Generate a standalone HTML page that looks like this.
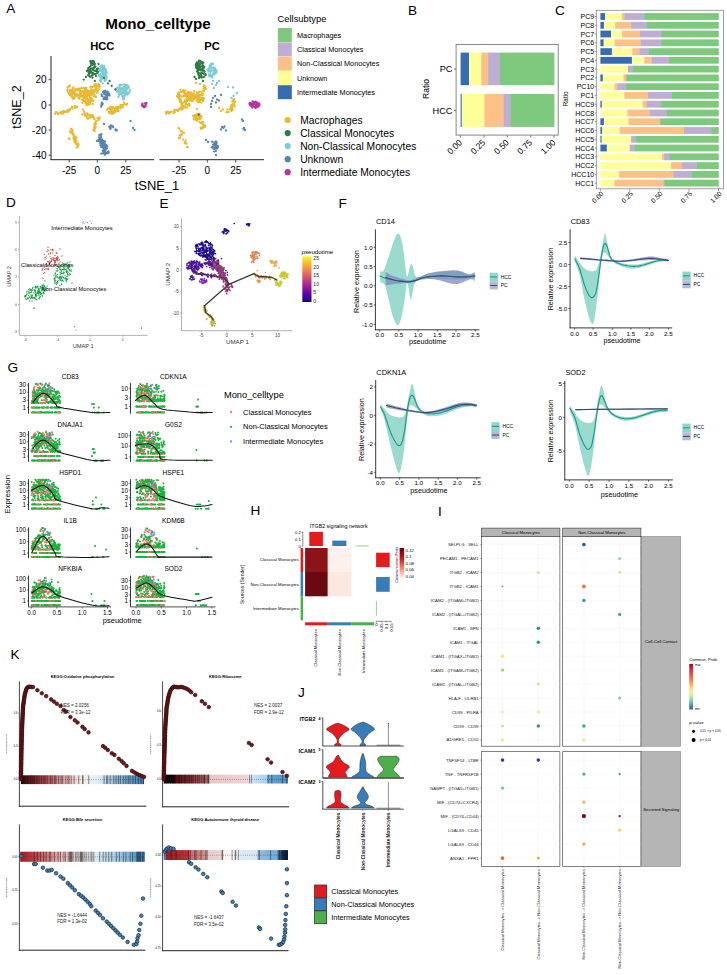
<!DOCTYPE html>
<html><head><meta charset="utf-8"><title>Figure</title>
<style>html,body{margin:0;padding:0;background:#fff}svg{display:block}text{font-family:"Liberation Sans",sans-serif}</style>
</head><body>
<svg width="727" height="975" viewBox="0 0 727 975">
<rect width="727" height="975" fill="#fff"/>
<text x="6.3" y="13.3" font-size="13.6">A</text>
<text x="408.0" y="15.3" font-size="13.6">B</text>
<text x="555.0" y="14.7" font-size="13.6">C</text>
<text x="6.0" y="206.6" font-size="13.6">D</text>
<text x="159.5" y="207.5" font-size="13.6">E</text>
<text x="338.5" y="207.5" font-size="13.6">F</text>
<text x="7.5" y="372.2" font-size="13.6">G</text>
<text x="250.5" y="515.3" font-size="13.6">H</text>
<text x="438.0" y="516.0" font-size="13.6">I</text>
<text x="298.0" y="696.5" font-size="13.6">J</text>
<text x="10.5" y="658.8" font-size="13.6">K</text>
<text x="158.0" y="28.7" font-size="15.2" text-anchor="middle" font-weight="bold">Mono_celltype</text>
<text x="102.3" y="49.8" font-size="11.2" text-anchor="middle" font-weight="bold">HCC</text>
<text x="212.0" y="49.8" font-size="11.2" text-anchor="middle" font-weight="bold">PC</text>
<line x1="51.0" y1="56.0" x2="51.0" y2="160.0" stroke="#222" stroke-width="1"/>
<line x1="50.5" y1="159.7" x2="154.0" y2="159.7" stroke="#222" stroke-width="1"/>
<line x1="159.5" y1="159.7" x2="264.0" y2="159.7" stroke="#222" stroke-width="1"/>
<line x1="48.5" y1="79.7" x2="51.0" y2="79.7" stroke="#222" stroke-width="0.8"/>
<text x="46.5" y="83.3" font-size="10" text-anchor="end">20</text>
<line x1="48.5" y1="105.0" x2="51.0" y2="105.0" stroke="#222" stroke-width="0.8"/>
<text x="46.5" y="108.6" font-size="10" text-anchor="end">0</text>
<line x1="48.5" y1="130.0" x2="51.0" y2="130.0" stroke="#222" stroke-width="0.8"/>
<text x="46.5" y="133.6" font-size="10" text-anchor="end">-20</text>
<line x1="48.5" y1="155.2" x2="51.0" y2="155.2" stroke="#222" stroke-width="0.8"/>
<text x="46.5" y="158.8" font-size="10" text-anchor="end">-40</text>
<line x1="69.2" y1="160.0" x2="69.2" y2="162.5" stroke="#222" stroke-width="0.8"/>
<text x="69.2" y="173.5" font-size="10" text-anchor="middle">-25</text>
<line x1="97.4" y1="160.0" x2="97.4" y2="162.5" stroke="#222" stroke-width="0.8"/>
<text x="97.4" y="173.5" font-size="10" text-anchor="middle">0</text>
<line x1="125.8" y1="160.0" x2="125.8" y2="162.5" stroke="#222" stroke-width="0.8"/>
<text x="125.8" y="173.5" font-size="10" text-anchor="middle">25</text>
<line x1="179.1" y1="160.0" x2="179.1" y2="162.5" stroke="#222" stroke-width="0.8"/>
<text x="179.1" y="173.5" font-size="10" text-anchor="middle">-25</text>
<line x1="207.3" y1="160.0" x2="207.3" y2="162.5" stroke="#222" stroke-width="0.8"/>
<text x="207.3" y="173.5" font-size="10" text-anchor="middle">0</text>
<line x1="235.7" y1="160.0" x2="235.7" y2="162.5" stroke="#222" stroke-width="0.8"/>
<text x="235.7" y="173.5" font-size="10" text-anchor="middle">25</text>
<text x="157.0" y="190.3" font-size="12.9" text-anchor="middle">tSNE_1</text>
<text transform="translate(20.6 107.0) rotate(-90)" font-size="12.6" text-anchor="middle">tSNE_2</text>
<path d="M77.2 96.0h0M79.7 95.3h0M71.8 96.6h0M73.4 92.9h0M73.8 93.5h0M76.4 93.9h0M77.0 89.2h0M75.4 95.3h0M79.9 91.3h0M71.1 96.0h0M81.1 94.9h0M73.5 98.8h0M76.8 94.7h0M76.5 89.7h0M72.6 91.6h0M71.4 96.7h0M79.4 94.8h0M75.4 94.5h0M70.2 95.4h0M71.9 91.1h0M73.7 97.2h0M73.2 87.5h0M72.1 91.6h0M78.3 89.7h0M73.7 98.4h0M79.7 97.3h0M75.2 88.8h0M72.5 93.2h0M74.4 91.9h0M69.9 90.5h0M72.6 98.6h0M70.5 90.0h0M70.2 94.3h0M80.6 91.0h0M72.7 89.2h0M74.5 91.5h0M80.2 92.8h0M73.7 98.8h0M73.0 89.5h0M74.1 93.2h0M77.0 94.8h0M75.2 91.4h0M75.0 95.3h0M77.8 90.1h0M73.2 93.6h0M78.6 89.8h0M78.9 88.6h0M72.0 94.7h0M77.9 90.4h0M78.7 98.2h0M75.3 95.7h0M71.9 93.3h0M74.6 98.0h0M74.6 93.2h0M71.4 91.4h0M81.5 88.1h0M80.3 90.9h0M89.4 95.8h0M85.2 87.9h0M85.9 88.2h0M80.5 96.4h0M82.5 92.4h0M85.6 94.7h0M85.7 96.5h0M87.9 95.2h0M84.1 94.1h0M82.5 95.6h0M84.8 93.3h0M87.3 98.1h0M82.0 96.7h0M87.0 96.7h0M90.4 93.7h0M79.2 94.4h0M85.6 95.1h0M83.6 97.8h0M87.4 99.0h0M85.0 93.7h0M87.1 97.8h0M89.1 94.8h0M89.0 93.4h0M81.8 88.3h0M81.6 96.5h0M84.4 91.4h0M84.9 89.3h0M84.7 97.7h0M90.3 93.4h0M86.2 88.4h0M83.6 88.1h0M80.7 93.7h0M88.1 94.7h0M83.8 95.1h0M82.7 90.9h0M77.5 96.1h0M90.8 93.5h0M79.5 98.8h0M84.5 97.0h0M84.9 96.8h0M88.5 91.0h0M77.6 94.8h0M85.7 89.0h0M82.9 92.4h0M85.3 87.9h0M78.0 94.8h0M84.7 91.3h0M85.3 90.4h0M78.5 97.9h0M88.2 92.6h0M86.9 98.8h0M85.5 95.9h0M86.3 88.2h0M85.2 91.8h0M80.2 88.6h0M80.0 92.8h0M86.5 94.2h0M79.9 88.8h0M88.6 92.1h0M87.2 90.9h0M85.5 99.7h0M83.1 97.1h0M81.1 92.4h0M89.1 93.7h0M94.0 90.6h0M88.3 93.1h0M96.1 89.0h0M95.7 89.8h0M87.5 91.0h0M96.7 92.6h0M93.8 96.2h0M92.1 91.6h0M89.3 92.5h0M86.8 89.9h0M88.3 91.5h0M93.0 86.9h0M90.0 91.2h0M91.5 95.4h0M86.3 91.7h0M92.3 86.8h0M86.2 94.3h0M86.9 91.8h0M90.4 87.3h0M87.7 91.0h0M96.2 90.3h0M95.9 87.9h0M91.6 98.8h0M96.6 90.2h0M95.9 96.9h0M89.9 92.9h0M92.1 93.9h0M91.1 90.3h0M96.6 88.3h0M91.5 89.3h0M95.3 96.4h0M98.0 90.7h0M94.9 91.0h0M87.9 92.4h0M95.2 85.9h0M89.6 93.2h0M89.5 96.3h0M90.8 94.8h0M97.5 92.7h0M87.5 93.9h0M91.6 92.8h0M86.9 91.6h0M93.6 91.8h0M97.7 90.9h0M91.8 94.3h0M92.2 90.6h0M94.3 94.6h0M95.6 89.6h0M91.7 98.3h0M94.2 90.7h0M90.5 87.0h0M93.8 92.7h0M87.2 94.6h0M93.6 91.3h0M93.7 86.7h0M93.2 90.4h0M93.1 90.6h0M89.7 96.0h0M96.3 89.7h0M90.3 102.9h0M88.3 104.6h0M89.1 102.4h0M88.4 102.1h0M86.8 103.6h0M86.6 105.2h0M90.0 104.2h0M91.8 101.3h0M91.2 101.2h0M82.7 99.7h0M85.2 101.3h0M92.9 104.0h0M82.6 102.9h0M90.3 98.0h0M83.9 100.9h0M93.4 100.5h0M89.9 98.5h0M84.4 97.8h0M85.6 103.6h0M89.0 101.8h0M87.9 99.7h0M89.7 103.2h0M89.0 99.8h0M85.1 96.9h0M88.2 103.7h0M84.6 101.7h0M85.6 101.7h0M91.2 100.4h0M81.9 99.6h0M91.1 100.5h0M85.8 103.2h0M87.8 101.1h0M83.5 100.9h0M85.1 100.9h0M88.0 101.4h0M86.4 101.9h0M89.3 101.1h0M88.4 103.7h0M83.1 100.3h0M84.9 97.4h0M99.5 84.8h0M95.9 88.2h0M99.3 88.9h0M94.9 84.5h0M97.4 86.0h0M94.4 84.5h0M98.3 84.1h0M95.5 86.3h0M98.4 84.7h0M98.7 84.1h0M99.4 85.1h0M95.8 84.2h0M98.9 86.8h0M96.1 87.3h0M97.7 85.7h0M94.9 84.9h0M95.7 84.3h0M99.8 86.5h0M70.0 85.5h0M67.6 89.2h0M72.6 91.6h0M70.0 94.3h0M69.9 91.4h0M70.8 94.1h0M73.0 89.3h0M68.2 92.4h0M69.0 86.8h0M67.7 87.1h0M72.5 91.9h0M70.0 91.9h0M69.0 94.1h0M72.6 90.3h0M69.9 91.2h0M69.0 86.2h0M69.3 94.0h0M67.5 90.8h0M67.4 112.2h0M62.3 112.4h0M55.0 113.8h0M75.8 106.5h0M61.2 112.4h0M69.1 110.8h0M77.0 107.6h0M68.0 109.9h0M61.8 112.0h0M57.5 113.4h0M65.7 111.6h0M63.0 113.5h0M56.0 112.0h0M59.8 112.4h0M74.8 107.7h0M65.7 111.7h0M63.4 112.3h0M58.3 114.2h0M62.9 112.1h0M61.3 112.4h0M65.8 111.4h0M72.0 106.6h0M74.6 106.2h0M57.0 112.4h0M71.6 108.0h0M57.5 113.1h0M65.9 111.6h0M72.4 108.5h0M69.7 110.3h0M64.9 112.1h0M61.4 112.1h0M63.1 111.1h0M66.1 111.6h0M57.8 113.4h0M61.2 113.5h0M74.7 106.3h0M64.3 111.4h0M64.1 112.3h0M77.0 107.0h0M69.9 109.2h0M62.0 113.2h0M67.2 110.8h0M74.6 107.3h0M71.9 108.3h0M69.4 110.0h0M95.7 127.1h0M94.2 130.9h0M84.6 114.0h0M94.2 127.8h0M94.5 125.5h0M84.0 111.7h0M94.0 128.2h0M85.8 115.6h0M96.1 123.7h0M93.9 118.4h0M87.8 115.2h0M86.7 117.1h0M96.5 121.1h0M88.2 118.5h0M95.7 123.8h0M93.7 117.5h0M87.3 113.4h0M89.0 115.5h0M92.1 117.0h0M95.6 124.5h0M88.5 114.8h0M95.6 127.3h0M95.2 127.9h0M94.6 119.4h0M90.9 115.2h0M85.6 114.7h0M94.5 130.7h0M82.3 114.5h0M94.5 124.0h0M94.2 130.0h0M94.5 129.1h0M94.7 123.3h0M90.4 116.8h0M87.4 118.5h0M86.5 113.6h0M91.9 115.0h0M94.0 118.3h0M92.0 116.8h0M91.4 116.9h0M93.0 115.7h0M84.3 112.7h0M94.6 131.0h0M94.3 129.3h0M93.7 129.3h0M95.4 124.8h0M83.2 109.4h0M95.7 121.6h0M85.2 115.9h0M93.7 130.4h0M89.9 117.9h0M99.3 118.2h0M99.8 117.5h0M97.6 117.9h0M98.5 120.0h0M99.2 117.8h0M99.2 119.5h0M113.1 113.3h0M114.5 110.2h0M111.0 112.5h0M117.4 107.5h0M112.4 113.8h0M114.4 110.6h0M111.9 107.4h0M113.4 112.5h0M110.2 108.3h0M112.9 106.9h0M110.2 107.0h0M114.1 108.9h0M110.0 109.2h0M112.7 107.7h0M113.0 111.7h0M114.7 111.5h0M108.0 108.3h0M110.3 111.3h0M107.0 109.8h0M114.0 108.3h0M117.8 109.8h0M111.1 110.2h0M115.9 107.1h0M118.6 110.9h0M115.4 111.4h0M115.6 109.7h0M117.1 108.8h0M115.4 108.3h0M112.7 112.5h0M118.0 108.9h0M111.4 109.3h0M114.0 112.9h0M115.3 111.8h0M112.9 111.7h0M110.3 107.6h0M115.7 110.1h0M111.5 108.0h0M112.0 111.5h0M113.8 108.4h0M117.1 111.1h0M111.5 110.7h0M110.1 107.8h0M113.9 111.0h0M108.8 111.7h0M111.9 111.9h0M110.8 113.4h0M110.2 112.2h0M115.5 108.2h0M109.1 112.9h0M112.6 108.3h0M122.9 107.3h0M122.7 105.4h0M124.6 104.3h0M117.6 107.4h0M126.7 104.8h0M121.2 106.6h0M118.6 106.6h0M117.8 107.7h0M126.0 104.2h0M126.9 103.6h0M120.4 107.3h0M123.9 102.6h0M120.4 106.6h0M123.2 104.8h0M120.6 108.4h0M122.5 106.4h0M120.5 104.8h0M117.6 107.1h0M119.6 107.4h0M122.0 105.2h0M120.0 107.6h0M121.5 105.4h0M75.2 137.5h0M74.5 139.9h0M76.0 143.8h0M74.6 138.2h0M74.7 137.7h0M75.9 138.9h0M70.9 128.9h0M75.7 139.0h0M73.7 136.0h0M78.5 145.1h0M77.7 147.0h0M76.5 137.6h0M72.1 130.0h0M69.9 131.6h0M72.2 131.6h0M77.4 145.2h0M77.4 147.2h0M74.4 138.7h0M72.9 134.5h0M76.6 141.2h0M77.5 144.5h0M74.6 142.3h0M73.2 138.3h0M72.6 131.0h0M73.6 135.7h0M76.6 147.4h0M75.9 143.5h0M78.2 143.4h0M70.3 131.7h0M74.9 139.1h0M71.1 129.2h0M74.6 140.9h0M77.5 146.4h0M76.1 141.1h0M73.7 136.4h0M70.8 132.7h0M71.0 132.2h0M72.1 131.3h0M72.6 132.7h0M77.2 144.4h0M73.6 134.2h0M74.3 140.6h0M75.4 136.7h0M72.4 133.6h0M74.2 139.3h0M69.0 138.3h0M68.9 138.5h0M69.6 139.3h0" stroke="#E8BA34" stroke-width="2.3" stroke-linecap="round" fill="none"/>
<path d="M104.0 93.7h0M103.5 92.3h0M107.3 98.9h0M104.7 97.5h0M106.2 94.3h0M104.7 90.9h0M105.7 94.7h0M101.8 95.9h0M101.9 96.2h0M107.2 96.4h0M107.6 95.6h0M105.5 92.2h0M107.6 91.7h0M105.1 99.0h0M102.5 96.4h0M101.6 94.4h0M104.1 93.1h0M106.4 99.6h0M109.6 95.4h0M105.7 97.4h0M109.1 93.6h0M103.7 98.7h0M103.5 99.0h0M107.3 93.7h0M104.3 91.4h0M109.1 94.5h0M107.1 92.2h0M107.8 91.9h0M105.0 91.9h0M104.3 98.4h0M104.0 93.5h0M106.5 94.3h0M107.1 95.3h0M106.8 94.3h0M107.1 97.2h0M106.2 95.2h0M103.1 92.0h0M105.2 91.0h0M104.5 94.3h0M106.6 92.4h0M102.4 103.3h0M101.6 104.3h0M102.7 103.9h0M101.5 105.6h0M101.9 105.0h0M101.9 102.6h0M101.9 103.0h0M101.1 106.8h0M102.1 139.4h0M100.0 141.4h0M99.6 137.6h0M104.5 149.9h0M101.3 153.7h0M106.6 147.3h0M103.5 142.5h0M104.3 148.5h0M107.2 153.3h0M101.5 139.3h0M105.6 149.9h0M101.3 144.9h0M99.2 139.7h0M104.8 154.8h0M101.9 143.7h0M105.7 146.2h0M100.5 135.3h0M104.4 149.4h0M100.4 145.3h0M100.3 137.5h0M100.4 143.2h0M101.9 147.0h0M99.1 141.0h0M105.5 147.6h0M101.8 143.2h0M103.7 149.4h0M98.1 140.3h0M106.2 147.4h0M104.8 153.3h0M100.7 139.0h0M101.0 140.0h0M101.0 142.0h0M103.4 145.9h0M108.5 151.5h0M96.9 140.9h0M105.2 148.9h0M100.2 139.3h0M100.4 140.3h0M103.4 141.0h0M103.0 143.7h0M99.1 137.8h0M106.8 148.6h0M105.0 144.5h0M100.3 137.4h0M104.6 147.3h0M104.2 146.9h0M101.3 141.4h0M103.6 141.3h0M105.2 148.8h0M102.4 143.1h0M106.1 147.7h0M105.5 146.2h0M104.4 144.7h0M106.1 147.8h0M103.7 153.3h0M102.7 145.5h0M102.5 142.9h0M101.3 147.2h0M100.1 138.7h0M108.6 152.9h0M103.4 143.0h0M104.4 143.4h0M102.7 142.3h0M101.5 143.6h0M103.3 153.2h0M104.5 151.3h0M100.7 135.8h0M103.3 147.7h0M102.2 140.1h0M106.3 144.9h0M103.2 146.2h0M100.9 137.2h0M104.8 153.1h0M100.1 141.4h0M99.3 134.9h0M100.4 142.4h0M101.8 142.1h0M105.0 141.4h0M101.4 134.2h0M107.2 152.5h0M105.4 147.3h0M103.7 152.6h0M100.8 138.8h0M105.0 150.9h0M104.9 151.8h0M102.7 150.7h0M107.3 146.4h0M105.8 153.6h0M104.4 143.8h0M103.7 151.8h0M102.0 141.9h0M99.0 137.3h0M102.1 144.8h0M107.8 152.0h0M101.7 143.5h0M110.1 128.4h0M112.9 126.7h0M111.1 126.5h0M113.2 127.3h0M110.8 125.4h0M110.5 128.9h0M109.3 126.9h0M112.7 126.1h0M111.4 126.6h0M115.9 130.3h0M115.6 130.3h0M115.5 129.4h0M116.8 130.5h0M115.7 129.9h0M130.5 121.0h0M133.0 128.0h0M134.5 130.0h0M104.0 124.0h0" stroke="#5585AE" stroke-width="2.3" stroke-linecap="round" fill="none"/>
<path d="M104.2 68.2h0M103.9 69.9h0M100.1 74.2h0M100.6 74.1h0M100.5 66.7h0M101.0 81.5h0M102.1 79.3h0M100.7 69.0h0M106.4 76.4h0M105.5 69.1h0M105.8 76.4h0M105.1 74.5h0M104.4 72.4h0M101.0 68.2h0M105.9 69.9h0M100.4 69.4h0M101.7 67.4h0M101.4 67.8h0M101.8 70.6h0M103.0 68.0h0M103.4 77.0h0M102.9 72.5h0M100.6 66.9h0M103.9 69.2h0M99.4 71.2h0M102.1 78.8h0M101.7 79.8h0M101.1 69.6h0M106.6 77.3h0M105.9 76.0h0M103.3 71.3h0M105.6 70.8h0M105.6 74.9h0M100.6 71.1h0M106.8 73.2h0M100.3 77.7h0M102.0 72.0h0M103.9 77.8h0M103.3 74.3h0M105.3 79.6h0M106.3 79.1h0M105.5 80.6h0M102.7 73.1h0M102.6 69.7h0M104.5 75.5h0M102.0 66.3h0M102.3 65.8h0M102.0 72.3h0M99.4 76.2h0M102.7 83.3h0M102.0 65.4h0M103.2 74.4h0M104.2 67.5h0M102.4 76.7h0M104.6 81.2h0M98.9 75.0h0M102.1 76.0h0M99.8 76.9h0M104.9 80.3h0M100.4 80.6h0M100.5 68.9h0M100.8 78.3h0M106.3 71.5h0M99.4 70.9h0M104.9 76.2h0M101.6 65.5h0M100.9 81.7h0M106.0 73.3h0M99.7 69.3h0M100.7 76.5h0M100.0 80.4h0M100.0 69.7h0M104.2 66.1h0M105.0 74.4h0M100.9 76.5h0M125.2 85.9h0M129.4 91.7h0M125.4 85.0h0M117.1 87.7h0M125.2 87.6h0M120.5 85.1h0M119.2 95.1h0M121.1 89.6h0M124.9 95.5h0M128.5 88.0h0M120.3 88.3h0M117.4 91.3h0M122.9 93.0h0M124.6 85.0h0M127.0 92.4h0M123.9 84.7h0M120.0 88.8h0M128.0 86.3h0M118.0 90.9h0M125.0 94.6h0M124.3 92.7h0M119.2 94.1h0M118.7 92.9h0M126.0 93.8h0M124.5 90.2h0M126.4 92.5h0M124.3 85.4h0M120.7 88.8h0M118.9 89.8h0M124.0 90.4h0M127.6 85.6h0M118.5 88.4h0M123.7 87.1h0M127.3 88.9h0M125.6 85.3h0M122.8 96.3h0M123.4 91.3h0M125.6 91.5h0M121.5 89.7h0M116.7 91.7h0M128.8 87.0h0M121.6 89.3h0M126.2 92.9h0M122.7 96.3h0M119.7 86.6h0M119.7 84.9h0M118.8 91.4h0M125.7 89.7h0M124.2 96.3h0M122.9 91.4h0M126.4 88.1h0M126.5 85.2h0M123.3 88.9h0M119.4 86.0h0M129.5 92.3h0M123.1 87.8h0M120.0 84.8h0M119.8 88.4h0M127.8 93.5h0M122.8 93.7h0M120.6 90.5h0M123.2 92.7h0M121.8 88.1h0M122.8 89.5h0M126.0 90.8h0M124.2 96.1h0M127.5 85.7h0M127.2 94.7h0M126.8 92.6h0M126.7 85.2h0M117.7 91.7h0M124.8 87.0h0M119.6 87.1h0M123.5 92.5h0M122.6 88.8h0M126.2 93.8h0M122.3 96.0h0M125.5 93.5h0M124.9 87.5h0M125.0 93.3h0M121.0 94.2h0M128.0 94.1h0M129.5 92.3h0M119.7 85.1h0M119.8 90.6h0M122.8 93.5h0M120.9 92.3h0M130.0 90.1h0M128.5 93.6h0M126.0 88.2h0M122.8 88.7h0M126.8 89.8h0M123.3 89.5h0M125.6 93.0h0M123.2 90.0h0M125.0 94.3h0M126.9 88.1h0M120.1 88.9h0M124.1 92.3h0M121.5 84.9h0M124.0 98.5h0M123.2 97.6h0M123.4 99.5h0M123.1 97.4h0M123.9 96.3h0M123.8 99.6h0M123.5 97.4h0M123.4 96.6h0M116.0 89.5h0M118.5 97.0h0" stroke="#7DCBD3" stroke-width="2.3" stroke-linecap="round" fill="none"/>
<path d="M93.0 68.9h0M94.4 66.9h0M86.9 70.8h0M93.1 70.0h0M95.4 66.8h0M93.7 74.1h0M88.8 75.6h0M90.8 72.7h0M97.1 70.7h0M88.4 72.3h0M95.6 74.2h0M94.6 64.7h0M90.1 76.8h0M88.8 74.8h0M97.3 72.9h0M97.9 68.5h0M88.3 70.1h0M88.2 69.2h0M93.3 70.3h0M93.7 73.7h0M92.5 72.9h0M97.8 71.8h0M91.9 68.3h0M95.1 70.9h0M88.4 67.8h0M91.2 65.3h0M93.8 68.7h0M97.4 72.3h0M90.4 70.6h0M91.7 75.7h0M90.8 72.0h0M90.6 69.0h0M95.9 76.1h0M92.4 64.8h0M93.6 67.8h0M88.1 75.2h0M94.6 66.4h0M89.1 73.8h0M93.5 63.3h0M92.7 74.9h0M89.3 72.2h0M94.5 63.5h0M94.8 63.9h0M97.7 72.8h0M96.7 69.1h0M92.5 77.7h0M89.9 66.9h0M88.9 69.6h0M91.1 71.3h0M96.7 71.2h0M92.9 63.3h0M94.0 62.3h0M92.7 60.9h0M93.8 61.3h0M91.7 63.0h0M91.4 61.9h0M90.7 63.0h0M90.3 61.2h0M90.8 63.3h0M93.6 62.8h0M83.7 79.6h0M86.0 77.0h0M94.8 80.9h0M98.5 64.0h0M109.6 81.0h0M111.7 85.8h0M108.0 83.3h0M115.4 89.5h0M104.0 78.0h0" stroke="#2C7A45" stroke-width="2.3" stroke-linecap="round" fill="none"/>
<path d="M143.5 106.4h0M145.5 106.5h0M145.9 104.4h0M143.8 107.0h0M142.3 104.6h0M144.7 105.8h0M143.7 106.0h0M143.6 106.7h0M145.1 105.7h0M145.0 103.3h0M142.2 104.1h0M144.6 107.2h0M141.9 105.6h0M142.5 103.7h0M143.3 106.8h0M144.2 106.4h0M146.5 103.0h0" stroke="#B0379F" stroke-width="2.3" stroke-linecap="round" fill="none"/>
<path d="M179.8 100.8h0M187.6 97.5h0M185.3 93.4h0M180.3 95.6h0M182.1 102.5h0M181.3 104.6h0M185.9 102.9h0M184.1 95.5h0M186.7 99.0h0M179.5 98.8h0M187.0 101.3h0M185.8 96.0h0M185.9 102.7h0M180.9 100.7h0M179.3 92.6h0M185.4 90.4h0M182.7 91.3h0M183.3 90.1h0M183.9 91.6h0M187.3 93.6h0M184.5 94.9h0M183.0 96.5h0M178.4 97.1h0M177.7 93.6h0M183.8 91.9h0M178.6 92.3h0M179.5 98.5h0M182.3 91.7h0M180.5 99.7h0M179.7 101.0h0M183.8 92.6h0M177.5 97.0h0M184.6 101.9h0M185.0 100.5h0M179.0 94.0h0M184.6 95.9h0M184.9 93.2h0M188.3 95.1h0M180.6 98.6h0M188.7 97.5h0M181.8 96.3h0M186.7 94.3h0M177.9 95.3h0M177.0 96.1h0M181.3 91.7h0M180.7 100.9h0M180.3 102.0h0M180.4 90.0h0M186.5 100.4h0M180.0 99.9h0M179.0 94.3h0M188.5 95.3h0M179.1 99.0h0M187.7 96.8h0M179.5 96.1h0M185.6 103.3h0M186.4 96.4h0M177.6 96.4h0M184.6 95.4h0M185.1 91.0h0M196.6 92.5h0M194.2 99.0h0M188.8 95.8h0M193.6 99.6h0M190.2 94.3h0M189.2 99.4h0M188.1 91.9h0M191.0 96.6h0M190.1 100.6h0M197.0 96.1h0M193.8 93.5h0M189.7 92.3h0M189.3 96.0h0M191.6 100.1h0M187.3 95.1h0M186.7 93.5h0M194.8 98.4h0M192.1 93.8h0M193.6 97.1h0M189.5 95.7h0M187.9 92.7h0M197.0 97.9h0M192.1 95.4h0M191.3 92.9h0M193.7 98.9h0M194.5 97.7h0M187.0 93.4h0M188.6 97.0h0M195.5 97.2h0M187.1 93.4h0M186.5 98.0h0M192.0 100.3h0M193.1 95.5h0M189.8 100.7h0M194.3 91.2h0M189.4 94.2h0M186.1 96.2h0M192.3 101.4h0M191.3 92.6h0M191.0 98.4h0M186.4 96.5h0M192.2 100.9h0M190.4 97.8h0M194.6 95.6h0M189.0 94.9h0M190.0 95.6h0M188.9 98.0h0M193.1 97.0h0M188.8 100.0h0M193.1 98.5h0M200.2 100.2h0M199.5 96.0h0M201.6 99.9h0M203.5 99.8h0M201.3 94.3h0M198.3 97.7h0M201.5 91.8h0M198.8 98.9h0M197.0 100.6h0M201.3 102.7h0M195.1 96.8h0M197.7 97.8h0M199.5 94.9h0M202.1 95.2h0M197.4 100.4h0M198.1 95.1h0M201.6 95.0h0M198.3 96.8h0M199.5 101.4h0M196.7 100.5h0M196.3 95.0h0M197.9 99.1h0M200.6 98.6h0M198.0 102.0h0M203.2 100.1h0M197.6 100.4h0M199.0 101.1h0M199.5 98.4h0M201.7 99.0h0M199.1 102.0h0M202.7 94.9h0M203.3 93.5h0M203.1 101.1h0M202.6 97.6h0M197.9 92.8h0M197.5 98.9h0M198.7 92.4h0M201.4 94.5h0M198.0 94.4h0M201.6 98.7h0M199.5 91.3h0M204.1 98.3h0M200.5 98.0h0M199.3 99.5h0M203.0 97.9h0M203.7 86.5h0M205.0 86.7h0M204.2 85.4h0M203.5 88.7h0M203.4 90.4h0M204.5 87.9h0M204.1 91.0h0M204.8 87.4h0M206.1 88.8h0M205.3 89.1h0M187.1 107.6h0M186.0 102.1h0M185.5 104.2h0M186.0 103.1h0M185.1 107.7h0M187.4 104.7h0M188.9 104.2h0M185.7 102.5h0M182.8 103.0h0M189.2 105.7h0M182.2 106.1h0M189.2 104.1h0M186.1 103.9h0M185.7 104.4h0M185.7 107.7h0M189.6 104.6h0M182.2 104.3h0M188.3 105.5h0M183.5 105.9h0M185.2 106.3h0M167.2 111.8h0M169.4 113.5h0M173.9 111.4h0M170.8 112.0h0M174.6 112.3h0M175.1 110.6h0M176.4 109.8h0M179.1 109.3h0M170.0 112.7h0M166.0 113.8h0M177.4 110.2h0M170.2 112.3h0M168.2 112.9h0M182.9 107.7h0M179.0 109.8h0M166.2 113.1h0M168.4 112.7h0M180.9 107.7h0M181.5 107.9h0M169.7 112.6h0M179.4 109.0h0M167.4 111.6h0M182.4 109.7h0M180.0 108.4h0M168.7 112.1h0M171.1 111.7h0M180.0 109.4h0M174.4 109.9h0M179.4 108.9h0M173.6 111.5h0M170.2 112.1h0M178.0 110.9h0M182.7 108.3h0M173.6 112.9h0M165.9 112.2h0M178.7 109.8h0M176.2 110.2h0M170.1 112.6h0M180.3 108.9h0M169.5 112.6h0M197.9 119.2h0M196.4 118.0h0M200.0 116.5h0M199.8 114.1h0M201.3 116.1h0M198.3 114.1h0M196.5 116.1h0M196.0 120.0h0M200.3 116.1h0M195.1 114.8h0M195.6 118.8h0M201.2 117.7h0M196.2 115.4h0M199.6 118.4h0M194.5 119.3h0M194.0 118.5h0M194.0 115.8h0M199.1 118.7h0M198.5 115.9h0M199.5 118.9h0M196.9 120.7h0M195.6 116.8h0M194.7 117.1h0M197.5 119.9h0M199.6 119.0h0M194.3 115.5h0M195.9 117.6h0M195.9 117.4h0M193.0 115.8h0M197.2 113.6h0M198.5 116.9h0M200.1 119.0h0M193.8 119.3h0M198.8 116.6h0M197.5 114.0h0M201.3 122.6h0M202.1 123.7h0M204.7 126.7h0M201.8 127.6h0M205.1 125.3h0M202.1 128.0h0M202.4 128.4h0M204.0 126.2h0M203.3 122.3h0M204.6 127.2h0M199.4 122.2h0M202.3 122.1h0M202.7 124.6h0M202.0 127.6h0M201.4 123.2h0M201.0 123.0h0M203.3 127.0h0M200.7 127.7h0M202.8 127.5h0M203.8 125.1h0M202.2 127.8h0M202.3 122.0h0M203.1 124.7h0M200.9 129.0h0M205.1 126.4h0M203.0 122.7h0M200.8 123.0h0M203.6 124.6h0M182.2 131.6h0M181.9 131.4h0M179.9 138.0h0M181.1 135.3h0M181.9 133.9h0M184.0 132.7h0M178.6 127.9h0M180.3 135.7h0M181.0 134.8h0M181.7 134.8h0M180.7 135.9h0M179.8 135.3h0M180.6 131.3h0M179.5 129.1h0M178.9 138.0h0M180.8 131.1h0M185.7 140.3h0M184.9 143.3h0M185.2 141.9h0M184.7 142.6h0M186.5 143.7h0M187.0 147.2h0M183.1 139.7h0M185.4 141.6h0M187.7 147.1h0M228.5 112.2h0M234.4 100.5h0M230.9 110.3h0M232.1 101.3h0M231.8 110.3h0M227.6 111.9h0M230.2 109.8h0M234.2 102.7h0M227.4 109.4h0M232.9 104.2h0M230.0 109.6h0M234.2 104.9h0M233.3 99.5h0M231.7 106.2h0M234.8 106.5h0M232.2 107.6h0M231.4 107.5h0M234.2 101.4h0M231.5 111.0h0M231.4 105.4h0M231.2 106.4h0M233.3 103.7h0M230.7 107.7h0M233.8 101.4h0M232.3 107.3h0M228.2 112.0h0M231.5 105.0h0M233.8 104.8h0M230.3 110.0h0M234.9 102.0h0M232.9 109.7h0M233.5 105.4h0M230.8 109.4h0M234.1 99.2h0M226.3 112.3h0M233.6 103.6h0M233.7 104.1h0M231.7 110.2h0M233.1 105.1h0M230.0 108.9h0M219.0 108.0h0M221.0 111.0h0M223.0 109.5h0M196.0 83.0h0M200.0 84.0h0M197.0 109.0h0" stroke="#E8BA34" stroke-width="2.3" stroke-linecap="round" fill="none"/>
<path d="M213.0 98.0h0M215.0 96.0h0M217.0 99.5h0M211.0 104.0h0M219.0 100.5h0M216.0 102.5h0M212.0 101.0h0M211.0 107.0h0M221.0 95.0h0M222.0 127.0h0M223.5 128.0h0M226.0 130.5h0M221.0 129.5h0M224.5 126.5h0M242.0 119.5h0M243.0 121.0h0M244.0 128.0h0M245.0 130.0h0M243.5 129.0h0M212.1 141.8h0M214.5 148.8h0M212.8 147.2h0M215.0 148.8h0M212.5 141.9h0M216.5 145.9h0M213.0 144.8h0M215.4 144.2h0M214.1 151.6h0M215.9 141.3h0M213.6 148.8h0M216.4 143.4h0M213.9 143.8h0M211.8 147.3h0M216.5 142.9h0M215.7 144.2h0M214.9 142.5h0M215.9 151.1h0M217.8 145.8h0M216.4 146.5h0M215.7 145.7h0M214.8 145.7h0M214.4 143.7h0M215.0 147.6h0M217.0 148.7h0M216.3 144.3h0M216.7 142.6h0M218.0 147.2h0M215.0 143.2h0M217.4 147.2h0M206.0 140.0h0M208.0 142.0h0M216.0 155.0h0" stroke="#5585AE" stroke-width="2.3" stroke-linecap="round" fill="none"/>
<path d="M212.4 76.1h0M214.4 73.8h0M212.6 70.6h0M213.9 67.7h0M210.4 70.9h0M210.5 71.9h0M211.2 67.7h0M211.9 67.8h0M214.5 74.2h0M209.3 70.8h0M209.4 76.6h0M214.1 70.0h0M211.5 63.6h0M213.1 74.3h0M214.1 72.3h0M211.0 70.6h0M209.2 69.0h0M214.8 71.0h0M209.8 65.5h0M208.8 69.0h0M215.8 70.0h0M211.1 63.7h0M210.8 75.1h0M214.9 69.9h0M209.8 73.8h0M213.8 74.5h0M216.6 71.0h0M215.2 68.1h0M210.2 68.2h0M212.2 75.4h0M213.5 73.0h0M212.9 63.9h0M216.2 72.9h0M210.3 76.4h0M208.5 68.9h0M214.5 69.9h0M212.0 70.5h0M207.8 70.3h0M215.5 70.5h0M210.5 68.0h0M209.1 75.2h0M209.0 74.7h0M209.5 67.1h0M210.3 76.3h0M208.5 69.1h0M210.3 68.4h0M214.0 68.6h0M211.4 65.6h0M208.7 71.5h0M213.4 73.5h0M207.6 69.4h0M208.7 69.8h0M212.3 77.5h0M212.8 67.9h0M210.0 66.7h0M213.0 81.0h0M212.0 84.0h0M217.0 83.0h0M219.0 81.0h0M228.0 87.0h0M233.0 87.5h0M237.0 93.0h0M233.5 96.0h0M231.5 98.0h0M214.0 88.0h0M216.0 85.0h0" stroke="#7DCBD3" stroke-width="2.3" stroke-linecap="round" fill="none"/>
<path d="M203.4 62.7h0M204.3 66.8h0M201.5 62.8h0M203.1 68.7h0M200.0 67.5h0M199.0 66.8h0M195.7 64.9h0M202.7 67.3h0M203.0 65.4h0M196.2 66.8h0M201.0 62.2h0M202.5 69.0h0M197.3 68.6h0M200.3 69.1h0M198.4 68.1h0M202.9 65.8h0M198.1 64.5h0M200.5 66.6h0M199.4 69.7h0M200.1 68.3h0M203.7 68.0h0M202.4 62.4h0M198.1 66.5h0M196.8 62.5h0M202.8 66.3h0M197.9 68.0h0M198.9 69.6h0M198.2 62.9h0M197.4 69.1h0M197.4 64.0h0M201.7 70.0h0M198.9 60.7h0M198.5 62.9h0M202.5 66.7h0M197.0 68.5h0M196.5 65.6h0M200.2 60.8h0M199.4 65.1h0M196.8 66.3h0M196.2 67.8h0M202.5 63.3h0M196.8 65.7h0M201.6 62.3h0M199.8 61.4h0M202.9 66.3h0M196.3 64.1h0M200.5 61.1h0M200.3 67.2h0M200.5 64.2h0M201.3 66.3h0M196.2 63.8h0M199.5 64.4h0M196.0 66.0h0M199.6 64.4h0M197.3 63.9h0M203.5 68.4h0M204.3 76.7h0M198.6 72.7h0M201.9 73.0h0M201.3 75.6h0M201.4 75.8h0M197.1 71.4h0M198.4 74.7h0M201.1 74.1h0M203.0 68.6h0M201.3 77.6h0M203.6 73.7h0M198.9 75.6h0M198.1 73.2h0M199.0 75.9h0M202.9 77.3h0M197.0 71.3h0M201.1 74.0h0M198.4 75.0h0M199.8 76.4h0M202.2 70.5h0M200.8 70.4h0M197.8 70.6h0M204.6 71.7h0M203.9 70.7h0M200.4 73.5h0M205.3 74.2h0M205.7 75.0h0M196.0 79.0h0M199.0 78.0h0M203.0 81.0h0M198.8 114.7h0M194.5 77.0h0" stroke="#2C7A45" stroke-width="2.3" stroke-linecap="round" fill="none"/>
<path d="M256.2 107.0h0M249.9 102.9h0M249.8 104.3h0M252.6 101.5h0M255.2 106.3h0M257.4 107.1h0M255.8 107.8h0M255.9 105.0h0M258.9 103.3h0M252.7 102.2h0M256.7 103.2h0M256.9 106.9h0M254.1 103.4h0M255.0 103.6h0M254.8 106.3h0M252.8 106.9h0M256.7 106.6h0M252.3 107.5h0M257.3 107.1h0M259.1 103.9h0M257.7 104.8h0M252.5 102.5h0M252.1 103.8h0M252.9 104.6h0M250.5 105.7h0M257.7 106.4h0M257.9 106.7h0M259.5 104.2h0M249.5 103.7h0M252.9 106.0h0M250.0 104.4h0M258.7 106.3h0M256.9 102.3h0M250.6 103.6h0M255.5 105.2h0M256.6 103.1h0M255.2 107.8h0M259.4 105.0h0M258.4 103.7h0M257.4 103.5h0M258.5 105.3h0M251.6 105.0h0M254.4 102.4h0M255.0 102.7h0M257.1 105.2h0M257.7 105.9h0M255.4 101.6h0M250.6 105.0h0M253.5 104.2h0M253.5 103.4h0M252.8 103.7h0M252.3 105.9h0M256.7 107.0h0M256.5 103.7h0M256.1 102.5h0M249.7 104.7h0M256.2 105.1h0M258.1 106.7h0M250.9 103.7h0M252.8 104.6h0M252.4 104.0h0M252.0 106.3h0M252.6 105.3h0M256.1 105.5h0M256.3 103.0h0M257.3 102.6h0M255.1 104.1h0M255.4 101.7h0M253.0 101.6h0M254.5 102.5h0" stroke="#B0379F" stroke-width="2.3" stroke-linecap="round" fill="none"/>
<text x="277.5" y="21.5" font-size="9.4">Cellsubtype</text>
<rect x="277.8" y="28.0" width="14.0" height="14.0" fill="#7FC97F"/>
<text x="297.0" y="37.8" font-size="7.3">Macrophages</text>
<rect x="277.8" y="42.3" width="14.0" height="14.0" fill="#BEAED4"/>
<text x="297.0" y="52.1" font-size="7.3">Classical Monocytes</text>
<rect x="277.8" y="56.6" width="14.0" height="14.0" fill="#FDC086"/>
<text x="297.0" y="66.4" font-size="7.3">Non-Classical Monocytes</text>
<rect x="277.8" y="70.9" width="14.0" height="14.0" fill="#FFFF99"/>
<text x="297.0" y="80.7" font-size="7.3">Unknown</text>
<rect x="277.8" y="85.2" width="14.0" height="14.0" fill="#386CB0"/>
<text x="297.0" y="95.0" font-size="7.3">Intermediate Monocytes</text>
<circle cx="287.7" cy="120.0" r="3.1" fill="#E8BA34"/>
<text x="300.2" y="123.7" font-size="10.3">Macrophages</text>
<circle cx="287.7" cy="133.1" r="3.1" fill="#2C7A45"/>
<text x="300.2" y="136.8" font-size="10.3">Classical Monocytes</text>
<circle cx="287.7" cy="146.1" r="3.1" fill="#7DCBD3"/>
<text x="300.2" y="149.8" font-size="10.3">Non-Classical Monocytes</text>
<circle cx="287.7" cy="159.2" r="3.1" fill="#5585AE"/>
<text x="300.2" y="162.8" font-size="10.3">Unknown</text>
<circle cx="287.7" cy="172.2" r="3.1" fill="#B0379F"/>
<text x="300.2" y="175.9" font-size="10.3">Intermediate Monocytes</text>
<rect x="456.1" y="44.4" width="102.1" height="90.7" fill="none" stroke="#7a7a7a" stroke-width="0.9"/>
<rect x="460.6" y="52.6" width="8.7" height="32.6" fill="#386CB0"/>
<rect x="469.0" y="52.6" width="12.5" height="32.6" fill="#FFFF99"/>
<rect x="481.2" y="52.6" width="7.2" height="32.6" fill="#FDC086"/>
<rect x="488.1" y="52.6" width="12.1" height="32.6" fill="#BEAED4"/>
<rect x="499.9" y="52.6" width="54.5" height="32.6" fill="#7FC97F"/>
<rect x="460.6" y="93.9" width="1.4" height="33.0" fill="#386CB0"/>
<rect x="461.7" y="93.9" width="22.9" height="33.0" fill="#FFFF99"/>
<rect x="484.3" y="93.9" width="19.5" height="33.0" fill="#FDC086"/>
<rect x="503.5" y="93.9" width="6.9" height="33.0" fill="#BEAED4"/>
<rect x="510.2" y="93.9" width="44.2" height="33.0" fill="#7FC97F"/>
<line x1="454.0" y1="69.1" x2="456.0" y2="69.1" stroke="#333" stroke-width="0.7"/>
<text x="452.5" y="72.4" font-size="9.2" text-anchor="end">PC</text>
<line x1="454.0" y1="110.4" x2="456.0" y2="110.4" stroke="#333" stroke-width="0.7"/>
<text x="452.5" y="113.7" font-size="9.2" text-anchor="end">HCC</text>
<text transform="translate(429.0 89.0) rotate(-90)" font-size="8.6" text-anchor="middle">Ratio</text>
<line x1="460.6" y1="135.5" x2="460.6" y2="137.5" stroke="#333" stroke-width="0.7"/>
<text transform="translate(462.6 143.0) rotate(-45)" font-size="8.6" text-anchor="end">0.00</text>
<line x1="484.0" y1="135.5" x2="484.0" y2="137.5" stroke="#333" stroke-width="0.7"/>
<text transform="translate(486.0 143.0) rotate(-45)" font-size="8.6" text-anchor="end">0.25</text>
<line x1="507.4" y1="135.5" x2="507.4" y2="137.5" stroke="#333" stroke-width="0.7"/>
<text transform="translate(509.4 143.0) rotate(-45)" font-size="8.6" text-anchor="end">0.50</text>
<line x1="530.7" y1="135.5" x2="530.7" y2="137.5" stroke="#333" stroke-width="0.7"/>
<text transform="translate(532.7 143.0) rotate(-45)" font-size="8.6" text-anchor="end">0.75</text>
<line x1="554.1" y1="135.5" x2="554.1" y2="137.5" stroke="#333" stroke-width="0.7"/>
<text transform="translate(556.1 143.0) rotate(-45)" font-size="8.6" text-anchor="end">1.00</text>
<rect x="596.3" y="10.3" width="127.3" height="178.5" fill="none" stroke="#8a8a8a" stroke-width="0.8"/>
<rect x="600.4" y="13.1" width="5.0" height="6.8" fill="#386CB0"/>
<rect x="605.1" y="13.1" width="17.2" height="6.8" fill="#FFFF99"/>
<rect x="622.0" y="13.1" width="3.0" height="6.8" fill="#FDC086"/>
<rect x="624.7" y="13.1" width="19.7" height="6.8" fill="#BEAED4"/>
<rect x="644.1" y="13.1" width="74.7" height="6.8" fill="#7FC97F"/>
<line x1="594.8" y1="16.5" x2="596.3" y2="16.5" stroke="#333" stroke-width="0.5"/>
<text x="594.2" y="19.0" font-size="7.0" text-anchor="end">PC9</text>
<rect x="600.4" y="21.9" width="3.8" height="6.8" fill="#386CB0"/>
<rect x="603.9" y="21.9" width="11.5" height="6.8" fill="#FFFF99"/>
<rect x="615.2" y="21.9" width="16.2" height="6.8" fill="#FDC086"/>
<rect x="631.1" y="21.9" width="16.0" height="6.8" fill="#BEAED4"/>
<rect x="646.8" y="21.9" width="72.0" height="6.8" fill="#7FC97F"/>
<line x1="594.8" y1="25.3" x2="596.3" y2="25.3" stroke="#333" stroke-width="0.5"/>
<text x="594.2" y="27.8" font-size="7.0" text-anchor="end">PC8</text>
<rect x="600.4" y="30.6" width="10.9" height="6.8" fill="#386CB0"/>
<rect x="611.0" y="30.6" width="11.3" height="6.8" fill="#FFFF99"/>
<rect x="622.0" y="30.6" width="18.3" height="6.8" fill="#FDC086"/>
<rect x="640.0" y="30.6" width="21.4" height="6.8" fill="#BEAED4"/>
<rect x="661.1" y="30.6" width="57.7" height="6.8" fill="#7FC97F"/>
<line x1="594.8" y1="34.0" x2="596.3" y2="34.0" stroke="#333" stroke-width="0.5"/>
<text x="594.2" y="36.5" font-size="7.0" text-anchor="end">PC7</text>
<rect x="600.4" y="39.4" width="3.5" height="6.8" fill="#386CB0"/>
<rect x="603.6" y="39.4" width="11.3" height="6.8" fill="#FFFF99"/>
<rect x="614.6" y="39.4" width="26.5" height="6.8" fill="#FDC086"/>
<rect x="640.8" y="39.4" width="20.6" height="6.8" fill="#BEAED4"/>
<rect x="661.1" y="39.4" width="57.7" height="6.8" fill="#7FC97F"/>
<line x1="594.8" y1="42.8" x2="596.3" y2="42.8" stroke="#333" stroke-width="0.5"/>
<text x="594.2" y="45.3" font-size="7.0" text-anchor="end">PC6</text>
<rect x="600.4" y="48.2" width="11.8" height="6.8" fill="#386CB0"/>
<rect x="611.9" y="48.2" width="20.7" height="6.8" fill="#FFFF99"/>
<rect x="632.3" y="48.2" width="7.4" height="6.8" fill="#FDC086"/>
<rect x="639.4" y="48.2" width="9.4" height="6.8" fill="#BEAED4"/>
<rect x="648.5" y="48.2" width="70.3" height="6.8" fill="#7FC97F"/>
<line x1="594.8" y1="51.6" x2="596.3" y2="51.6" stroke="#333" stroke-width="0.5"/>
<text x="594.2" y="54.1" font-size="7.0" text-anchor="end">PC5</text>
<rect x="600.4" y="56.9" width="31.8" height="6.8" fill="#386CB0"/>
<rect x="631.9" y="56.9" width="12.7" height="6.8" fill="#FFFF99"/>
<rect x="644.3" y="56.9" width="7.4" height="6.8" fill="#FDC086"/>
<rect x="651.4" y="56.9" width="17.5" height="6.8" fill="#BEAED4"/>
<rect x="668.7" y="56.9" width="50.1" height="6.8" fill="#7FC97F"/>
<line x1="594.8" y1="60.3" x2="596.3" y2="60.3" stroke="#333" stroke-width="0.5"/>
<text x="594.2" y="62.8" font-size="7.0" text-anchor="end">PC4</text>
<rect x="600.4" y="65.7" width="27.8" height="6.8" fill="#FFFF99"/>
<rect x="627.9" y="65.7" width="4.7" height="6.8" fill="#BEAED4"/>
<rect x="632.3" y="65.7" width="86.5" height="6.8" fill="#7FC97F"/>
<line x1="594.8" y1="69.1" x2="596.3" y2="69.1" stroke="#333" stroke-width="0.5"/>
<text x="594.2" y="71.6" font-size="7.0" text-anchor="end">PC3</text>
<rect x="600.4" y="74.5" width="2.7" height="6.8" fill="#386CB0"/>
<rect x="602.8" y="74.5" width="21.1" height="6.8" fill="#FFFF99"/>
<rect x="623.5" y="74.5" width="2.7" height="6.8" fill="#FDC086"/>
<rect x="625.9" y="74.5" width="1.0" height="6.8" fill="#BEAED4"/>
<rect x="626.6" y="74.5" width="92.2" height="6.8" fill="#7FC97F"/>
<line x1="594.8" y1="77.9" x2="596.3" y2="77.9" stroke="#333" stroke-width="0.5"/>
<text x="594.2" y="80.4" font-size="7.0" text-anchor="end">PC2</text>
<rect x="600.4" y="83.3" width="14.5" height="6.8" fill="#FFFF99"/>
<rect x="614.6" y="83.3" width="3.1" height="6.8" fill="#FDC086"/>
<rect x="617.4" y="83.3" width="8.8" height="6.8" fill="#BEAED4"/>
<rect x="625.9" y="83.3" width="92.9" height="6.8" fill="#7FC97F"/>
<line x1="594.8" y1="86.7" x2="596.3" y2="86.7" stroke="#333" stroke-width="0.5"/>
<text x="594.2" y="89.2" font-size="7.0" text-anchor="end">PC10</text>
<rect x="600.4" y="92.0" width="24.2" height="6.8" fill="#FFFF99"/>
<rect x="624.3" y="92.0" width="24.0" height="6.8" fill="#FDC086"/>
<rect x="648.0" y="92.0" width="24.2" height="6.8" fill="#BEAED4"/>
<rect x="671.9" y="92.0" width="46.9" height="6.8" fill="#7FC97F"/>
<line x1="594.8" y1="95.4" x2="596.3" y2="95.4" stroke="#333" stroke-width="0.5"/>
<text x="594.2" y="97.9" font-size="7.0" text-anchor="end">PC1</text>
<rect x="600.4" y="100.8" width="1.7" height="6.8" fill="#386CB0"/>
<rect x="601.8" y="100.8" width="41.2" height="6.8" fill="#FFFF99"/>
<rect x="642.7" y="100.8" width="4.4" height="6.8" fill="#FDC086"/>
<rect x="646.8" y="100.8" width="14.6" height="6.8" fill="#BEAED4"/>
<rect x="661.1" y="100.8" width="57.7" height="6.8" fill="#7FC97F"/>
<line x1="594.8" y1="104.2" x2="596.3" y2="104.2" stroke="#333" stroke-width="0.5"/>
<text x="594.2" y="106.7" font-size="7.0" text-anchor="end">HCC9</text>
<rect x="600.4" y="109.6" width="27.2" height="6.8" fill="#FFFF99"/>
<rect x="627.3" y="109.6" width="22.5" height="6.8" fill="#FDC086"/>
<rect x="649.5" y="109.6" width="17.5" height="6.8" fill="#BEAED4"/>
<rect x="666.8" y="109.6" width="52.0" height="6.8" fill="#7FC97F"/>
<line x1="594.8" y1="113.0" x2="596.3" y2="113.0" stroke="#333" stroke-width="0.5"/>
<text x="594.2" y="115.5" font-size="7.0" text-anchor="end">HCC8</text>
<rect x="600.4" y="118.3" width="3.8" height="6.8" fill="#386CB0"/>
<rect x="603.9" y="118.3" width="24.7" height="6.8" fill="#FFFF99"/>
<rect x="628.4" y="118.3" width="31.8" height="6.8" fill="#FDC086"/>
<rect x="659.9" y="118.3" width="1.0" height="6.8" fill="#BEAED4"/>
<rect x="660.6" y="118.3" width="58.2" height="6.8" fill="#7FC97F"/>
<line x1="594.8" y1="121.7" x2="596.3" y2="121.7" stroke="#333" stroke-width="0.5"/>
<text x="594.2" y="124.2" font-size="7.0" text-anchor="end">HCC7</text>
<rect x="600.4" y="127.1" width="2.0" height="6.8" fill="#386CB0"/>
<rect x="602.1" y="127.1" width="17.9" height="6.8" fill="#FFFF99"/>
<rect x="619.7" y="127.1" width="64.7" height="6.8" fill="#FDC086"/>
<rect x="684.0" y="127.1" width="27.5" height="6.8" fill="#BEAED4"/>
<rect x="711.2" y="127.1" width="7.6" height="6.8" fill="#7FC97F"/>
<line x1="594.8" y1="130.5" x2="596.3" y2="130.5" stroke="#333" stroke-width="0.5"/>
<text x="594.2" y="133.0" font-size="7.0" text-anchor="end">HCC6</text>
<rect x="600.4" y="135.9" width="1.5" height="6.8" fill="#386CB0"/>
<rect x="601.6" y="135.9" width="29.8" height="6.8" fill="#FFFF99"/>
<rect x="631.1" y="135.9" width="4.6" height="6.8" fill="#BEAED4"/>
<rect x="635.4" y="135.9" width="83.4" height="6.8" fill="#7FC97F"/>
<line x1="594.8" y1="139.3" x2="596.3" y2="139.3" stroke="#333" stroke-width="0.5"/>
<text x="594.2" y="141.8" font-size="7.0" text-anchor="end">HCC5</text>
<rect x="600.4" y="144.6" width="6.7" height="6.8" fill="#386CB0"/>
<rect x="606.8" y="144.6" width="23.1" height="6.8" fill="#FFFF99"/>
<rect x="629.6" y="144.6" width="5.4" height="6.8" fill="#BEAED4"/>
<rect x="634.6" y="144.6" width="84.2" height="6.8" fill="#7FC97F"/>
<line x1="594.8" y1="148.0" x2="596.3" y2="148.0" stroke="#333" stroke-width="0.5"/>
<text x="594.2" y="150.5" font-size="7.0" text-anchor="end">HCC4</text>
<rect x="600.4" y="153.4" width="62.1" height="6.8" fill="#FFFF99"/>
<rect x="662.2" y="153.4" width="2.2" height="6.8" fill="#FDC086"/>
<rect x="664.1" y="153.4" width="6.1" height="6.8" fill="#BEAED4"/>
<rect x="669.8" y="153.4" width="49.0" height="6.8" fill="#7FC97F"/>
<line x1="594.8" y1="156.8" x2="596.3" y2="156.8" stroke="#333" stroke-width="0.5"/>
<text x="594.2" y="159.3" font-size="7.0" text-anchor="end">HCC3</text>
<rect x="600.4" y="162.2" width="70.8" height="6.8" fill="#FFFF99"/>
<rect x="670.9" y="162.2" width="11.2" height="6.8" fill="#FDC086"/>
<rect x="681.8" y="162.2" width="14.9" height="6.8" fill="#BEAED4"/>
<rect x="696.4" y="162.2" width="22.4" height="6.8" fill="#7FC97F"/>
<line x1="594.8" y1="165.6" x2="596.3" y2="165.6" stroke="#333" stroke-width="0.5"/>
<text x="594.2" y="168.1" font-size="7.0" text-anchor="end">HCC2</text>
<rect x="600.4" y="171.0" width="19.0" height="6.8" fill="#FFFF99"/>
<rect x="619.1" y="171.0" width="54.9" height="6.8" fill="#FDC086"/>
<rect x="673.6" y="171.0" width="18.0" height="6.8" fill="#BEAED4"/>
<rect x="691.3" y="171.0" width="27.5" height="6.8" fill="#7FC97F"/>
<line x1="594.8" y1="174.4" x2="596.3" y2="174.4" stroke="#333" stroke-width="0.5"/>
<text x="594.2" y="176.9" font-size="7.0" text-anchor="end">HCC10</text>
<rect x="600.4" y="179.7" width="14.5" height="6.8" fill="#FFFF99"/>
<rect x="614.6" y="179.7" width="49.1" height="6.8" fill="#FDC086"/>
<rect x="663.3" y="179.7" width="1.1" height="6.8" fill="#BEAED4"/>
<rect x="664.2" y="179.7" width="54.6" height="6.8" fill="#7FC97F"/>
<line x1="594.8" y1="183.1" x2="596.3" y2="183.1" stroke="#333" stroke-width="0.5"/>
<text x="594.2" y="185.6" font-size="7.0" text-anchor="end">HCC1</text>
<text transform="translate(567.6 98.8) rotate(-90)" font-size="6.4" text-anchor="middle">Ratio</text>
<line x1="600.4" y1="189.0" x2="600.4" y2="190.8" stroke="#333" stroke-width="0.5"/>
<text transform="translate(604.0 194.2) rotate(-45)" font-size="6.7" text-anchor="end">0.00</text>
<line x1="629.9" y1="189.0" x2="629.9" y2="190.8" stroke="#333" stroke-width="0.5"/>
<text transform="translate(633.5 194.2) rotate(-45)" font-size="6.7" text-anchor="end">0.25</text>
<line x1="659.4" y1="189.0" x2="659.4" y2="190.8" stroke="#333" stroke-width="0.5"/>
<text transform="translate(663.0 194.2) rotate(-45)" font-size="6.7" text-anchor="end">0.50</text>
<line x1="689.0" y1="189.0" x2="689.0" y2="190.8" stroke="#333" stroke-width="0.5"/>
<text transform="translate(692.6 194.2) rotate(-45)" font-size="6.7" text-anchor="end">0.75</text>
<line x1="718.5" y1="189.0" x2="718.5" y2="190.8" stroke="#333" stroke-width="0.5"/>
<text transform="translate(722.1 194.2) rotate(-45)" font-size="6.7" text-anchor="end">1.00</text>
<line x1="19.4" y1="215.9" x2="19.4" y2="335.4" stroke="#7d7d7d" stroke-width="0.6"/>
<line x1="19.4" y1="335.4" x2="147.4" y2="335.4" stroke="#7d7d7d" stroke-width="0.6"/>
<line x1="18.0" y1="222.5" x2="19.4" y2="222.5" stroke="#7d7d7d" stroke-width="0.5"/>
<text x="16.8" y="223.7" font-size="3.4" text-anchor="end" fill="#555">9</text>
<line x1="18.0" y1="249.6" x2="19.4" y2="249.6" stroke="#7d7d7d" stroke-width="0.5"/>
<text x="16.8" y="250.8" font-size="3.4" text-anchor="end" fill="#555">6</text>
<line x1="18.0" y1="276.9" x2="19.4" y2="276.9" stroke="#7d7d7d" stroke-width="0.5"/>
<text x="16.8" y="278.1" font-size="3.4" text-anchor="end" fill="#555">3</text>
<line x1="18.0" y1="304.4" x2="19.4" y2="304.4" stroke="#7d7d7d" stroke-width="0.5"/>
<text x="16.8" y="305.6" font-size="3.4" text-anchor="end" fill="#555">0</text>
<line x1="18.0" y1="331.4" x2="19.4" y2="331.4" stroke="#7d7d7d" stroke-width="0.5"/>
<text x="16.8" y="332.6" font-size="3.4" text-anchor="end" fill="#555">-3</text>
<line x1="25.3" y1="335.4" x2="25.3" y2="336.8" stroke="#7d7d7d" stroke-width="0.5"/>
<text x="25.3" y="341.0" font-size="3.4" text-anchor="middle" fill="#555">-8</text>
<line x1="57.7" y1="335.4" x2="57.7" y2="336.8" stroke="#7d7d7d" stroke-width="0.5"/>
<text x="57.7" y="341.0" font-size="3.4" text-anchor="middle" fill="#555">-4</text>
<line x1="90.2" y1="335.4" x2="90.2" y2="336.8" stroke="#7d7d7d" stroke-width="0.5"/>
<text x="90.2" y="341.0" font-size="3.4" text-anchor="middle" fill="#555">0</text>
<line x1="122.8" y1="335.4" x2="122.8" y2="336.8" stroke="#7d7d7d" stroke-width="0.5"/>
<text x="122.8" y="341.0" font-size="3.4" text-anchor="middle" fill="#555">4</text>
<text x="83.2" y="348.3" font-size="5.6" text-anchor="middle" fill="#333">UMAP 1</text>
<text transform="translate(10.6 276.4) rotate(-90)" font-size="5.6" text-anchor="middle" fill="#333">UMAP 2</text>
<path d="M67.6 279.0h0M62.9 280.2h0M71.2 269.6h0M61.2 270.7h0M66.6 278.9h0M65.7 266.9h0M57.2 282.4h0M56.4 282.8h0M55.9 275.8h0M62.4 263.0h0M63.8 263.5h0M67.6 274.4h0M64.4 264.1h0M62.1 280.0h0M68.6 267.5h0M54.9 280.5h0M60.0 272.3h0M61.8 284.7h0M61.5 283.9h0M65.3 277.9h0M57.6 276.8h0M70.7 274.6h0M59.2 278.0h0M59.9 285.5h0M57.6 274.7h0M60.6 277.7h0M56.9 277.1h0M56.6 284.7h0M66.5 272.5h0M68.1 268.7h0M67.7 265.6h0M62.4 280.3h0M55.4 272.9h0M63.4 265.4h0M57.0 283.2h0M67.9 272.4h0M57.5 281.4h0M58.0 282.8h0M67.5 279.4h0M58.4 267.0h0M67.7 273.4h0M59.9 279.9h0M61.1 272.2h0M63.9 263.9h0M67.3 268.0h0M60.0 277.1h0M69.1 274.8h0M64.4 264.6h0M54.6 277.8h0M67.3 262.9h0M57.3 276.6h0M54.8 280.5h0M66.3 271.5h0M57.8 270.5h0M69.8 270.9h0M59.5 276.9h0M60.2 274.8h0M68.6 269.0h0M59.3 267.2h0M59.9 268.9h0M66.9 270.1h0M69.9 267.0h0M63.0 269.5h0M56.2 271.0h0M71.0 270.2h0M69.3 266.4h0M69.7 269.7h0M63.6 269.7h0M60.7 265.7h0M64.8 278.1h0M68.7 267.3h0M60.7 280.2h0M64.0 278.3h0M69.1 275.3h0M54.7 279.9h0M66.0 280.7h0M55.2 281.8h0M62.4 273.4h0M60.1 278.0h0M60.4 274.1h0M68.1 267.0h0M64.1 272.3h0M61.2 277.9h0M55.9 280.1h0M60.0 269.5h0M65.8 269.3h0M66.3 270.4h0M57.3 268.7h0M63.6 272.2h0M61.3 273.4h0M65.5 278.9h0M65.7 264.7h0M55.6 277.0h0M60.1 267.7h0M66.7 271.1h0M69.9 264.5h0M54.5 282.2h0M66.7 281.9h0M63.1 281.4h0M63.7 266.1h0M55.4 273.9h0M61.2 280.9h0M58.3 280.6h0M64.5 268.9h0M56.2 274.8h0M63.8 268.7h0M59.9 278.9h0M64.6 265.2h0M67.6 262.8h0M71.2 271.6h0M65.7 264.0h0M61.7 277.0h0M63.5 273.3h0M61.6 265.0h0M58.1 277.5h0M62.1 269.7h0M55.1 283.4h0M62.2 276.4h0M67.8 271.6h0M54.9 273.9h0M63.3 277.1h0M65.0 269.8h0M67.7 275.9h0M69.3 264.5h0M68.0 268.0h0M63.3 277.5h0M57.3 271.0h0M60.0 279.2h0M63.8 273.5h0M69.8 273.5h0M53.9 275.3h0M54.9 278.3h0M70.0 267.1h0M65.0 275.6h0M60.9 270.0h0M66.8 276.5h0M68.7 264.6h0M66.3 278.3h0M56.9 268.6h0M60.4 276.3h0M69.6 270.1h0M62.1 266.4h0M60.2 279.2h0M54.0 278.9h0M61.5 271.1h0M61.5 278.2h0M60.1 268.1h0M65.0 264.6h0M65.4 279.1h0M66.8 279.9h0M30.6 298.6h0M30.9 289.4h0M31.0 292.4h0M27.3 298.2h0M37.6 290.8h0M43.0 292.0h0M39.7 291.0h0M32.1 297.1h0M36.7 286.8h0M32.3 288.8h0M36.9 293.4h0M35.5 286.2h0M37.0 293.0h0M38.8 290.2h0M31.6 292.0h0M26.7 291.8h0M37.0 299.8h0M39.0 292.0h0M43.4 293.5h0M29.8 288.8h0M35.3 290.3h0M30.9 295.2h0M34.8 291.2h0M41.8 286.8h0M35.2 293.1h0M36.3 287.9h0M28.5 292.9h0M35.2 287.9h0M37.9 292.9h0M35.2 298.8h0M41.4 290.8h0M43.9 290.3h0M36.0 286.7h0M41.2 294.1h0M39.4 297.3h0M41.2 293.7h0M24.7 296.2h0M40.9 293.2h0M38.0 286.9h0M44.0 293.4h0M34.7 298.0h0M42.2 295.4h0M42.4 289.3h0M43.8 289.7h0M37.6 293.6h0M26.9 293.7h0M28.7 297.9h0M28.9 293.2h0M40.8 287.8h0M35.1 287.3h0M37.6 286.2h0M43.7 290.6h0M37.9 287.1h0M38.4 288.5h0M38.5 290.7h0M31.4 290.4h0M34.8 297.2h0M33.9 298.0h0M32.4 295.5h0M27.1 291.1h0M33.0 287.2h0M44.0 289.0h0M36.2 299.4h0M31.5 297.1h0M35.6 294.3h0M42.0 286.9h0M34.1 289.7h0M40.1 286.9h0M25.8 296.5h0M35.6 291.0h0M29.9 292.8h0M28.7 295.4h0M42.6 296.2h0M29.0 291.9h0M41.0 288.6h0M39.5 288.9h0M42.6 288.7h0M36.5 295.0h0M38.6 289.6h0M35.3 294.3h0M43.3 289.2h0M31.6 296.3h0M29.8 290.1h0M32.7 288.1h0M36.2 296.7h0M34.0 292.8h0M36.0 296.4h0M26.7 291.6h0M28.9 291.6h0M30.3 290.2h0M40.7 292.5h0M37.6 292.4h0M40.1 294.6h0M31.7 295.1h0M28.6 289.6h0M34.1 290.0h0M39.1 293.4h0M31.2 297.5h0M28.0 298.9h0M43.4 293.2h0M32.0 300.9h0M44.4 290.4h0M38.9 298.4h0M35.5 286.7h0M35.9 299.1h0M35.6 293.9h0M42.5 296.0h0M26.9 294.1h0M40.5 296.4h0M38.7 293.4h0M29.6 301.0h0M26.7 294.8h0M39.9 292.6h0M35.4 292.6h0M38.3 291.4h0M32.3 290.3h0M34.8 290.9h0M32.7 297.4h0M41.9 293.8h0M35.0 289.9h0M32.1 297.6h0M38.9 298.2h0M37.1 295.8h0M32.2 298.3h0M27.5 298.0h0M44.7 291.2h0M37.2 287.2h0M40.0 291.8h0M41.2 293.9h0M31.5 290.2h0M37.8 293.7h0M39.9 295.8h0M31.1 296.7h0M38.5 292.9h0M29.5 297.0h0M25.0 295.7h0M36.2 294.9h0M26.1 295.2h0M43.4 287.9h0M43.8 293.8h0M25.0 297.0h0M38.6 295.1h0M39.8 298.1h0M35.5 295.4h0M26.4 299.3h0M43.7 292.3h0M34.0 298.6h0M31.5 292.2h0M40.6 294.0h0M25.5 298.8h0M45.9 287.1h0M40.4 286.8h0M43.3 287.1h0M40.2 286.4h0M41.8 287.0h0M42.0 285.1h0M44.6 285.9h0M43.7 284.1h0M41.2 289.1h0M45.8 289.6h0M42.2 286.2h0M47.7 288.4h0M46.0 287.3h0M45.9 288.5h0M44.0 285.7h0M47.2 286.1h0M42.8 285.3h0M44.5 286.9h0M34.0 308.0h0M72.0 283.0h0M70.0 262.0h0" stroke="#1FA04A" stroke-width="1.3" stroke-linecap="round" fill="none"/>
<path d="M50.8 258.7h0M50.0 256.8h0M49.7 260.9h0M56.7 259.3h0M51.5 261.3h0M52.1 250.7h0M56.5 258.2h0M48.2 254.0h0M57.7 257.8h0M49.0 250.9h0M47.5 261.3h0M44.9 257.5h0M57.7 256.5h0M45.2 259.6h0M54.8 258.3h0M50.6 252.6h0M54.4 260.7h0M53.6 259.2h0M51.6 259.1h0M55.0 255.4h0M52.8 249.2h0M46.2 256.1h0M56.2 252.6h0M47.0 251.4h0M48.8 253.8h0M52.5 249.7h0M50.6 253.9h0M53.2 259.5h0M47.8 249.9h0M55.0 260.5h0M56.9 253.5h0M50.8 249.3h0M53.1 250.0h0M46.1 258.1h0M52.4 249.8h0M49.0 262.2h0M44.3 254.6h0M56.1 260.5h0M52.6 249.3h0M52.9 253.0h0M56.1 264.3h0M55.4 265.4h0M59.1 260.1h0M53.6 258.0h0M55.9 258.9h0M52.4 257.9h0M58.1 257.7h0M58.8 263.7h0M57.9 258.5h0M51.6 260.4h0M56.7 257.6h0M54.5 262.0h0M55.7 262.4h0M49.5 264.2h0M49.7 263.0h0M55.9 264.8h0M57.3 259.5h0M53.6 265.8h0M54.7 263.5h0M49.5 263.5h0M57.0 258.2h0M54.0 260.4h0M55.6 261.1h0M54.6 264.1h0M50.6 265.7h0M57.6 260.5h0M59.3 259.6h0M50.6 262.0h0M48.2 261.8h0M57.6 266.6h0M58.3 265.9h0M60.1 262.0h0M47.6 269.1h0M47.0 266.2h0M44.8 272.4h0M44.8 269.4h0M42.3 269.5h0M48.2 268.4h0M44.1 265.1h0M45.2 268.8h0M48.6 269.0h0M44.7 266.9h0M43.7 273.4h0M44.7 266.1h0M42.2 270.1h0M48.4 269.5h0M46.5 268.8h0M42.9 268.2h0M46.0 266.0h0M45.5 264.4h0M43.0 278.0h0M45.0 281.0h0M60.0 249.0h0M48.0 247.5h0M62.0 256.0h0" stroke="#C0504D" stroke-width="1.3" stroke-linecap="round" fill="none"/>
<path d="M82.5 222.8h0M84.0 223.3h0M86.0 222.0h0M87.5 222.5h0M90.0 221.0h0M91.3 223.5h0M83.5 221.8h0" stroke="#4A78C8" stroke-width="1.0" stroke-linecap="round" fill="none"/>
<path d="M74.4 326.6h0M76.0 330.0h0M34.3 308.5h0" stroke="#7a6a60" stroke-width="1.2" stroke-linecap="round" fill="none"/>
<path d="M141.5 328.0h0" stroke="#6a4a48" stroke-width="1.3" stroke-linecap="round" fill="none"/>
<text x="81.9" y="230.2" font-size="5.75" text-anchor="middle">Intermediate Monocytes</text>
<text x="47.2" y="266.7" font-size="5.75" text-anchor="middle">Classical Monocytes</text>
<text x="73.9" y="291.2" font-size="5.75" text-anchor="middle">Non-Classical Monocytes</text>
<line x1="181.5" y1="218.5" x2="181.5" y2="330.7" stroke="#7d7d7d" stroke-width="0.6"/>
<line x1="181.5" y1="330.7" x2="292.4" y2="330.7" stroke="#7d7d7d" stroke-width="0.6"/>
<line x1="180.0" y1="226.4" x2="181.5" y2="226.4" stroke="#7d7d7d" stroke-width="0.5"/>
<text x="178.8" y="228.0" font-size="4.6" text-anchor="end" fill="#444">10</text>
<line x1="180.0" y1="248.2" x2="181.5" y2="248.2" stroke="#7d7d7d" stroke-width="0.5"/>
<text x="178.8" y="249.8" font-size="4.6" text-anchor="end" fill="#444">5</text>
<line x1="180.0" y1="270.0" x2="181.5" y2="270.0" stroke="#7d7d7d" stroke-width="0.5"/>
<text x="178.8" y="271.6" font-size="4.6" text-anchor="end" fill="#444">0</text>
<line x1="180.0" y1="291.6" x2="181.5" y2="291.6" stroke="#7d7d7d" stroke-width="0.5"/>
<text x="178.8" y="293.2" font-size="4.6" text-anchor="end" fill="#444">-5</text>
<line x1="180.0" y1="313.1" x2="181.5" y2="313.1" stroke="#7d7d7d" stroke-width="0.5"/>
<text x="178.8" y="314.7" font-size="4.6" text-anchor="end" fill="#444">-10</text>
<line x1="201.3" y1="330.7" x2="201.3" y2="332.2" stroke="#7d7d7d" stroke-width="0.5"/>
<text x="201.3" y="337.0" font-size="4.6" text-anchor="middle" fill="#444">-5</text>
<line x1="226.8" y1="330.7" x2="226.8" y2="332.2" stroke="#7d7d7d" stroke-width="0.5"/>
<text x="226.8" y="337.0" font-size="4.6" text-anchor="middle" fill="#444">0</text>
<line x1="252.3" y1="330.7" x2="252.3" y2="332.2" stroke="#7d7d7d" stroke-width="0.5"/>
<text x="252.3" y="337.0" font-size="4.6" text-anchor="middle" fill="#444">5</text>
<line x1="277.6" y1="330.7" x2="277.6" y2="332.2" stroke="#7d7d7d" stroke-width="0.5"/>
<text x="277.6" y="337.0" font-size="4.6" text-anchor="middle" fill="#444">10</text>
<text x="237.4" y="343.8" font-size="6.2" text-anchor="middle" fill="#333">UMAP 1</text>
<text transform="translate(169.6 274.2) rotate(-90)" font-size="6.2" text-anchor="middle" fill="#333">UMAP 2</text>
<path d="M224.3 278.0L221.8 269.3L214.4 260.6L208.0 254.4L199.6 255.7" stroke="#3a3a3a" stroke-width="1.1" fill="none" stroke-linejoin="round" stroke-linecap="round"/>
<path d="M199.5 249.6h0M210.4 247.1h0M210.7 248.7h0M205.6 255.6h0M206.6 256.4h0M194.9 251.3h0M208.4 248.0h0M199.5 251.7h0M201.3 244.7h0M203.0 249.9h0M205.8 246.0h0M203.9 248.9h0M199.4 250.2h0M202.3 242.8h0M204.2 252.1h0M207.2 248.3h0M206.4 251.5h0M198.0 246.0h0M212.4 251.8h0M206.3 252.6h0M197.1 250.9h0M208.6 245.5h0M208.9 243.7h0M202.9 257.3h0M196.3 253.5h0M205.9 248.0h0M207.0 249.3h0M202.8 253.4h0M210.4 242.9h0M197.9 248.0h0M207.1 241.7h0M196.3 248.4h0M204.1 251.9h0M197.4 245.4h0M210.8 244.5h0M207.3 256.8h0M206.1 247.6h0M207.0 254.8h0M203.7 256.1h0M200.9 252.1h0M201.0 243.5h0M203.9 246.7h0M196.6 250.2h0M206.4 242.4h0M203.1 249.1h0M202.0 242.2h0M207.2 255.2h0M206.1 240.9h0M199.8 250.7h0M206.5 257.0h0M209.9 247.7h0M205.0 257.0h0M198.8 254.6h0M204.8 242.1h0M204.6 252.0h0M203.6 252.9h0M205.2 250.2h0M198.7 251.6h0M201.7 247.8h0M195.8 245.2h0M202.4 244.1h0M206.8 254.0h0M210.6 249.7h0M208.1 254.9h0M209.6 247.8h0M208.3 242.6h0M199.0 243.9h0M211.8 247.5h0M204.4 245.3h0M203.8 253.7h0M197.1 244.4h0M210.2 243.5h0M206.3 255.2h0M202.9 248.8h0M202.9 256.2h0M206.5 249.1h0M202.7 245.7h0M204.1 249.5h0M202.8 244.8h0M213.4 250.0h0M206.9 247.9h0M209.6 255.7h0M198.6 248.3h0M199.3 251.4h0M203.6 254.9h0M205.9 250.0h0M207.2 250.9h0M201.5 242.7h0M205.3 244.8h0M199.6 255.1h0M206.5 254.5h0M195.5 246.0h0M205.2 250.6h0M198.1 253.7h0M205.0 256.1h0M206.7 241.8h0M201.5 247.7h0M202.9 245.4h0M206.2 241.6h0M207.8 251.3h0M196.9 246.2h0M205.2 252.0h0M209.6 253.1h0M204.4 255.8h0M199.7 251.0h0M202.9 242.9h0M203.7 247.5h0M202.9 252.9h0M201.3 242.7h0M210.1 245.1h0M202.4 252.6h0M203.5 255.9h0M204.6 252.3h0M207.9 242.4h0M211.8 247.2h0M200.9 256.0h0M203.0 244.3h0M202.3 247.7h0M206.7 249.8h0M208.0 254.0h0M210.6 243.3h0M206.1 254.5h0M200.7 248.9h0M199.5 253.7h0M196.1 247.7h0M210.6 253.6h0M202.1 250.5h0M203.9 254.9h0M205.4 255.8h0M198.7 249.7h0M205.0 241.9h0M198.5 250.7h0M212.4 245.7h0M209.9 253.1h0M199.8 244.7h0M208.9 250.0h0M211.9 244.5h0M200.7 249.6h0M201.7 255.4h0M204.0 246.8h0M196.3 251.9h0M201.8 250.5h0M206.8 248.4h0M203.5 250.9h0M209.5 254.6h0M206.8 250.2h0M200.2 248.3h0M208.2 255.8h0M204.4 245.5h0M200.7 253.7h0M210.1 256.1h0M214.4 258.0h0M209.8 250.9h0M214.7 250.8h0M214.0 252.9h0M208.9 258.5h0M209.1 250.0h0M213.5 257.7h0M212.6 253.3h0M210.8 252.2h0M210.0 257.5h0M207.0 254.6h0M213.6 258.8h0M207.6 259.0h0M209.9 251.5h0M211.3 257.2h0M211.7 250.5h0M205.0 251.5h0M210.1 253.4h0M213.8 251.2h0M207.3 259.2h0M212.3 249.0h0M207.9 256.3h0M207.8 256.9h0M212.8 256.4h0M212.4 252.5h0M207.5 251.1h0M210.2 248.4h0M212.6 252.6h0M215.4 253.7h0M210.2 248.9h0M209.9 259.4h0M206.4 257.3h0M213.7 258.1h0M207.7 257.8h0M206.9 258.5h0M213.2 249.5h0M213.6 258.3h0M209.8 248.2h0M207.2 250.0h0M210.9 253.0h0M205.7 255.2h0M210.7 250.6h0M213.6 250.1h0M208.5 256.3h0M212.4 255.8h0M213.4 254.6h0M210.8 259.3h0M211.5 254.7h0M211.6 258.9h0M223.6 232.6h0M228.4 230.8h0M224.2 230.3h0M222.3 232.0h0M225.2 228.9h0M226.8 230.4h0M227.5 232.8h0M226.7 229.6h0M223.1 231.7h0M227.1 230.3h0M226.2 233.7h0M224.2 232.8h0M224.4 228.9h0M226.5 231.0h0M225.0 231.2h0M225.0 229.7h0M227.4 232.5h0M226.6 229.7h0M223.6 233.4h0M225.4 230.2h0M226.1 234.0h0M228.7 231.4h0M223.9 232.8h0M228.1 230.5h0M248.2 225.3h0M248.4 223.9h0M247.7 224.5h0M247.8 223.8h0M249.2 224.6h0M246.6 224.2h0M249.2 225.8h0M246.7 224.3h0M249.7 223.8h0M234.2 223.5h0" stroke="#1F0C8C" stroke-width="1.7" stroke-linecap="round" fill="none"/>
<path d="M199.0 264.6h0M198.3 266.3h0M199.3 263.8h0M202.2 264.6h0M200.0 264.5h0M198.4 269.1h0M196.7 262.1h0M190.1 264.0h0M193.8 268.6h0M189.0 265.7h0M199.4 268.0h0M194.2 266.3h0M194.4 261.6h0M194.4 268.5h0M197.3 269.3h0M199.9 263.7h0M191.2 264.8h0M194.5 261.6h0M192.7 261.7h0M196.8 263.7h0M202.2 267.6h0M186.8 267.8h0M196.8 266.6h0M191.2 261.8h0M191.4 266.5h0M201.3 265.9h0M195.0 263.0h0M195.8 268.4h0M191.6 267.1h0M192.3 269.9h0M195.2 268.1h0M195.4 267.4h0M189.7 265.9h0M190.9 266.3h0M200.1 265.4h0M200.1 264.8h0M196.4 269.4h0M198.5 269.2h0M197.6 267.0h0M201.5 265.1h0M191.2 268.6h0M191.2 268.7h0M189.0 268.7h0M196.7 264.5h0M200.9 266.2h0M193.4 261.3h0M191.0 263.7h0M187.9 268.9h0M192.8 269.3h0M191.2 262.7h0M201.4 264.6h0M192.3 267.5h0M196.5 261.4h0M191.6 262.4h0M199.2 265.0h0M189.3 268.2h0M197.2 267.5h0M197.0 261.3h0M193.9 266.8h0M188.6 266.1h0M198.6 264.1h0M189.6 265.4h0M189.2 262.2h0M191.6 269.1h0M190.4 264.0h0M194.0 270.6h0M190.6 268.1h0M198.9 264.4h0M193.5 269.8h0M196.6 263.3h0M193.2 264.1h0M194.9 266.7h0M195.2 264.8h0M194.9 268.0h0M194.3 267.2h0M193.1 261.6h0M202.2 264.4h0M200.1 264.2h0M196.8 265.3h0M196.5 269.2h0M199.1 262.5h0M198.9 267.8h0M194.7 261.1h0M201.0 265.4h0M196.1 266.3h0M197.5 266.3h0M189.6 262.8h0M196.0 267.5h0M191.7 264.6h0M201.3 265.2h0M199.6 265.6h0M190.2 268.2h0M195.0 268.6h0M202.9 265.8h0M197.7 269.9h0M196.6 267.8h0M194.1 262.9h0M192.5 265.8h0M201.4 266.9h0M195.9 262.7h0M188.3 267.2h0M188.1 263.1h0M190.6 267.8h0M199.7 262.1h0M187.0 264.1h0M196.0 267.7h0M192.6 263.0h0M194.7 265.7h0M187.0 265.6h0M194.7 265.6h0M191.8 263.1h0M193.6 262.1h0M199.8 265.2h0M202.0 263.8h0M191.8 269.7h0M193.9 269.2h0M196.6 261.2h0M197.8 261.8h0M191.3 261.2h0M194.7 263.1h0M191.0 277.2h0M192.6 277.3h0M191.7 279.7h0M194.2 279.1h0M192.1 275.7h0M192.1 277.1h0M193.6 277.0h0M190.2 278.8h0M194.1 279.2h0M193.8 279.3h0M193.0 278.8h0M189.7 278.8h0M191.9 280.0h0M190.7 276.4h0M192.5 271.6h0M195.5 272.3h0M200.5 273.3h0M211.0 276.0h0M208.0 274.2h0M207.5 276.4h0M201.9 275.4h0M194.5 271.8h0M210.5 275.1h0M193.9 271.3h0M196.6 273.0h0M202.4 275.3h0M210.6 275.5h0M200.6 273.2h0M198.7 274.0h0M194.6 271.6h0M194.7 272.5h0M195.8 271.9h0M207.5 276.8h0M196.9 272.2h0M211.5 274.3h0M202.7 273.9h0M195.0 270.8h0M205.3 274.3h0M201.6 272.6h0M211.0 276.4h0M202.2 274.9h0M193.6 272.1h0M196.2 274.1h0M206.6 274.8h0M208.2 276.8h0M212.3 276.3h0M210.5 276.1h0M198.2 273.9h0M194.0 272.9h0M204.0 274.2h0M199.7 273.9h0M203.2 273.7h0M198.0 273.8h0M211.4 277.6h0M208.1 262.4h0M205.9 262.8h0M211.1 262.7h0M216.3 265.6h0M212.1 264.9h0M210.5 263.4h0M212.2 264.4h0M210.0 263.6h0M205.5 263.3h0M216.2 268.1h0M209.2 261.4h0M209.9 262.9h0M214.7 266.3h0M216.4 268.0h0M208.6 264.6h0M217.1 262.8h0M211.9 263.9h0M206.1 260.1h0M209.5 262.5h0M206.9 263.5h0M210.7 263.2h0M207.2 262.9h0M208.4 263.6h0M204.2 262.9h0M212.0 268.8h0M209.1 264.2h0M206.7 266.5h0M205.2 259.6h0M204.5 263.7h0M210.8 265.1h0M205.3 263.1h0M209.3 265.4h0M211.0 263.5h0M205.8 264.3h0M212.6 263.6h0M207.5 263.0h0M211.9 264.5h0M212.8 265.4h0M210.7 265.3h0M210.2 264.8h0" stroke="#4A10A0" stroke-width="1.7" stroke-linecap="round" fill="none"/>
<path d="M200.0 281.9h0M205.7 282.1h0M206.8 281.1h0M201.5 281.7h0M204.5 281.6h0M206.3 280.9h0M202.8 282.5h0M203.6 283.1h0M202.0 279.5h0M204.5 282.4h0M202.0 280.8h0M206.5 279.8h0M201.7 281.0h0M204.0 282.7h0M199.7 281.1h0M202.1 283.3h0M204.5 278.7h0M204.7 282.4h0M204.9 282.3h0M201.9 279.0h0M206.0 280.7h0M202.8 280.5h0M205.7 282.5h0M205.1 281.5h0M202.5 279.0h0M202.2 279.6h0M202.4 279.5h0M205.1 280.8h0M205.6 281.0h0M202.8 280.2h0M200.6 279.2h0M204.1 280.3h0" stroke="#7B22C2" stroke-width="1.7" stroke-linecap="round" fill="none"/>
<path d="M223.2 272.4h0M221.6 269.9h0M221.5 258.6h0M218.6 261.6h0M217.1 270.6h0M223.5 268.4h0M209.4 262.5h0M213.2 266.4h0M219.8 270.5h0M215.4 267.0h0M222.0 272.6h0M214.5 259.7h0M220.1 272.0h0M220.9 275.2h0M211.1 266.0h0M218.3 273.5h0M210.4 263.7h0M212.0 267.1h0M222.0 272.9h0M219.9 269.2h0M219.6 267.4h0M208.9 262.1h0M220.0 275.6h0M224.3 274.6h0M218.7 267.1h0M219.2 271.5h0M210.0 263.8h0M225.9 270.6h0M215.1 267.0h0M224.4 277.8h0M218.4 261.3h0M218.3 260.0h0M218.3 269.8h0M219.8 268.6h0M214.3 268.0h0M216.0 263.7h0M218.4 265.1h0M219.9 275.1h0M220.3 269.6h0M219.3 268.6h0M215.7 258.5h0M210.3 261.5h0M217.2 264.5h0M218.0 267.6h0M211.2 264.2h0M213.1 269.7h0M212.4 261.9h0M222.8 277.2h0M220.3 266.0h0M221.7 277.2h0M218.5 266.6h0M216.5 268.5h0M223.7 269.5h0M216.5 264.0h0M213.7 260.7h0M226.3 278.4h0M213.7 263.0h0M208.2 263.8h0M217.2 270.9h0M219.8 267.1h0M215.8 267.3h0M224.0 278.9h0M213.8 267.6h0M218.8 269.1h0M222.7 276.9h0M218.4 269.2h0M216.4 262.2h0M218.9 265.0h0M218.3 268.5h0M218.4 270.6h0M213.8 260.5h0M219.6 276.2h0M209.8 267.5h0M219.7 267.5h0M218.0 268.0h0M219.8 267.6h0M222.7 272.0h0M209.6 262.5h0M220.8 270.0h0M221.4 270.6h0M217.7 269.0h0M220.3 271.4h0M218.6 263.2h0M219.9 273.7h0M225.3 273.1h0M209.8 261.6h0M227.4 274.9h0M214.7 262.2h0M222.0 273.2h0M218.6 276.3h0M216.2 269.2h0M214.3 261.5h0M208.1 262.0h0M208.7 260.8h0M210.9 264.4h0M227.4 272.4h0M219.8 278.4h0M218.2 261.6h0M221.7 272.2h0M220.0 274.3h0M225.1 277.0h0M218.0 263.7h0M214.2 262.3h0M222.5 269.8h0M219.7 271.4h0M215.0 262.3h0M217.6 267.2h0M221.5 266.5h0M216.2 266.8h0M220.1 269.0h0M221.6 272.0h0M213.1 266.3h0M211.9 260.5h0M223.9 274.0h0M217.9 269.5h0M219.9 270.9h0M208.6 259.2h0M219.2 272.2h0M223.2 272.2h0M217.2 260.4h0" stroke="#5E2078" stroke-width="1.7" stroke-linecap="round" fill="none"/>
<path d="M227.1 279.2h0M227.4 280.8h0M215.0 266.8h0M218.9 270.8h0M222.9 274.1h0M225.3 280.8h0M221.5 278.4h0M232.6 286.3h0M222.6 268.7h0M222.8 278.1h0M226.8 287.2h0M217.0 267.2h0M221.2 272.6h0M225.1 279.2h0M223.9 276.9h0M228.2 285.4h0M221.6 269.9h0M215.2 265.2h0M219.2 270.9h0M227.8 283.3h0M221.5 268.5h0M216.1 262.2h0M227.2 291.4h0M223.5 286.0h0M221.9 273.9h0M225.0 289.2h0M223.1 270.6h0M224.1 277.6h0M224.9 289.2h0M221.4 278.8h0M216.2 267.5h0M213.7 268.1h0M230.0 290.6h0M226.7 278.1h0M216.7 269.3h0M227.9 285.5h0M225.6 280.4h0M221.4 277.1h0M223.7 273.7h0M221.4 268.2h0M224.3 276.8h0M231.6 284.8h0M215.2 261.6h0M216.8 268.9h0M224.3 275.6h0M223.2 270.0h0M223.4 279.9h0M219.0 267.9h0M222.2 271.5h0M219.5 266.3h0M228.2 289.2h0M227.5 284.8h0M219.2 279.2h0M227.7 290.4h0M224.7 274.3h0M226.5 291.0h0M231.2 284.0h0M216.2 268.8h0M214.6 264.2h0M224.3 275.7h0M220.4 268.9h0M217.9 267.6h0M226.4 286.1h0M220.4 268.3h0M231.5 285.9h0M218.9 271.2h0M220.1 266.7h0M224.3 277.2h0M224.2 278.4h0M219.4 268.9h0M220.2 269.0h0M226.4 284.7h0M214.9 265.7h0M225.4 283.9h0M226.6 293.4h0M232.5 287.3h0M221.5 266.6h0M222.3 267.9h0M227.1 284.7h0M228.4 288.1h0M225.9 281.8h0M229.4 284.0h0M214.2 266.0h0M227.7 281.9h0M225.5 291.1h0M220.8 269.4h0M223.5 282.1h0M225.5 281.6h0M228.3 283.4h0M223.8 274.0h0M226.3 278.2h0M229.0 284.6h0M226.2 284.5h0M223.1 268.6h0M227.1 284.9h0M216.9 266.2h0M222.5 272.2h0M227.6 286.4h0M222.5 269.8h0M220.3 269.7h0M222.4 274.7h0M227.6 286.7h0M227.4 291.3h0M218.2 265.5h0M222.9 278.7h0M223.0 269.6h0M227.9 290.0h0M231.0 286.6h0M227.0 282.5h0M229.3 287.2h0M219.4 270.3h0M223.5 280.5h0M221.5 277.2h0M226.1 284.3h0M226.7 289.4h0M220.2 266.7h0M223.0 276.2h0M225.8 284.7h0M227.2 284.4h0M225.7 278.3h0M227.2 280.8h0M215.9 266.4h0M229.5 289.3h0M227.1 283.5h0M227.5 290.8h0M225.2 275.2h0M224.5 273.1h0M228.2 283.5h0M219.1 271.1h0M220.7 271.2h0M215.9 266.7h0M219.1 268.2h0M219.0 266.0h0M226.0 280.6h0M225.4 284.4h0M214.0 264.4h0M227.6 280.8h0M219.9 272.7h0M216.7 261.7h0M226.9 281.1h0M231.1 286.6h0M218.2 262.0h0M224.2 267.8h0M227.5 290.4h0M221.0 276.1h0M223.8 281.9h0M223.1 286.8h0M224.7 278.3h0M219.7 274.1h0M225.4 288.3h0M218.2 276.8h0M224.2 277.9h0M224.0 278.3h0M211.4 274.3h0M214.4 276.5h0M219.2 277.0h0M214.0 275.2h0M222.0 277.2h0M217.6 277.3h0M222.2 278.5h0M221.4 277.4h0M213.1 276.3h0M214.4 275.1h0M218.9 276.7h0M216.2 276.7h0M215.3 275.1h0M213.8 274.8h0M214.4 274.3h0M216.1 275.4h0M216.6 276.1h0M223.2 278.4h0M220.1 276.2h0M223.0 279.5h0M222.5 279.1h0" stroke="#9A3C7A" stroke-width="1.7" stroke-linecap="round" fill="none"/>
<path d="M257.2 252.3h0M254.4 258.0h0M252.8 254.5h0M256.1 253.9h0M255.2 258.8h0M253.2 252.0h0M255.3 253.6h0M253.6 258.3h0M254.7 256.2h0M251.0 255.7h0M257.2 258.0h0M254.1 256.1h0M257.3 258.2h0M255.0 253.9h0M254.3 253.9h0M255.0 256.2h0M257.6 252.7h0M252.2 255.8h0M254.6 255.6h0M255.5 253.1h0M255.8 251.7h0M254.0 252.2h0M253.8 255.9h0M254.5 257.1h0M255.9 258.4h0M254.5 257.2h0M252.2 252.2h0M252.7 256.9h0M259.1 253.6h0M252.2 253.9h0M254.8 258.7h0M256.9 256.2h0M255.4 252.2h0M253.3 255.7h0M250.5 255.5h0M256.5 252.9h0M251.9 257.7h0M253.9 253.9h0M258.5 253.4h0M253.7 258.0h0M254.2 257.8h0M252.0 255.5h0M258.6 252.9h0M250.6 255.5h0M257.9 258.0h0M252.2 252.0h0M251.3 256.9h0M259.5 255.6h0M256.8 251.7h0M256.3 252.8h0M253.6 258.4h0M253.5 261.1h0M253.9 262.5h0M253.1 259.5h0M254.0 260.0h0M252.5 261.4h0M253.1 258.3h0M253.7 260.2h0M253.0 259.9h0M251.5 262.3h0" stroke="#D98850" stroke-width="1.7" stroke-linecap="round" fill="none"/>
<path d="M261.1 277.5h0M260.3 277.6h0M263.8 277.2h0M255.6 276.5h0M270.0 279.1h0M260.5 276.6h0M255.7 274.5h0M264.8 278.5h0M268.5 277.9h0M263.2 276.5h0M254.5 274.0h0M266.6 276.9h0M261.5 277.3h0M257.1 274.8h0M265.8 278.5h0M263.9 276.4h0M264.5 279.0h0M264.7 277.0h0M255.2 275.1h0M269.9 277.7h0M269.8 276.4h0M258.9 277.8h0M258.6 275.8h0M266.1 276.8h0M270.0 279.6h0M254.3 273.5h0M262.3 277.8h0M259.4 277.9h0M263.5 276.0h0M254.6 273.4h0M262.6 276.8h0M265.8 276.1h0M261.3 275.6h0M256.1 275.6h0M259.6 282.1h0M258.3 281.7h0M258.6 281.4h0M257.3 280.4h0M258.9 280.4h0M259.0 280.5h0M259.7 281.3h0M257.9 280.9h0M259.9 280.5h0M258.6 282.3h0M257.5 270.5h0M265.5 272.5h0" stroke="#DE9650" stroke-width="1.7" stroke-linecap="round" fill="none"/>
<path d="M276.4 265.8h0M274.8 261.9h0M270.3 261.7h0M271.0 262.8h0M271.1 260.6h0M271.1 260.7h0M273.2 262.7h0M271.9 262.2h0M275.0 265.3h0M275.4 263.4h0M275.1 262.3h0M274.8 265.1h0M272.6 261.1h0M272.9 260.9h0M270.7 260.7h0M275.6 264.1h0M274.8 263.9h0M274.0 266.5h0M272.3 261.9h0M273.6 262.9h0M275.8 265.8h0M270.4 260.5h0M272.0 263.0h0M275.5 263.8h0M275.0 263.3h0M279.1 267.9h0M275.6 262.1h0M276.2 260.9h0M276.5 262.8h0M274.4 262.1h0M274.6 262.1h0M277.0 262.2h0" stroke="#E4B04A" stroke-width="1.7" stroke-linecap="round" fill="none"/>
<path d="M284.9 273.3h0M285.2 273.1h0M281.7 274.8h0M283.3 275.3h0M284.8 274.6h0M280.8 276.6h0M288.1 274.2h0M287.7 276.9h0M283.5 272.5h0M287.4 275.6h0M280.1 276.5h0M285.3 272.9h0M286.3 275.6h0M283.5 278.5h0M284.6 275.8h0M283.7 271.9h0M285.2 276.5h0M281.9 272.5h0M286.3 277.2h0M286.7 274.6h0M283.8 275.4h0M285.1 275.3h0M285.4 275.0h0M283.5 272.2h0M283.7 274.6h0M280.9 275.4h0M282.3 275.2h0M286.7 277.5h0M280.4 276.8h0M284.2 277.0h0M282.2 273.5h0M286.6 273.7h0M280.9 275.1h0M284.9 278.6h0M283.7 275.7h0M285.8 276.6h0M286.8 275.8h0M279.8 275.6h0M282.7 272.3h0M284.2 272.4h0M283.7 273.4h0M282.1 274.8h0M284.5 272.7h0M283.0 276.5h0M285.3 272.4h0M287.2 277.6h0M285.6 276.3h0M283.9 272.4h0M284.7 272.6h0M281.1 274.4h0M281.5 272.7h0M281.0 273.8h0M284.1 272.9h0M286.3 277.2h0M281.5 276.4h0M281.3 274.5h0M281.9 276.6h0M282.0 276.9h0M287.7 277.1h0M283.9 274.9h0M276.7 285.0h0M277.2 284.6h0M280.7 281.7h0M278.3 285.5h0M280.2 281.3h0M276.0 282.1h0M278.1 285.6h0M281.7 281.8h0M274.6 280.1h0M280.2 284.0h0M276.1 280.1h0M280.4 282.1h0M280.8 281.4h0M275.6 280.6h0M277.4 282.7h0M276.3 281.9h0M279.3 286.4h0M281.1 283.6h0M278.3 283.6h0M276.5 284.0h0M277.1 284.2h0M277.2 284.4h0M279.8 286.4h0M280.6 284.7h0M276.0 282.9h0M281.3 283.4h0M278.4 284.8h0M276.6 282.6h0M275.9 284.9h0M277.0 284.9h0M281.5 282.7h0M279.7 283.2h0M278.9 285.2h0M277.3 284.5h0M276.9 283.7h0M279.3 286.2h0M276.5 283.5h0M275.8 278.9h0M276.1 281.0h0M280.1 282.4h0" stroke="#C6C834" stroke-width="1.7" stroke-linecap="round" fill="none"/>
<path d="M204.9 310.6h0M205.9 310.1h0M210.3 314.8h0M205.0 307.9h0M203.6 309.8h0M207.4 314.7h0M212.8 318.0h0M204.8 306.7h0M212.1 318.1h0M206.1 311.2h0M204.9 309.1h0M211.9 317.7h0M205.2 310.8h0M213.9 319.1h0M205.9 312.4h0M212.2 318.7h0M207.9 314.0h0M205.1 308.6h0M204.8 309.8h0M205.3 312.8h0M211.5 317.8h0M211.8 317.1h0M203.4 307.4h0M204.1 309.6h0M210.3 316.3h0M210.2 316.9h0M208.7 315.6h0M204.4 308.9h0M204.6 311.8h0M205.9 312.1h0M207.0 310.6h0M212.2 317.0h0M210.1 316.4h0M206.5 311.1h0M204.5 311.7h0M204.0 306.1h0M211.1 316.2h0M204.7 307.0h0M205.3 312.3h0M209.5 317.4h0M212.4 324.7h0M213.0 319.5h0M211.6 325.6h0M211.4 324.5h0M213.1 318.6h0M211.8 324.9h0M213.9 321.0h0M212.3 326.0h0M213.2 323.7h0M215.3 323.5h0M210.9 321.8h0M211.3 321.7h0M211.6 321.6h0M213.6 321.9h0M213.5 323.5h0M211.8 319.8h0M212.2 319.0h0M215.2 323.8h0M213.0 322.9h0M214.2 325.5h0M213.2 319.5h0M212.1 322.2h0M213.0 318.5h0M211.5 322.8h0M214.2 322.0h0M212.1 319.1h0M212.8 320.2h0M213.5 319.7h0M214.1 320.8h0M211.1 323.6h0M213.6 319.5h0M214.7 321.7h0M213.2 322.3h0M211.0 322.7h0M214.3 325.6h0M212.7 320.1h0M207.0 318.5h0M206.5 319.5h0" stroke="#BDB440" stroke-width="1.7" stroke-linecap="round" fill="none"/>
<path d="M204.5 305.7L229.3 284.1L254.0 273.7L258.0 276.5L264.0 276.7L272.0 277.5L277.0 280.0" stroke="#3a3a3a" stroke-width="1.3" fill="none" stroke-linejoin="round" stroke-linecap="round"/>
<path d="M229.3 284.1L224.3 278.0L212.0 275.5L198.3 274.2L192.0 270.5" stroke="#3a3a3a" stroke-width="1.2" fill="none" stroke-linejoin="round" stroke-linecap="round"/>
<path d="M204.5 305.7L205.8 312.6L211.5 317.0L213.0 320.0" stroke="#3a3a3a" stroke-width="1.3" fill="none" stroke-linejoin="round" stroke-linecap="round"/>
<text x="301.6" y="254.2" font-size="6.1">pseudotime</text>
<defs><linearGradient id="pl" x1="0" y1="1" x2="0" y2="0"><stop offset="0" stop-color="#0D0887"/><stop offset="0.2" stop-color="#6A00A8"/><stop offset="0.4" stop-color="#B12A90"/><stop offset="0.6" stop-color="#E16462"/><stop offset="0.8" stop-color="#FCA636"/><stop offset="1" stop-color="#F0F921"/></linearGradient></defs>
<rect x="302.3" y="256.4" width="9.2" height="45.6" fill="url(#pl)"/>
<text x="313.3" y="259.9" font-size="5.1" fill="#222">25</text>
<text x="313.3" y="268.5" font-size="5.1" fill="#222">20</text>
<text x="313.3" y="277.1" font-size="5.1" fill="#222">15</text>
<text x="313.3" y="285.6" font-size="5.1" fill="#222">10</text>
<text x="313.3" y="294.2" font-size="5.1" fill="#222">5</text>
<text x="313.3" y="302.8" font-size="5.1" fill="#222">0</text>
<path d="M380.2 270.3L380.4 270.6L380.6 270.9L380.9 271.3L381.2 271.7L381.5 271.9L381.9 271.8L382.3 271.6L382.7 271.3L383.2 270.9L383.7 270.2L384.2 269.2L384.9 267.9L385.6 266.0L386.4 263.7L387.2 261.1L388.1 258.3L389.0 255.6L389.8 253.0L390.7 250.5L391.5 247.8L392.4 245.1L393.2 242.6L394.0 240.4L394.8 238.5L395.4 237.0L396.0 235.8L396.5 234.8L397.0 234.1L397.6 233.7L398.1 233.5L398.6 233.7L399.1 234.1L399.6 234.8L400.1 235.8L400.6 237.0L401.0 238.5L401.5 240.3L402.0 242.4L402.5 244.8L403.0 247.4L403.4 250.2L403.8 253.0L404.2 256.2L404.6 259.8L405.0 263.6L405.3 267.2L405.7 270.4L406.0 272.8L406.3 274.4L406.6 275.5L406.9 276.1L407.1 276.4L407.4 276.3L407.6 276.1L407.9 275.6L408.1 274.6L408.3 273.4L408.6 272.0L408.8 270.7L409.1 269.5L409.4 268.4L409.8 267.2L410.2 265.9L410.5 264.9L410.9 264.1L411.3 263.7L411.6 263.9L411.9 264.4L412.3 265.1L412.6 266.1L412.9 267.2L413.2 268.2L413.6 269.4L413.9 270.7L414.2 272.2L414.5 273.6L414.9 274.9L415.4 275.8L415.9 276.4L416.5 276.8L417.1 277.0L417.8 277.1L418.6 277.1L419.5 276.9L420.7 276.7L422.0 276.2L423.4 275.7L424.9 275.0L426.4 274.5L427.8 274.0L429.2 273.6L430.5 273.2L431.9 272.8L433.3 272.5L434.7 272.2L436.0 272.0L437.4 271.8L438.7 271.7L439.9 271.6L441.3 271.5L442.7 271.4L444.3 271.3L446.0 271.2L448.0 271.0L450.0 270.9L452.0 270.8L454.0 270.7L455.8 270.8L457.6 271.1L459.4 271.6L461.2 272.1L462.9 272.6L464.4 273.1L465.7 273.5L466.9 273.7L467.8 274.0L468.6 274.1L469.3 274.2L470.0 274.2L470.7 274.1L471.5 273.9L472.3 273.4L473.1 272.9L473.8 272.3L474.4 271.8L474.8 271.5L474.8 281.4L474.4 281.1L473.8 280.7L473.1 280.3L472.3 279.8L471.5 279.4L470.7 279.1L470.0 279.0L469.3 278.9L468.6 278.9L467.8 279.0L466.9 279.0L465.7 279.1L464.4 279.2L462.9 279.3L461.2 279.5L459.4 279.6L457.6 279.7L455.8 279.8L454.0 279.7L452.0 279.6L450.0 279.5L448.0 279.4L446.0 279.2L444.3 279.1L442.7 279.0L441.3 278.9L439.9 278.8L438.7 278.7L437.4 278.6L436.0 278.6L434.7 278.6L433.3 278.7L432.0 278.7L430.6 278.8L429.2 279.0L427.8 279.1L426.1 279.2L424.4 279.4L422.5 279.6L420.7 279.8L419.2 280.1L417.9 280.4L416.9 280.8L416.2 281.1L415.7 281.5L415.3 282.0L415.0 282.7L414.6 283.6L414.2 284.8L413.8 286.2L413.5 287.9L413.2 289.6L412.9 291.2L412.6 292.6L412.2 294.1L411.9 295.7L411.5 297.3L411.2 298.6L410.8 299.3L410.4 299.2L410.1 298.0L409.7 295.9L409.3 293.2L409.0 290.3L408.6 287.8L408.3 286.0L408.0 284.8L407.7 283.9L407.5 283.3L407.2 283.0L406.9 283.3L406.6 284.0L406.4 285.6L406.1 287.7L405.8 290.4L405.4 293.3L405.1 296.3L404.7 299.2L404.2 302.2L403.7 305.4L403.1 308.8L402.5 312.0L401.9 314.9L401.4 317.4L400.8 319.5L400.2 321.4L399.6 323.0L399.0 324.2L398.4 325.0L397.7 325.3L397.0 325.0L396.3 324.3L395.5 323.1L394.7 321.5L393.9 319.6L393.1 317.4L392.3 314.7L391.4 311.4L390.6 307.8L389.7 304.1L388.9 300.6L388.2 297.6L387.5 295.0L387.0 292.6L386.5 290.4L386.0 288.4L385.5 286.7L384.9 285.2L384.1 284.1L383.2 283.3L382.3 282.8L381.5 282.4L380.8 282.2L380.2 281.9" stroke="none" stroke-width="0" fill="#90D6C9" stroke-linejoin="round" stroke-linecap="round" opacity="0.9"/>
<path d="M385.7 272.0L386.2 272.4L387.0 272.8L387.8 273.4L388.9 274.0L390.1 274.7L391.5 275.3L393.1 275.9L395.1 276.6L397.2 277.3L399.3 278.0L401.3 278.6L403.0 279.1L404.4 279.5L405.5 279.8L406.4 280.1L407.4 280.3L408.4 280.3L409.6 280.3L411.1 280.0L412.7 279.5L414.5 278.9L416.2 278.2L417.9 277.6L419.5 276.9L421.0 276.4L422.3 275.8L423.5 275.2L424.8 274.7L426.2 274.1L427.8 273.6L429.5 273.2L431.3 272.8L433.2 272.4L435.2 272.1L437.3 271.8L439.3 271.5L441.5 271.2L443.8 271.0L446.1 270.7L448.4 270.5L450.6 270.4L452.5 270.3L454.2 270.3L455.7 270.4L457.0 270.5L458.2 270.6L459.5 270.9L460.8 271.2L462.2 271.6L463.6 272.3L465.1 273.0L466.5 273.6L467.8 274.2L469.0 274.5L470.2 274.5L471.4 274.2L472.4 273.9L473.4 273.4L474.2 273.1L474.8 272.8L474.8 279.4L474.6 279.3L474.3 279.1L474.0 278.9L473.6 278.7L473.0 278.6L472.3 278.6L471.5 278.8L470.5 279.2L469.4 279.6L468.2 280.1L467.0 280.6L465.7 281.1L464.5 281.6L463.1 282.2L461.7 282.8L460.3 283.3L458.9 283.8L457.5 284.0L456.1 284.1L454.8 284.1L453.5 283.9L452.1 283.7L450.7 283.4L449.2 283.1L447.7 282.7L446.1 282.2L444.5 281.7L442.8 281.2L441.1 280.7L439.3 280.3L437.5 279.9L435.5 279.5L433.4 279.2L431.4 278.9L429.5 278.7L427.8 278.6L426.2 278.6L424.7 278.7L423.3 278.9L422.0 279.2L420.8 279.5L419.5 279.8L418.3 280.1L417.2 280.6L416.1 281.0L415.1 281.5L414.0 281.9L412.9 282.2L411.9 282.4L410.9 282.6L409.9 282.6L408.9 282.7L407.7 282.8L406.3 282.9L404.6 283.1L402.7 283.2L400.7 283.4L398.6 283.6L396.6 283.8L394.8 284.0L393.0 284.3L391.2 284.5L389.5 284.7L387.9 284.9L386.6 285.1L385.7 285.2" stroke="none" stroke-width="0" fill="#8088BC" stroke-linejoin="round" stroke-linecap="round" opacity="0.75"/>
<path d="M380.2 276.1L380.9 276.4L381.8 276.8L382.9 277.3L384.0 277.7L385.3 278.2L386.5 278.6L387.8 278.9L389.1 279.2L390.5 279.5L391.9 279.8L393.4 280.0L394.8 280.3L396.2 280.5L397.6 280.7L399.0 280.9L400.4 281.1L401.7 281.3L403.0 281.4L404.2 281.6L405.3 281.7L406.4 281.8L407.5 281.9L408.5 282.0L409.6 281.9L410.7 281.8L411.8 281.5L412.9 281.3L414.0 280.9L415.1 280.6L416.2 280.3L417.3 279.9L418.3 279.4L419.3 279.0L420.4 278.5L421.5 278.1L422.8 277.8L424.3 277.5L425.8 277.2L427.5 277.0L429.2 276.8L430.9 276.6L432.7 276.5L434.6 276.3L436.5 276.2L438.4 276.2L440.4 276.1L442.3 276.1L444.3 276.1L446.2 276.2L448.2 276.3L450.2 276.5L452.1 276.7L454.0 276.8L455.8 276.9L457.6 277.0L459.3 277.1L460.9 277.1L462.6 277.1L464.2 277.0L465.7 276.9L467.4 276.8L469.2 276.6L470.9 276.4L472.5 276.1L473.8 275.9L474.8 275.8" stroke="#1C9C86" stroke-width="1.15" fill="none" stroke-linejoin="round" stroke-linecap="round"/>
<path d="M385.7 277.4L386.7 277.8L388.1 278.2L389.7 278.8L391.5 279.3L393.2 279.8L394.8 280.3L396.2 280.5L397.6 280.8L399.0 281.0L400.4 281.1L401.7 281.3L403.0 281.4L404.2 281.5L405.3 281.6L406.4 281.7L407.5 281.8L408.5 281.8L409.6 281.7L410.7 281.6L411.8 281.4L412.9 281.2L414.0 280.9L415.1 280.6L416.2 280.3L417.3 279.9L418.3 279.5L419.3 279.0L420.4 278.6L421.5 278.1L422.8 277.8L424.3 277.5L425.8 277.2L427.5 276.9L429.2 276.7L430.9 276.5L432.7 276.3L434.6 276.2L436.5 276.1L438.4 276.0L440.4 275.9L442.3 275.9L444.3 276.0L446.2 276.0L448.2 276.2L450.2 276.3L452.1 276.5L454.0 276.7L455.8 276.8L457.6 276.9L459.3 276.9L460.9 277.0L462.6 277.0L464.2 277.0L465.7 276.9L467.4 276.8L469.2 276.7L470.9 276.5L472.5 276.3L473.8 276.1L474.8 276.0" stroke="#3C4C7E" stroke-width="1.15" fill="none" stroke-linejoin="round" stroke-linecap="round"/>
<line x1="375.4" y1="229.4" x2="375.4" y2="330.2" stroke="#222" stroke-width="0.9"/>
<line x1="375.0" y1="329.8" x2="479.4" y2="329.8" stroke="#222" stroke-width="0.9"/>
<text x="376.0" y="223.8" font-size="7.4">CD14</text>
<line x1="373.6" y1="247.3" x2="375.4" y2="247.3" stroke="#222" stroke-width="0.7"/>
<text x="372.6" y="249.5" font-size="6.2" text-anchor="end">1.0</text>
<line x1="373.6" y1="266.5" x2="375.4" y2="266.5" stroke="#222" stroke-width="0.7"/>
<text x="372.6" y="268.7" font-size="6.2" text-anchor="end">0.5</text>
<line x1="373.6" y1="285.8" x2="375.4" y2="285.8" stroke="#222" stroke-width="0.7"/>
<text x="372.6" y="288.0" font-size="6.2" text-anchor="end">0.0</text>
<line x1="373.6" y1="305.0" x2="375.4" y2="305.0" stroke="#222" stroke-width="0.7"/>
<text x="372.6" y="307.2" font-size="6.2" text-anchor="end">-0.5</text>
<line x1="373.6" y1="324.3" x2="375.4" y2="324.3" stroke="#222" stroke-width="0.7"/>
<text x="372.6" y="326.5" font-size="6.2" text-anchor="end">-1.0</text>
<line x1="379.8" y1="329.8" x2="379.8" y2="331.6" stroke="#222" stroke-width="0.7"/>
<text x="379.8" y="337.4" font-size="6.2" text-anchor="middle">0.0</text>
<line x1="398.8" y1="329.8" x2="398.8" y2="331.6" stroke="#222" stroke-width="0.7"/>
<text x="398.8" y="337.4" font-size="6.2" text-anchor="middle">0.5</text>
<line x1="418.1" y1="329.8" x2="418.1" y2="331.6" stroke="#222" stroke-width="0.7"/>
<text x="418.1" y="337.4" font-size="6.2" text-anchor="middle">1.0</text>
<line x1="437.3" y1="329.8" x2="437.3" y2="331.6" stroke="#222" stroke-width="0.7"/>
<text x="437.3" y="337.4" font-size="6.2" text-anchor="middle">1.5</text>
<line x1="456.0" y1="329.8" x2="456.0" y2="331.6" stroke="#222" stroke-width="0.7"/>
<text x="456.0" y="337.4" font-size="6.2" text-anchor="middle">2.0</text>
<line x1="475.3" y1="329.8" x2="475.3" y2="331.6" stroke="#222" stroke-width="0.7"/>
<text x="475.3" y="337.4" font-size="6.2" text-anchor="middle">2.5</text>
<text x="427.6" y="344.4" font-size="7.2" text-anchor="middle">pseudotime</text>
<text transform="translate(358.7 281.7) rotate(-90)" font-size="7.2" text-anchor="middle">Relative expression</text>
<rect x="489.6" y="272.7" width="8.3" height="8.9" fill="#90D6C9"/>
<line x1="490.2" y1="276.9" x2="497.3" y2="276.9" stroke="#1C9C86" stroke-width="1.1"/>
<rect x="489.6" y="281.6" width="8.3" height="7.8" fill="#B4B9D6"/>
<line x1="490.2" y1="285.5" x2="497.3" y2="285.5" stroke="#3C4C7E" stroke-width="1.1"/>
<text x="500.8" y="278.5" font-size="4.9">HCC</text>
<text x="500.8" y="287.2" font-size="4.9">PC</text>
<path d="M574.9 255.5L575.4 256.3L576.2 257.5L577.1 258.8L578.0 260.3L579.0 261.7L579.9 262.9L580.7 264.0L581.4 265.1L582.2 266.1L583.0 267.1L583.9 267.9L584.8 268.7L585.8 269.3L586.9 269.9L588.1 270.4L589.3 270.8L590.4 271.0L591.4 271.2L592.4 271.2L593.2 271.2L594.1 271.1L594.9 270.8L595.7 270.3L596.4 269.5L597.0 268.4L597.6 267.1L598.1 265.6L598.6 263.8L599.1 261.8L599.7 259.6L600.2 257.0L600.8 253.8L601.4 250.4L602.0 247.1L602.5 244.0L603.0 241.5L603.4 239.3L603.8 237.4L604.1 235.7L604.5 234.4L604.8 233.5L605.1 233.2L605.4 233.6L605.7 234.5L606.0 235.9L606.3 237.7L606.7 239.6L607.1 241.5L607.6 243.6L608.1 246.1L608.6 248.7L609.2 251.3L609.8 253.6L610.4 255.5L611.0 256.8L611.6 257.8L612.3 258.5L612.9 259.1L613.7 259.6L614.5 260.1L615.4 260.7L616.4 261.2L617.5 261.7L618.6 262.1L619.8 262.5L621.1 262.9L622.6 263.3L624.2 263.6L626.0 263.9L627.7 264.2L629.4 264.4L631.0 264.6L632.5 264.6L633.9 264.7L635.3 264.6L636.6 264.6L637.9 264.4L639.3 264.2L640.7 264.0L642.0 263.7L643.4 263.3L644.8 262.9L646.2 262.5L647.5 262.1L648.9 261.7L650.3 261.4L651.7 261.0L653.0 260.7L654.4 260.4L655.8 260.1L657.2 259.9L658.7 259.7L660.2 259.5L661.6 259.3L662.9 259.2L664.0 259.1L665.0 259.1L665.9 259.0L666.6 259.1L667.3 259.1L667.8 259.1L668.2 259.1L668.2 261.6L667.8 261.5L667.3 261.5L666.6 261.4L665.9 261.3L665.0 261.2L664.0 261.3L662.9 261.4L661.6 261.5L660.2 261.7L658.7 262.0L657.2 262.3L655.8 262.6L654.4 263.0L653.0 263.4L651.7 263.9L650.3 264.4L648.9 264.9L647.5 265.4L646.2 265.8L644.8 266.3L643.4 266.8L642.0 267.2L640.7 267.6L639.3 267.9L637.9 268.1L636.6 268.4L635.3 268.6L633.9 268.7L632.5 268.8L631.0 268.7L629.4 268.5L627.7 268.1L626.0 267.7L624.2 267.2L622.6 266.7L621.1 266.2L619.8 265.7L618.6 265.2L617.5 264.6L616.4 264.0L615.4 263.5L614.5 262.9L613.7 262.4L612.9 261.8L612.2 261.3L611.6 260.8L611.0 260.2L610.4 259.6L609.8 259.0L609.3 258.2L608.9 257.5L608.5 256.8L608.0 256.1L607.6 255.5L607.2 254.9L606.7 254.4L606.3 253.9L605.9 253.5L605.5 253.2L605.1 253.0L604.7 252.8L604.4 252.6L604.0 252.4L603.7 252.5L603.3 252.9L603.0 253.8L602.6 255.3L602.2 257.1L601.7 259.4L601.3 261.9L600.9 264.8L600.5 267.9L600.1 271.4L599.7 275.3L599.3 279.6L598.9 284.0L598.5 288.4L598.0 292.6L597.5 297.0L596.9 301.6L596.4 306.1L595.8 310.5L595.2 314.3L594.7 317.4L594.3 319.7L593.9 321.4L593.5 322.7L593.1 323.4L592.7 323.9L592.2 324.0L591.7 323.8L591.2 323.1L590.7 322.1L590.1 320.8L589.5 319.2L588.9 317.4L588.3 315.3L587.7 312.9L587.0 310.3L586.3 307.4L585.6 304.2L584.8 300.9L584.0 297.1L583.2 292.9L582.4 288.4L581.5 283.9L580.7 279.8L579.9 276.1L579.0 272.9L578.0 269.9L577.1 267.1L576.2 264.8L575.4 262.8L574.9 261.3" stroke="none" stroke-width="0" fill="#90D6C9" stroke-linejoin="round" stroke-linecap="round" opacity="0.9"/>
<path d="M580.4 257.1L581.3 257.2L582.5 257.4L584.0 257.5L585.8 257.7L587.7 257.9L589.8 258.1L592.1 258.4L594.9 258.6L597.8 258.9L600.7 259.2L603.6 259.4L606.3 259.6L608.7 259.8L611.0 260.0L613.2 260.2L615.3 260.3L617.4 260.4L619.5 260.4L621.5 260.4L623.6 260.3L625.6 260.1L627.5 259.9L629.3 259.7L631.0 259.5L632.6 259.2L633.9 259.0L635.2 258.7L636.4 258.5L637.8 258.2L639.3 258.0L641.0 257.7L643.0 257.4L645.0 257.0L647.0 256.8L649.0 256.6L650.8 256.5L652.6 256.6L654.4 256.8L656.0 257.0L657.7 257.4L659.3 257.7L660.7 258.0L662.2 258.2L663.7 258.5L665.1 258.8L666.3 259.1L667.4 259.3L668.2 259.5L668.2 261.4L667.4 261.3L666.3 261.2L665.1 261.1L663.7 260.9L662.2 260.7L660.7 260.6L659.3 260.5L657.7 260.4L656.0 260.3L654.4 260.2L652.6 260.1L650.8 260.1L649.0 260.1L647.0 260.2L645.0 260.3L643.0 260.4L641.0 260.5L639.3 260.6L637.8 260.7L636.4 260.9L635.2 261.0L633.9 261.2L632.6 261.3L631.0 261.4L629.3 261.6L627.5 261.7L625.6 261.9L623.6 262.0L621.5 262.1L619.5 262.1L617.4 262.0L615.3 261.9L613.2 261.8L611.0 261.6L608.7 261.4L606.3 261.3L603.6 261.1L600.7 260.9L597.8 260.7L594.9 260.5L592.1 260.3L589.8 260.1L587.7 260.0L585.8 259.8L584.0 259.7L582.5 259.6L581.3 259.5L580.4 259.5" stroke="none" stroke-width="0" fill="#8088BC" stroke-linejoin="round" stroke-linecap="round" opacity="0.75"/>
<path d="M574.9 258.8L575.4 259.9L576.2 261.4L577.1 263.1L578.0 265.1L579.0 267.3L579.9 269.5L580.7 272.0L581.5 274.9L582.4 277.9L583.2 280.9L584.0 283.6L584.8 286.0L585.6 288.0L586.3 289.8L587.0 291.4L587.7 292.8L588.3 294.1L588.9 295.1L589.5 296.0L590.1 296.7L590.6 297.2L591.2 297.5L591.7 297.6L592.2 297.6L592.8 297.4L593.4 297.0L593.9 296.4L594.5 295.7L595.0 294.7L595.5 293.5L596.0 291.9L596.4 290.2L596.8 288.1L597.2 285.9L597.6 283.6L598.0 281.1L598.4 278.3L598.8 275.3L599.3 272.2L599.7 268.9L600.1 265.8L600.5 262.9L600.9 260.1L601.3 257.3L601.7 254.6L602.2 252.1L602.6 249.9L603.0 248.1L603.3 246.6L603.7 245.4L604.0 244.5L604.4 243.9L604.7 243.6L605.1 243.4L605.5 243.6L605.9 244.1L606.3 244.9L606.7 245.8L607.2 246.9L607.6 248.1L608.0 249.4L608.5 250.9L608.9 252.6L609.3 254.3L609.8 255.9L610.4 257.1L611.0 258.1L611.6 258.9L612.2 259.6L612.9 260.2L613.7 260.7L614.5 261.3L615.4 261.8L616.4 262.4L617.5 262.9L618.6 263.4L619.8 263.8L621.1 264.2L622.6 264.7L624.2 265.1L626.0 265.4L627.7 265.8L629.4 266.0L631.0 266.2L632.5 266.3L633.9 266.3L635.3 266.3L636.6 266.2L637.9 266.1L639.3 265.9L640.7 265.6L642.0 265.3L643.4 265.0L644.8 264.6L646.2 264.1L647.5 263.7L648.9 263.3L650.3 262.9L651.7 262.4L653.0 262.0L654.4 261.6L655.8 261.3L657.2 261.0L658.7 260.7L660.2 260.5L661.6 260.3L662.9 260.2L664.0 260.1L665.0 260.1L665.9 260.1L666.6 260.2L667.3 260.3L667.8 260.4L668.2 260.4" stroke="#1C9C86" stroke-width="1.15" fill="none" stroke-linejoin="round" stroke-linecap="round"/>
<path d="M580.4 258.3L581.3 258.4L582.5 258.5L584.0 258.6L585.8 258.8L587.7 258.9L589.8 259.1L592.1 259.3L594.9 259.5L597.8 259.8L600.7 260.0L603.6 260.2L606.3 260.4L608.7 260.6L611.0 260.8L613.2 261.0L615.3 261.1L617.4 261.2L619.5 261.3L621.5 261.2L623.6 261.1L625.6 261.0L627.5 260.8L629.3 260.6L631.0 260.4L632.6 260.3L633.9 260.1L635.2 259.9L636.4 259.7L637.8 259.5L639.3 259.3L641.0 259.1L643.0 258.9L645.0 258.7L647.0 258.5L649.0 258.3L650.8 258.3L652.6 258.3L654.4 258.5L656.0 258.7L657.7 258.9L659.3 259.1L660.7 259.3L662.2 259.5L663.7 259.7L665.1 259.9L666.3 260.1L667.4 260.3L668.2 260.4" stroke="#3C4C7E" stroke-width="1.15" fill="none" stroke-linejoin="round" stroke-linecap="round"/>
<line x1="570.1" y1="229.3" x2="570.1" y2="328.3" stroke="#222" stroke-width="0.9"/>
<line x1="569.7" y1="327.9" x2="672.3" y2="327.9" stroke="#222" stroke-width="0.9"/>
<text x="570.7" y="223.7" font-size="7.4">CD83</text>
<line x1="568.3" y1="242.5" x2="570.1" y2="242.5" stroke="#222" stroke-width="0.7"/>
<text x="567.3" y="244.7" font-size="6.2" text-anchor="end">2.5</text>
<line x1="568.3" y1="264.5" x2="570.1" y2="264.5" stroke="#222" stroke-width="0.7"/>
<text x="567.3" y="266.7" font-size="6.2" text-anchor="end">0.0</text>
<line x1="568.3" y1="286.7" x2="570.1" y2="286.7" stroke="#222" stroke-width="0.7"/>
<text x="567.3" y="288.9" font-size="6.2" text-anchor="end">-2.5</text>
<line x1="568.3" y1="308.6" x2="570.1" y2="308.6" stroke="#222" stroke-width="0.7"/>
<text x="567.3" y="310.8" font-size="6.2" text-anchor="end">-5.0</text>
<line x1="574.6" y1="327.9" x2="574.6" y2="329.7" stroke="#222" stroke-width="0.7"/>
<text x="574.6" y="335.5" font-size="6.2" text-anchor="middle">0.0</text>
<line x1="593.1" y1="327.9" x2="593.1" y2="329.7" stroke="#222" stroke-width="0.7"/>
<text x="593.1" y="335.5" font-size="6.2" text-anchor="middle">0.5</text>
<line x1="612.4" y1="327.9" x2="612.4" y2="329.7" stroke="#222" stroke-width="0.7"/>
<text x="612.4" y="335.5" font-size="6.2" text-anchor="middle">1.0</text>
<line x1="630.9" y1="327.9" x2="630.9" y2="329.7" stroke="#222" stroke-width="0.7"/>
<text x="630.9" y="335.5" font-size="6.2" text-anchor="middle">1.5</text>
<line x1="649.4" y1="327.9" x2="649.4" y2="329.7" stroke="#222" stroke-width="0.7"/>
<text x="649.4" y="335.5" font-size="6.2" text-anchor="middle">2.0</text>
<line x1="668.4" y1="327.9" x2="668.4" y2="329.7" stroke="#222" stroke-width="0.7"/>
<text x="668.4" y="335.5" font-size="6.2" text-anchor="middle">2.5</text>
<text x="622.0" y="343.2" font-size="7.2" text-anchor="middle">pseudotime</text>
<text transform="translate(552.9 279.0) rotate(-90)" font-size="7.2" text-anchor="middle">Relative expression</text>
<rect x="682.4" y="271.6" width="8.3" height="8.9" fill="#90D6C9"/>
<line x1="683.0" y1="275.8" x2="690.1" y2="275.8" stroke="#1C9C86" stroke-width="1.1"/>
<rect x="682.4" y="280.5" width="8.3" height="7.8" fill="#B4B9D6"/>
<line x1="683.0" y1="284.4" x2="690.1" y2="284.4" stroke="#3C4C7E" stroke-width="1.1"/>
<text x="693.6" y="277.4" font-size="4.9">HCC</text>
<text x="693.6" y="286.1" font-size="4.9">PC</text>
<path d="M380.7 403.8L381.2 404.5L381.8 405.4L382.5 406.4L383.3 407.5L384.1 408.6L384.9 409.6L385.6 410.5L386.4 411.4L387.2 412.3L388.0 413.1L388.9 413.9L389.8 414.6L390.8 415.2L391.9 415.7L393.1 416.1L394.2 416.5L395.3 416.8L396.4 417.0L397.5 417.2L398.5 417.4L399.5 417.5L400.5 417.4L401.4 417.3L402.2 417.0L402.9 416.7L403.5 416.3L404.0 415.8L404.5 415.1L405.0 414.2L405.5 412.9L406.0 411.2L406.4 409.1L406.8 406.8L407.2 404.3L407.6 401.9L408.0 399.7L408.4 397.6L408.8 395.5L409.3 393.4L409.7 391.4L410.1 389.6L410.4 388.2L410.8 386.9L411.1 385.9L411.3 385.1L411.6 384.5L411.8 384.2L412.1 384.0L412.3 384.1L412.6 384.4L412.8 384.9L413.1 385.7L413.4 386.8L413.7 388.2L414.2 390.1L414.6 392.6L415.1 395.3L415.7 398.2L416.3 400.8L417.0 403.0L417.9 404.8L418.8 406.4L419.7 407.8L420.7 409.1L421.8 410.1L422.8 410.9L423.8 411.5L424.8 411.9L425.9 412.1L426.9 412.1L428.1 412.1L429.4 412.1L430.9 412.1L432.5 412.0L434.3 411.9L436.0 411.8L437.7 411.5L439.3 411.3L440.8 410.9L442.2 410.5L443.6 410.0L444.9 409.5L446.2 409.0L447.6 408.5L449.0 407.9L450.3 407.3L451.7 406.7L453.1 406.1L454.5 405.5L455.8 405.0L457.2 404.5L458.6 404.1L460.0 403.7L461.3 403.4L462.7 403.2L464.1 403.0L465.5 403.0L467.0 403.1L468.5 403.3L469.9 403.5L471.2 403.7L472.3 403.8L473.3 403.9L474.2 404.0L474.9 404.1L475.6 404.2L476.1 404.3L476.5 404.3L476.5 407.1L476.1 407.0L475.6 406.9L474.9 406.7L474.2 406.5L473.3 406.4L472.3 406.3L471.2 406.3L469.9 406.4L468.5 406.5L467.0 406.7L465.5 406.9L464.1 407.1L462.7 407.4L461.3 407.8L460.0 408.2L458.6 408.7L457.2 409.1L455.8 409.6L454.5 410.1L453.1 410.7L451.7 411.3L450.3 411.8L449.0 412.4L447.6 412.9L446.2 413.4L444.9 413.9L443.6 414.3L442.2 414.7L440.8 415.1L439.3 415.4L437.7 415.7L436.0 415.9L434.3 416.1L432.5 416.3L430.9 416.3L429.4 416.2L428.1 416.0L426.9 415.7L425.8 415.3L424.8 414.8L423.8 414.3L422.8 413.7L421.9 413.1L421.0 412.4L420.1 411.7L419.3 410.9L418.6 410.2L417.9 409.6L417.2 409.1L416.6 408.6L416.1 408.2L415.5 407.8L415.1 407.5L414.6 407.1L414.1 406.8L413.7 406.4L413.3 406.1L412.9 405.8L412.5 405.6L412.1 405.5L411.7 405.3L411.3 405.1L410.9 405.0L410.4 405.0L410.0 405.4L409.6 406.3L409.2 407.7L408.8 409.5L408.4 411.6L407.9 414.0L407.5 416.7L407.1 419.5L406.8 422.6L406.4 426.1L406.1 429.7L405.7 433.5L405.4 437.3L405.0 441.0L404.6 444.7L404.1 448.5L403.7 452.4L403.2 456.1L402.7 459.5L402.2 462.4L401.7 465.1L401.2 467.6L400.6 469.8L400.1 471.6L399.5 472.7L398.9 473.2L398.3 472.7L397.6 471.5L396.9 469.7L396.2 467.5L395.5 465.0L394.8 462.4L394.0 459.7L393.2 456.6L392.3 453.2L391.5 449.7L390.6 446.1L389.8 442.6L389.0 439.0L388.1 435.2L387.3 431.4L386.4 427.7L385.6 424.2L384.9 421.2L384.1 418.5L383.3 416.2L382.5 414.1L381.8 412.2L381.2 410.8L380.7 409.6" stroke="none" stroke-width="0" fill="#90D6C9" stroke-linejoin="round" stroke-linecap="round" opacity="0.9"/>
<path d="M386.5 403.5L387.5 403.8L388.9 404.2L390.5 404.7L392.4 405.2L394.4 405.8L396.4 406.3L398.6 406.9L401.1 407.5L403.6 408.2L406.3 408.9L408.8 409.4L411.3 409.9L413.6 410.4L415.9 410.8L418.1 411.1L420.3 411.4L422.4 411.5L424.5 411.6L426.5 411.6L428.4 411.4L430.4 411.2L432.2 410.9L434.1 410.5L436.0 410.1L438.0 409.7L439.9 409.1L441.8 408.5L443.7 407.9L445.7 407.3L447.6 406.6L449.5 406.0L451.5 405.3L453.5 404.6L455.4 404.0L457.3 403.4L459.1 403.0L460.9 402.7L462.7 402.6L464.3 402.5L466.0 402.5L467.6 402.6L469.0 402.7L470.5 402.9L472.0 403.1L473.4 403.5L474.6 403.8L475.7 404.1L476.5 404.3L476.5 406.6L475.7 406.6L474.6 406.4L473.4 406.3L472.0 406.1L470.5 406.0L469.0 406.0L467.6 406.0L466.0 406.1L464.3 406.3L462.7 406.4L460.9 406.7L459.1 407.0L457.3 407.4L455.4 407.8L453.5 408.4L451.5 408.9L449.5 409.5L447.6 409.9L445.7 410.4L443.7 410.9L441.8 411.3L439.9 411.7L438.0 412.1L436.0 412.4L434.1 412.7L432.2 413.0L430.4 413.3L428.4 413.5L426.5 413.6L424.5 413.6L422.4 413.5L420.3 413.3L418.1 413.0L415.9 412.6L413.6 412.3L411.3 411.9L408.8 411.6L406.3 411.2L403.6 410.8L401.1 410.4L398.6 410.0L396.4 409.6L394.4 409.2L392.4 408.8L390.5 408.4L388.9 408.0L387.5 407.7L386.5 407.5" stroke="none" stroke-width="0" fill="#8088BC" stroke-linejoin="round" stroke-linecap="round" opacity="0.75"/>
<path d="M380.7 407.1L381.2 408.0L381.8 409.0L382.5 410.3L383.3 411.8L384.1 413.5L384.9 415.4L385.6 417.5L386.4 420.0L387.3 422.7L388.1 425.4L389.0 427.9L389.8 430.3L390.6 432.3L391.5 434.4L392.3 436.3L393.2 438.0L394.0 439.6L394.8 441.0L395.5 442.2L396.2 443.3L396.9 444.2L397.6 444.9L398.3 445.4L398.9 445.6L399.5 445.6L400.1 445.3L400.6 444.9L401.2 444.1L401.7 443.1L402.2 441.8L402.7 440.1L403.2 438.0L403.7 435.6L404.1 433.0L404.6 430.4L405.0 427.8L405.4 425.1L405.7 422.3L406.1 419.4L406.4 416.6L406.8 413.8L407.1 411.3L407.5 408.9L407.9 406.5L408.4 404.3L408.8 402.2L409.2 400.4L409.6 398.9L410.0 397.7L410.4 396.8L410.9 396.1L411.3 395.6L411.7 395.3L412.1 395.3L412.5 395.4L412.9 395.8L413.3 396.3L413.7 397.1L414.1 397.9L414.6 398.9L415.1 400.0L415.5 401.4L416.1 402.9L416.6 404.5L417.2 405.9L417.9 407.1L418.6 408.2L419.3 409.2L420.1 410.0L421.0 410.8L421.9 411.5L422.8 412.1L423.8 412.6L424.8 413.0L425.8 413.3L426.9 413.5L428.1 413.7L429.4 413.7L430.9 413.8L432.5 413.7L434.3 413.6L436.0 413.4L437.7 413.2L439.3 412.9L440.8 412.6L442.2 412.2L443.6 411.8L444.9 411.4L446.2 410.9L447.6 410.4L449.0 409.9L450.3 409.4L451.7 408.8L453.1 408.2L454.5 407.6L455.8 407.1L457.2 406.7L458.6 406.3L460.0 405.9L461.3 405.5L462.7 405.2L464.1 405.0L465.5 404.9L467.0 404.8L468.5 404.8L469.9 404.9L471.2 404.9L472.3 405.0L473.3 405.1L474.2 405.1L474.9 405.2L475.6 405.3L476.1 405.4L476.5 405.5" stroke="#1C9C86" stroke-width="1.15" fill="none" stroke-linejoin="round" stroke-linecap="round"/>
<path d="M386.5 405.5L387.5 405.8L388.9 406.1L390.5 406.5L392.4 407.0L394.4 407.5L396.4 408.0L398.6 408.4L401.1 409.0L403.6 409.5L406.3 410.0L408.8 410.5L411.3 410.9L413.6 411.3L415.9 411.7L418.1 412.0L420.3 412.3L422.4 412.5L424.5 412.6L426.5 412.6L428.4 412.4L430.4 412.2L432.2 411.9L434.1 411.6L436.0 411.3L438.0 410.9L439.9 410.4L441.8 409.9L443.7 409.4L445.7 408.8L447.6 408.3L449.5 407.7L451.5 407.1L453.5 406.5L455.4 405.9L457.3 405.4L459.1 405.0L460.9 404.7L462.7 404.5L464.3 404.4L466.0 404.3L467.6 404.3L469.0 404.3L470.5 404.4L472.0 404.6L473.4 404.9L474.6 405.1L475.7 405.3L476.5 405.5" stroke="#3C4C7E" stroke-width="1.15" fill="none" stroke-linejoin="round" stroke-linecap="round"/>
<line x1="375.7" y1="380.1" x2="375.7" y2="478.2" stroke="#222" stroke-width="0.9"/>
<line x1="375.3" y1="477.8" x2="480.8" y2="477.8" stroke="#222" stroke-width="0.9"/>
<text x="376.3" y="374.5" font-size="7.4">CDKN1A</text>
<line x1="373.9" y1="387.0" x2="375.7" y2="387.0" stroke="#222" stroke-width="0.7"/>
<text x="372.9" y="389.2" font-size="6.2" text-anchor="end">2</text>
<line x1="373.9" y1="415.3" x2="375.7" y2="415.3" stroke="#222" stroke-width="0.7"/>
<text x="372.9" y="417.5" font-size="6.2" text-anchor="end">0</text>
<line x1="373.9" y1="444.0" x2="375.7" y2="444.0" stroke="#222" stroke-width="0.7"/>
<text x="372.9" y="446.2" font-size="6.2" text-anchor="end">-2</text>
<line x1="373.9" y1="472.3" x2="375.7" y2="472.3" stroke="#222" stroke-width="0.7"/>
<text x="372.9" y="474.5" font-size="6.2" text-anchor="end">-4</text>
<line x1="380.4" y1="477.8" x2="380.4" y2="479.6" stroke="#222" stroke-width="0.7"/>
<text x="380.4" y="485.4" font-size="6.2" text-anchor="middle">0.0</text>
<line x1="399.6" y1="477.8" x2="399.6" y2="479.6" stroke="#222" stroke-width="0.7"/>
<text x="399.6" y="485.4" font-size="6.2" text-anchor="middle">0.5</text>
<line x1="418.9" y1="477.8" x2="418.9" y2="479.6" stroke="#222" stroke-width="0.7"/>
<text x="418.9" y="485.4" font-size="6.2" text-anchor="middle">1.0</text>
<line x1="438.2" y1="477.8" x2="438.2" y2="479.6" stroke="#222" stroke-width="0.7"/>
<text x="438.2" y="485.4" font-size="6.2" text-anchor="middle">1.5</text>
<line x1="457.4" y1="477.8" x2="457.4" y2="479.6" stroke="#222" stroke-width="0.7"/>
<text x="457.4" y="485.4" font-size="6.2" text-anchor="middle">2.0</text>
<line x1="476.7" y1="477.8" x2="476.7" y2="479.6" stroke="#222" stroke-width="0.7"/>
<text x="476.7" y="485.4" font-size="6.2" text-anchor="middle">2.5</text>
<text x="428.9" y="493.2" font-size="7.2" text-anchor="middle">pseudotime</text>
<text transform="translate(364.0 429.6) rotate(-90)" font-size="7.2" text-anchor="middle">Relative expression</text>
<rect x="491.3" y="422.2" width="8.3" height="8.9" fill="#90D6C9"/>
<line x1="491.9" y1="426.4" x2="499.0" y2="426.4" stroke="#1C9C86" stroke-width="1.1"/>
<rect x="491.3" y="431.1" width="8.3" height="7.8" fill="#B4B9D6"/>
<line x1="491.9" y1="435.0" x2="499.0" y2="435.0" stroke="#3C4C7E" stroke-width="1.1"/>
<text x="502.5" y="428.0" font-size="4.9">HCC</text>
<text x="502.5" y="436.7" font-size="4.9">PC</text>
<path d="M569.9 405.5L570.4 406.3L571.2 407.4L572.1 408.8L573.0 410.2L574.0 411.6L574.9 412.9L575.7 414.1L576.4 415.3L577.2 416.5L578.0 417.6L578.9 418.6L579.8 419.5L580.8 420.3L581.9 421.0L583.1 421.6L584.2 422.2L585.3 422.5L586.4 422.8L587.5 423.0L588.5 423.0L589.5 423.0L590.5 422.8L591.4 422.5L592.2 422.0L592.8 421.4L593.4 420.8L593.8 420.0L594.2 419.0L594.6 417.8L595.0 416.2L595.4 414.2L595.9 411.8L596.3 409.2L596.8 406.4L597.2 403.8L597.6 401.4L598.0 399.2L598.5 397.0L598.9 395.0L599.2 393.0L599.6 391.3L599.9 389.8L600.3 388.5L600.5 387.3L600.8 386.3L601.1 385.5L601.3 385.0L601.6 384.9L601.9 385.0L602.1 385.5L602.3 386.2L602.6 387.2L602.9 388.4L603.2 389.8L603.6 391.6L604.1 393.8L604.5 396.2L605.0 398.7L605.6 401.0L606.2 403.0L606.9 404.7L607.7 406.3L608.5 407.7L609.3 409.0L610.2 410.2L611.2 411.3L612.2 412.2L613.2 413.0L614.3 413.7L615.4 414.4L616.6 414.9L617.8 415.4L619.1 415.8L620.4 416.2L621.8 416.5L623.2 416.8L624.6 416.9L626.0 417.0L627.4 417.1L628.8 417.0L630.2 416.9L631.5 416.7L632.9 416.5L634.3 416.2L635.6 415.9L637.0 415.5L638.3 415.1L639.7 414.7L641.1 414.2L642.5 413.7L644.1 413.2L645.8 412.6L647.5 412.0L649.2 411.5L650.9 410.9L652.4 410.4L653.9 410.1L655.4 409.7L656.8 409.4L658.1 409.2L659.4 409.0L660.7 408.8L662.0 408.6L663.3 408.5L664.5 408.4L665.6 408.4L666.6 408.3L667.3 408.3L667.3 412.1L666.6 412.1L665.6 412.0L664.5 412.0L663.3 412.0L662.0 412.0L660.7 412.1L659.4 412.3L658.1 412.5L656.8 412.7L655.4 413.0L653.9 413.4L652.4 413.7L650.9 414.2L649.2 414.8L647.5 415.3L645.8 415.9L644.1 416.5L642.5 417.0L641.1 417.5L639.7 418.0L638.3 418.4L637.0 418.8L635.6 419.2L634.3 419.5L632.9 419.8L631.5 420.2L630.2 420.5L628.8 420.7L627.4 420.8L626.0 420.8L624.6 420.7L623.2 420.4L621.8 420.1L620.4 419.7L619.1 419.2L617.8 418.7L616.6 418.2L615.4 417.6L614.2 416.9L613.1 416.3L612.1 415.6L611.2 414.9L610.3 414.2L609.6 413.5L608.9 412.7L608.3 411.9L607.7 411.2L607.0 410.4L606.4 409.7L605.9 409.0L605.3 408.2L604.8 407.5L604.2 406.9L603.7 406.3L603.3 405.8L602.9 405.4L602.5 405.1L602.1 404.8L601.7 404.7L601.3 404.7L600.9 404.7L600.4 404.7L600.0 404.8L599.6 405.2L599.2 405.9L598.8 407.1L598.4 408.9L598.0 411.1L597.6 413.6L597.1 416.4L596.7 419.5L596.3 422.8L595.9 426.5L595.5 430.5L595.1 434.8L594.7 439.2L594.3 443.5L593.8 447.6L593.3 451.5L592.8 455.5L592.2 459.4L591.6 463.1L591.1 466.4L590.5 469.0L590.1 471.2L589.7 472.9L589.3 474.2L588.9 475.1L588.5 475.6L588.1 475.6L587.6 475.3L587.1 474.4L586.6 473.2L586.0 471.5L585.4 469.6L584.8 467.4L584.0 464.8L583.2 461.8L582.4 458.4L581.5 454.9L580.7 451.2L579.8 447.6L579.0 443.8L578.2 439.8L577.3 435.6L576.5 431.6L575.7 427.8L574.9 424.5L574.0 421.5L573.0 418.8L572.1 416.4L571.2 414.3L570.4 412.6L569.9 411.3" stroke="none" stroke-width="0" fill="#90D6C9" stroke-linejoin="round" stroke-linecap="round" opacity="0.9"/>
<path d="M575.7 409.0L579.1 408.9L583.6 408.9L589.0 408.8L595.2 408.8L602.1 408.7L609.5 408.6L618.4 408.5L629.1 408.5L640.5 408.4L651.4 408.3L660.7 408.2L667.3 408.1L667.3 409.6L660.7 409.7L651.4 409.7L640.5 409.8L629.1 409.8L618.4 409.9L609.5 409.9L602.1 410.0L595.2 410.1L589.0 410.1L583.6 410.2L579.1 410.2L575.7 410.3" stroke="none" stroke-width="0" fill="#8088BC" stroke-linejoin="round" stroke-linecap="round" opacity="0.75"/>
<path d="M569.9 408.3L570.4 409.3L571.2 410.5L572.1 412.1L573.0 413.8L574.0 415.8L574.9 417.9L575.7 420.3L576.5 423.0L577.3 426.0L578.2 429.0L579.0 431.8L579.8 434.4L580.7 436.7L581.5 438.9L582.4 441.0L583.2 442.9L584.0 444.5L584.8 445.9L585.4 447.0L586.0 447.9L586.5 448.5L587.0 448.9L587.5 449.2L588.1 449.2L588.6 449.2L589.2 448.9L589.8 448.5L590.3 447.9L590.9 447.0L591.4 445.9L591.8 444.5L592.2 442.9L592.7 441.0L593.0 438.9L593.4 436.7L593.8 434.4L594.3 431.9L594.7 429.2L595.1 426.4L595.5 423.5L595.9 420.6L596.3 417.9L596.7 415.1L597.1 412.2L597.6 409.4L598.0 406.7L598.4 404.3L598.8 402.2L599.2 400.4L599.6 398.9L600.0 397.7L600.4 396.7L600.9 396.0L601.3 395.6L601.7 395.5L602.1 395.8L602.5 396.3L602.9 397.1L603.3 397.9L603.7 398.9L604.2 400.0L604.8 401.4L605.3 402.9L605.9 404.4L606.4 405.9L607.0 407.1L607.7 408.3L608.3 409.3L608.9 410.3L609.6 411.2L610.3 412.1L611.2 412.9L612.1 413.7L613.1 414.5L614.2 415.2L615.4 415.9L616.6 416.5L617.8 417.0L619.1 417.5L620.4 417.9L621.8 418.2L623.2 418.4L624.6 418.6L626.0 418.7L627.4 418.7L628.8 418.7L630.2 418.5L631.5 418.4L632.9 418.1L634.3 417.9L635.6 417.6L637.0 417.2L638.3 416.8L639.7 416.3L641.1 415.9L642.5 415.4L644.1 414.9L645.8 414.3L647.5 413.7L649.2 413.1L650.9 412.6L652.4 412.1L653.9 411.7L655.4 411.4L656.8 411.1L658.1 410.8L659.4 410.6L660.7 410.4L662.0 410.3L663.3 410.2L664.5 410.2L665.6 410.1L666.6 410.1L667.3 410.1" stroke="#1C9C86" stroke-width="1.15" fill="none" stroke-linejoin="round" stroke-linecap="round"/>
<path d="M575.7 409.6L579.1 409.6L583.6 409.5L589.0 409.5L595.2 409.4L602.1 409.4L609.5 409.3L618.4 409.2L629.1 409.1L640.5 409.0L651.4 408.9L660.7 408.8L667.3 408.8" stroke="#3C4C7E" stroke-width="1.15" fill="none" stroke-linejoin="round" stroke-linecap="round"/>
<line x1="564.8" y1="380.8" x2="564.8" y2="480.3" stroke="#222" stroke-width="0.9"/>
<line x1="564.4" y1="479.9" x2="672.9" y2="479.9" stroke="#222" stroke-width="0.9"/>
<text x="565.4" y="375.2" font-size="7.4">SOD2</text>
<line x1="563.0" y1="383.5" x2="564.8" y2="383.5" stroke="#222" stroke-width="0.7"/>
<text x="562.0" y="385.7" font-size="6.2" text-anchor="end">5</text>
<line x1="563.0" y1="417.3" x2="564.8" y2="417.3" stroke="#222" stroke-width="0.7"/>
<text x="562.0" y="419.5" font-size="6.2" text-anchor="end">0</text>
<line x1="563.0" y1="451.1" x2="564.8" y2="451.1" stroke="#222" stroke-width="0.7"/>
<text x="562.0" y="453.3" font-size="6.2" text-anchor="end">-5</text>
<line x1="569.3" y1="479.9" x2="569.3" y2="481.7" stroke="#222" stroke-width="0.7"/>
<text x="569.3" y="487.5" font-size="6.2" text-anchor="middle">0.0</text>
<line x1="589.1" y1="479.9" x2="589.1" y2="481.7" stroke="#222" stroke-width="0.7"/>
<text x="589.1" y="487.5" font-size="6.2" text-anchor="middle">0.5</text>
<line x1="609.0" y1="479.9" x2="609.0" y2="481.7" stroke="#222" stroke-width="0.7"/>
<text x="609.0" y="487.5" font-size="6.2" text-anchor="middle">1.0</text>
<line x1="628.8" y1="479.9" x2="628.8" y2="481.7" stroke="#222" stroke-width="0.7"/>
<text x="628.8" y="487.5" font-size="6.2" text-anchor="middle">1.5</text>
<line x1="648.6" y1="479.9" x2="648.6" y2="481.7" stroke="#222" stroke-width="0.7"/>
<text x="648.6" y="487.5" font-size="6.2" text-anchor="middle">2.0</text>
<line x1="668.4" y1="479.9" x2="668.4" y2="481.7" stroke="#222" stroke-width="0.7"/>
<text x="668.4" y="487.5" font-size="6.2" text-anchor="middle">2.5</text>
<text x="619.4" y="496.6" font-size="7.2" text-anchor="middle">pseudotime</text>
<text transform="translate(552.9 431.0) rotate(-90)" font-size="7.2" text-anchor="middle">Relative expression</text>
<rect x="682.4" y="423.6" width="8.3" height="8.9" fill="#90D6C9"/>
<line x1="683.0" y1="427.8" x2="690.1" y2="427.8" stroke="#1C9C86" stroke-width="1.1"/>
<rect x="682.4" y="432.5" width="8.3" height="7.8" fill="#B4B9D6"/>
<line x1="683.0" y1="436.4" x2="690.1" y2="436.4" stroke="#3C4C7E" stroke-width="1.1"/>
<text x="693.6" y="429.4" font-size="4.9">HCC</text>
<text x="693.6" y="438.1" font-size="4.9">PC</text>
<text x="70.2" y="378.6" font-size="6.6" text-anchor="middle">CD83</text>
<line x1="28.5" y1="382.8" x2="28.5" y2="413.7" stroke="#222" stroke-width="0.9"/>
<line x1="26.9" y1="385.1" x2="28.5" y2="385.1" stroke="#222" stroke-width="0.6"/>
<text x="25.9" y="387.3" font-size="6.3" text-anchor="end">30</text>
<line x1="26.9" y1="392.2" x2="28.5" y2="392.2" stroke="#222" stroke-width="0.6"/>
<text x="25.9" y="394.4" font-size="6.3" text-anchor="end">10</text>
<line x1="26.9" y1="400.2" x2="28.5" y2="400.2" stroke="#222" stroke-width="0.6"/>
<text x="25.9" y="402.4" font-size="6.3" text-anchor="end">3</text>
<line x1="26.9" y1="407.6" x2="28.5" y2="407.6" stroke="#222" stroke-width="0.6"/>
<text x="25.9" y="409.8" font-size="6.3" text-anchor="end">1</text>
<path d="M55.1 412.4h0M42.3 412.4h0M60.0 412.4h0M50.1 412.4h0M32.9 412.4h0M35.1 412.4h0M33.8 412.4h0M47.9 412.4h0M40.8 412.4h0M39.1 412.4h0M44.4 412.4h0M33.8 412.4h0M57.6 412.4h0M55.6 412.4h0M47.6 412.4h0M44.3 412.4h0M40.4 412.4h0M48.8 412.4h0M41.5 412.4h0M59.5 412.4h0M58.9 412.4h0M52.4 412.4h0M55.2 412.4h0M33.8 412.4h0M35.1 412.4h0M41.5 412.4h0M35.2 412.4h0M43.7 412.4h0M59.8 412.4h0M55.5 412.4h0M59.0 412.4h0M37.9 412.4h0M37.9 412.4h0M32.3 412.4h0M39.4 412.4h0M33.2 412.4h0M46.7 412.4h0M40.2 412.4h0M50.9 412.4h0M47.6 412.4h0M48.7 412.4h0M40.2 412.4h0M52.6 412.4h0M51.3 412.4h0M52.0 412.4h0M45.1 412.4h0M44.9 412.4h0M39.8 412.4h0M32.7 412.4h0M44.9 412.4h0M49.2 412.4h0M36.9 412.4h0M56.2 412.4h0M56.7 412.4h0M56.0 412.4h0M54.9 412.4h0M45.6 412.4h0M36.6 412.4h0M39.4 412.4h0M52.7 412.4h0M59.7 412.4h0M34.8 412.4h0M31.8 412.4h0M41.7 412.4h0M41.6 412.4h0M48.7 412.4h0M34.8 412.4h0M55.7 412.4h0M41.3 412.4h0M57.6 412.4h0M41.0 412.4h0M40.3 412.4h0M36.6 412.4h0M59.2 412.4h0M48.5 412.4h0M55.2 412.4h0M33.4 412.4h0M47.1 412.4h0M52.6 412.4h0M59.7 412.4h0M58.4 412.4h0M34.6 412.4h0M42.3 412.4h0M60.2 412.4h0M46.9 412.4h0M47.6 407.6h0M41.9 407.6h0M48.1 407.6h0M58.3 407.6h0M58.7 407.6h0M56.7 407.6h0M38.9 407.6h0M55.1 407.6h0M32.1 407.6h0M43.5 407.6h0M58.6 407.6h0M38.9 407.6h0M42.1 407.6h0M48.2 407.6h0M38.4 407.6h0M51.9 407.6h0M50.3 407.6h0M34.3 407.6h0M57.9 407.6h0M33.6 407.6h0M51.5 407.6h0M41.6 407.6h0M35.7 407.6h0M33.8 407.6h0M60.1 407.6h0M54.5 407.6h0M44.7 407.6h0M54.3 407.6h0M59.3 407.6h0M58.1 407.6h0M46.8 407.6h0M39.5 407.6h0M46.4 407.6h0M59.7 407.6h0M52.5 407.6h0M50.7 407.6h0M55.7 407.6h0M43.3 407.6h0M47.6 407.6h0M55.9 407.6h0M37.3 407.6h0M56.2 407.6h0M32.3 407.6h0M47.0 407.6h0M48.0 407.6h0M35.8 407.6h0M58.0 407.6h0M44.2 407.6h0M36.9 407.6h0M43.4 407.6h0M52.0 402.9h0M35.4 402.9h0M38.9 402.9h0M54.7 402.9h0M56.2 402.9h0M56.8 402.9h0M36.6 402.9h0M31.7 402.9h0M53.2 402.9h0M48.7 402.9h0M42.0 402.9h0M32.1 402.9h0M43.9 402.9h0M38.4 402.9h0M48.4 402.9h0M59.6 402.9h0M37.6 402.9h0M33.7 402.9h0M51.5 402.9h0M34.7 402.9h0M38.0 402.9h0M44.2 402.9h0M36.9 393.4h0M34.6 396.5h0M35.3 398.2h0M45.1 395.3h0M36.9 393.3h0M57.2 397.3h0M51.3 391.0h0M41.5 384.6h0M45.2 395.7h0M50.7 398.4h0M32.4 402.1h0M37.4 391.4h0M53.9 401.1h0M45.9 396.5h0M49.0 385.4h0M42.8 388.6h0M57.9 399.6h0M35.6 399.9h0M57.9 402.1h0M33.5 401.3h0M52.4 398.8h0M35.1 402.1h0M46.4 397.5h0M35.0 402.1h0M53.6 394.7h0M53.7 402.1h0M53.1 400.2h0M41.4 384.5h0M35.3 393.0h0M46.5 389.9h0M52.9 400.7h0M55.9 397.5h0M33.0 398.5h0M37.5 399.5h0M35.8 395.7h0M36.5 398.8h0M33.3 396.4h0M48.1 394.8h0M42.1 391.4h0M54.3 402.1h0M35.3 400.1h0M39.0 396.3h0M43.4 392.0h0M52.7 400.4h0M55.0 391.8h0M47.6 391.9h0M32.1 400.7h0M33.8 389.2h0M37.3 399.4h0M42.5 388.4h0M50.9 402.1h0M39.5 395.8h0M56.0 393.0h0M36.4 397.9h0M56.9 391.4h0M53.7 396.7h0M58.7 402.1h0M47.0 402.1h0M47.0 395.8h0M59.3 393.0h0M44.2 393.0h0M45.6 390.1h0M52.3 402.1h0M39.1 393.0h0M44.4 397.0h0M40.4 394.2h0M33.6 396.9h0M32.1 402.1h0M41.7 392.5h0M42.1 384.7h0M48.1 395.9h0M55.3 402.1h0M59.0 402.1h0M42.3 388.9h0M42.1 391.7h0M37.6 384.8h0M54.0 398.9h0M57.0 402.1h0M35.9 399.8h0M48.0 386.3h0M58.0 396.7h0M56.2 397.8h0M56.5 402.1h0M48.3 396.9h0M35.6 393.9h0M55.4 402.0h0M33.6 397.5h0M57.5 402.1h0M59.3 396.0h0M44.6 393.1h0M59.8 402.1h0M34.3 391.6h0M34.1 391.6h0M52.1 402.1h0M47.0 389.9h0M55.3 391.8h0M33.1 398.9h0" stroke="#19B23F" stroke-width="2.05" stroke-linecap="round" fill="none"/>
<path d="M59.0 412.4h0M38.8 412.4h0M32.3 412.4h0M58.7 412.4h0M39.1 412.4h0M48.5 407.6h0M43.9 407.6h0M31.7 407.6h0M34.2 407.6h0M59.8 402.9h0M40.9 402.9h0M40.6 402.9h0M45.2 402.9h0M36.2 402.9h0M43.1 402.9h0M51.6 402.9h0M40.9 402.9h0M54.4 402.9h0M38.0 397.8h0M44.1 400.3h0M41.8 393.9h0M50.8 389.4h0M31.7 402.1h0M47.8 397.2h0M38.1 391.1h0M31.8 402.1h0M38.3 392.3h0M49.6 390.7h0M34.5 386.9h0M48.5 396.3h0M34.3 395.1h0M46.8 394.8h0M31.7 402.1h0M38.0 384.2h0M45.1 392.7h0M45.0 393.4h0M38.0 387.8h0M49.4 383.5h0M49.1 393.5h0M38.0 384.9h0M49.6 395.3h0M37.8 390.8h0M47.1 393.0h0M43.6 387.8h0M45.5 398.6h0M47.1 399.8h0M39.5 397.1h0M33.4 398.6h0M45.3 391.9h0M46.1 391.8h0M39.6 387.0h0M43.9 390.2h0M36.8 394.3h0M50.4 392.2h0M42.2 392.4h0M47.5 396.1h0M45.5 394.0h0M48.8 387.2h0M32.8 394.2h0M34.1 387.7h0M41.9 393.0h0M33.4 397.8h0M36.2 383.4h0M45.7 399.9h0M36.5 397.6h0M43.2 394.8h0M39.0 388.4h0M51.9 400.6h0M50.7 387.3h0M45.0 396.3h0M38.7 396.6h0M47.7 396.8h0M45.2 396.9h0M50.2 396.8h0M36.9 401.7h0M51.1 398.0h0M50.1 393.6h0M49.6 395.5h0M42.2 396.1h0M33.1 391.1h0M38.5 393.4h0M47.2 389.9h0M46.3 392.9h0M43.6 400.3h0M31.6 402.1h0M42.2 384.2h0M51.9 398.2h0" stroke="#F0736B" stroke-width="2.05" stroke-linecap="round" fill="none"/>
<path d="M59.3 401.2h0M48.7 395.7h0M56.4 402.1h0M38.8 394.0h0M56.1 398.7h0M40.8 393.0h0M46.2 394.3h0M57.4 393.4h0M44.2 386.4h0M49.9 401.5h0M58.4 402.1h0M58.1 391.4h0M32.6 402.1h0M36.3 401.5h0M54.8 402.1h0M47.5 395.4h0M35.9 402.1h0M51.7 400.2h0M50.5 392.3h0M59.4 402.1h0M46.5 390.0h0M51.9 394.5h0M57.6 392.3h0M52.8 400.7h0M45.6 396.7h0M39.0 390.0h0M45.9 398.3h0M56.1 402.1h0M56.4 394.4h0M33.8 392.4h0M53.3 399.5h0M54.7 398.8h0M60.0 401.0h0M56.0 402.1h0M58.3 402.1h0M53.2 396.7h0M32.7 392.4h0M50.7 401.9h0M35.8 400.1h0M54.8 395.7h0M34.1 400.3h0M59.1 402.1h0M49.3 394.6h0M48.0 389.1h0M40.3 387.9h0M45.8 383.6h0M32.8 395.9h0M52.6 396.4h0M59.9 396.9h0M43.2 389.9h0M58.8 402.1h0M48.8 402.1h0M54.5 396.1h0M32.5 402.1h0M47.4 393.3h0M34.8 401.5h0M56.8 392.6h0M36.9 390.0h0M38.0 394.8h0M55.9 402.1h0M44.3 390.9h0M40.4 395.4h0M33.4 402.1h0M53.5 397.7h0M36.2 394.6h0M37.3 395.7h0M57.8 397.4h0M48.0 385.0h0M40.2 383.6h0M45.2 384.7h0M52.6 399.0h0M45.8 389.0h0M55.5 395.5h0M59.0 399.6h0M37.8 399.9h0M55.2 402.1h0M58.8 399.2h0M51.9 400.6h0M51.3 400.5h0M54.3 389.6h0M40.5 390.2h0M34.7 398.7h0M42.9 392.7h0M41.9 400.3h0M38.7 397.8h0M56.7 402.1h0M33.9 402.1h0M45.2 387.6h0M45.7 393.8h0M52.2 399.1h0M51.3 393.4h0M45.6 396.4h0M49.6 390.7h0M54.7 399.4h0M41.3 390.8h0M41.0 396.6h0M35.8 396.1h0M53.0 398.0h0M59.4 402.1h0M34.4 393.3h0M36.0 384.1h0M37.2 402.1h0M46.4 401.5h0M42.9 389.8h0M52.9 390.9h0M34.8 391.2h0M35.4 394.7h0M52.4 388.3h0M53.8 397.4h0M58.4 402.1h0M47.6 391.7h0M46.6 395.3h0M33.7 402.1h0M48.9 402.1h0M59.8 402.1h0M36.6 396.3h0M58.7 400.9h0M98.8 412.4h0M94.6 412.4h0M103.9 412.4h0M97.1 412.4h0M97.4 412.4h0M92.3 412.4h0M92.1 404.1h0M93.9 404.1h0M93.9 407.6h0M98.8 407.6h0" stroke="#19B23F" stroke-width="2.05" stroke-linecap="round" fill="none"/>
<path d="M45.9 388.9h0M45.9 384.5h0M50.4 387.5h0M49.6 389.2h0" stroke="#5B95F0" stroke-width="2.05" stroke-linecap="round" fill="none"/>
<path d="M33.0 402.1L33.5 401.6L34.1 400.8L34.8 399.9L35.6 398.9L36.4 398.0L37.1 397.2L37.8 396.5L38.6 395.9L39.3 395.3L40.0 394.7L40.7 394.3L41.3 393.9L41.8 393.6L42.2 393.4L42.6 393.4L42.9 393.3L43.3 393.3L43.7 393.4L44.2 393.5L44.8 393.6L45.3 393.8L45.9 394.0L46.4 394.3L47.0 394.7L47.7 395.2L48.3 395.8L49.0 396.5L49.7 397.2L50.4 398.0L51.2 398.8L52.0 399.7L52.8 400.8L53.6 401.8L54.5 402.9L55.3 403.8L56.1 404.6L56.5 405.2L56.6 405.7L56.5 406.1L56.9 406.4L58.0 406.9L60.3 407.4L64.1 408.2L69.2 409.1L75.1 410.1L81.1 411.0L86.8 411.8L91.6 412.4L95.6 412.7L99.3 412.7L102.7 412.7L105.6 412.6L107.9 412.4L109.8 412.4" stroke="#111" stroke-width="1.05" fill="none" stroke-linejoin="round" stroke-linecap="round"/>
<text x="173.4" y="378.6" font-size="6.6" text-anchor="middle">CDKN1A</text>
<line x1="130.5" y1="382.8" x2="130.5" y2="413.7" stroke="#222" stroke-width="0.9"/>
<line x1="128.9" y1="388.6" x2="130.5" y2="388.6" stroke="#222" stroke-width="0.6"/>
<text x="127.9" y="390.8" font-size="6.3" text-anchor="end">10</text>
<line x1="128.9" y1="398.0" x2="130.5" y2="398.0" stroke="#222" stroke-width="0.6"/>
<text x="127.9" y="400.2" font-size="6.3" text-anchor="end">3</text>
<line x1="128.9" y1="406.6" x2="130.5" y2="406.6" stroke="#222" stroke-width="0.6"/>
<text x="127.9" y="408.8" font-size="6.3" text-anchor="end">1</text>
<path d="M140.2 412.4h0M160.9 412.4h0M151.1 412.4h0M148.0 412.4h0M151.1 412.4h0M140.2 412.4h0M160.0 412.4h0M146.3 412.4h0M163.2 412.4h0M158.4 412.4h0M145.6 412.4h0M157.6 412.4h0M147.8 412.4h0M145.7 412.4h0M137.0 412.4h0M142.1 412.4h0M152.8 412.4h0M155.0 412.4h0M138.6 412.4h0M162.5 412.4h0M162.6 412.4h0M156.4 412.4h0M160.4 412.4h0M146.3 412.4h0M159.5 412.4h0M143.4 412.4h0M152.9 412.4h0M142.7 412.4h0M145.3 412.4h0M158.7 412.4h0M151.6 412.4h0M158.9 412.4h0M139.0 412.4h0M157.7 412.4h0M145.5 412.4h0M156.0 412.4h0M147.6 412.4h0M150.0 412.4h0M141.5 412.4h0M161.1 412.4h0M155.8 412.4h0M141.2 412.4h0M142.6 412.4h0M145.2 412.4h0M146.3 412.4h0M163.9 412.4h0M161.6 412.4h0M148.0 412.4h0M159.5 412.4h0M155.4 412.4h0M139.3 412.4h0M154.2 412.4h0M153.1 412.4h0M157.4 412.4h0M151.9 412.4h0M138.1 412.4h0M155.9 412.4h0M146.2 412.4h0M153.4 412.4h0M153.6 412.4h0M162.7 412.4h0M148.5 412.4h0M143.8 412.4h0M146.5 412.4h0M141.0 412.4h0M158.6 412.4h0M158.3 412.4h0M145.0 412.4h0M153.1 412.4h0M145.4 412.4h0M164.2 412.4h0M138.5 412.4h0M155.4 412.4h0M145.3 412.4h0M141.6 412.4h0M152.4 412.4h0M157.9 412.4h0M143.0 412.4h0M158.9 412.4h0M157.8 412.4h0M148.0 412.4h0M141.2 412.4h0M148.7 412.4h0M148.0 412.4h0M160.2 412.4h0M159.1 406.6h0M136.7 406.6h0M140.3 406.6h0M148.8 406.6h0M155.9 406.6h0M163.9 406.6h0M144.7 406.6h0M149.3 406.6h0M163.0 406.6h0M160.3 406.6h0M141.7 406.6h0M137.4 406.6h0M162.8 406.6h0M163.1 406.6h0M136.1 406.6h0M161.3 406.6h0M139.0 406.6h0M153.7 406.6h0M141.1 406.6h0M136.7 406.6h0M137.7 406.6h0M143.2 406.6h0M141.6 406.6h0M162.7 406.6h0M150.1 406.6h0M164.6 406.6h0M162.4 406.6h0M145.9 406.6h0M143.8 406.6h0M145.8 406.6h0M151.4 406.6h0M156.3 406.6h0M137.7 406.6h0M156.2 406.6h0M150.6 406.6h0M142.8 406.6h0M137.7 406.6h0M146.2 406.6h0M140.3 406.6h0M152.2 406.6h0M144.3 406.6h0M149.4 406.6h0M136.3 406.6h0M139.2 406.6h0M148.9 406.6h0M145.7 406.6h0M146.2 406.6h0M155.2 406.6h0M157.6 406.6h0M151.7 406.6h0M137.8 401.2h0M147.1 401.2h0M157.9 401.2h0M155.1 401.2h0M141.8 401.2h0M141.0 401.2h0M143.9 401.2h0M140.4 401.2h0M149.2 401.2h0M137.8 401.2h0M156.2 401.2h0M154.6 401.2h0M156.6 401.2h0M163.3 401.2h0M150.0 401.2h0M139.7 401.2h0M164.0 401.2h0M154.6 401.2h0M154.8 401.2h0M140.3 401.2h0M150.9 401.2h0M138.9 401.2h0M143.7 398.7h0M149.9 397.4h0M158.8 385.9h0M148.4 399.0h0M164.2 398.2h0M142.3 389.0h0M136.9 394.8h0M145.1 396.4h0M136.4 396.0h0M157.5 400.4h0M162.9 400.4h0M159.4 400.4h0M142.5 400.4h0M145.2 396.4h0M147.9 392.9h0M147.0 383.7h0M149.2 395.8h0M137.3 388.6h0M146.5 387.3h0M136.6 392.6h0M140.3 384.0h0M157.2 400.4h0M156.0 400.4h0M147.2 386.9h0M152.9 399.8h0M143.5 398.3h0M146.7 385.8h0M156.8 386.5h0M158.7 400.0h0M140.4 395.6h0M140.6 393.7h0M161.6 400.4h0M155.9 385.2h0M160.6 396.5h0M148.8 386.8h0M140.5 394.2h0M163.9 399.1h0M137.2 397.7h0M145.3 386.8h0M160.2 398.4h0M138.2 397.8h0M147.2 389.7h0M143.0 388.5h0M158.7 400.4h0M162.9 400.4h0M157.8 398.2h0M150.3 395.0h0M157.7 388.3h0M137.5 395.3h0M162.9 400.4h0M138.2 392.5h0M155.3 400.4h0M147.7 397.1h0M158.5 391.9h0M141.6 393.0h0M144.7 398.3h0M137.8 392.9h0M158.5 400.4h0M139.0 389.0h0M147.5 400.0h0M161.1 400.4h0M145.0 390.1h0M164.3 398.9h0M152.1 398.4h0M161.8 400.4h0M156.7 387.2h0M154.1 391.9h0M162.6 399.5h0M144.0 396.2h0M153.9 398.2h0M151.1 395.7h0M152.6 398.3h0M150.3 392.2h0M157.0 400.3h0M160.9 400.4h0M138.1 400.4h0M157.5 400.4h0M138.9 387.0h0M154.8 400.4h0M142.6 396.6h0M156.5 384.7h0M155.6 400.4h0M138.9 400.4h0M145.7 398.8h0M159.5 400.4h0M163.2 399.1h0" stroke="#19B23F" stroke-width="2.05" stroke-linecap="round" fill="none"/>
<path d="M152.7 412.4h0M138.7 412.4h0M139.8 412.4h0M156.6 412.4h0M163.3 412.4h0M143.3 406.6h0M156.3 406.6h0M142.6 406.6h0M145.6 406.6h0M157.7 401.2h0M152.0 401.2h0M162.1 401.2h0M138.7 401.2h0M161.3 401.2h0M148.8 401.2h0M140.0 401.2h0M163.0 401.2h0M143.1 401.2h0M151.8 399.3h0M149.5 397.9h0M138.0 400.3h0M153.6 400.4h0M152.8 400.4h0M153.7 400.4h0M151.1 395.4h0M148.5 396.6h0M142.6 393.1h0M156.0 391.7h0M145.1 396.4h0M140.3 387.2h0M144.9 386.1h0M149.1 395.4h0M142.0 398.1h0M144.1 400.4h0M146.3 391.7h0M149.9 396.6h0M142.6 386.8h0M140.4 394.5h0M148.0 389.6h0M143.8 398.3h0M153.0 397.3h0M138.5 399.9h0M138.6 395.3h0M139.8 391.0h0M143.3 396.7h0M154.8 400.4h0M154.0 400.4h0M142.0 398.7h0M144.6 388.6h0M149.7 388.6h0M151.6 399.8h0M140.5 389.6h0M145.5 388.5h0M143.5 385.6h0M148.1 400.4h0M143.2 385.2h0M145.6 395.4h0M149.4 397.0h0M149.3 396.3h0M148.2 389.4h0M144.8 391.2h0M145.8 394.7h0M138.8 398.3h0M142.3 394.9h0M142.0 389.1h0M146.8 400.4h0M142.4 398.6h0M138.6 394.9h0M141.9 392.1h0M144.5 390.5h0M137.7 397.4h0M138.4 398.1h0M154.0 400.4h0M137.9 400.4h0M143.6 398.2h0M147.0 399.9h0M144.6 388.5h0M156.2 394.8h0M142.2 392.5h0M155.3 396.9h0M147.8 398.1h0M144.4 395.6h0M150.3 399.0h0M144.2 392.9h0M147.9 386.7h0M147.4 392.8h0M145.2 393.7h0M137.2 392.4h0M145.9 397.1h0M150.4 394.1h0M143.0 390.1h0M154.1 400.4h0M146.7 393.5h0M144.5 389.4h0M141.5 395.8h0M149.5 395.4h0M150.8 400.4h0M150.3 393.4h0M138.7 385.7h0M136.9 400.1h0M151.1 385.9h0M149.9 394.2h0M143.2 393.2h0M144.5 399.9h0M139.6 393.3h0M137.6 400.4h0M145.6 393.5h0M148.1 396.6h0" stroke="#F0736B" stroke-width="2.05" stroke-linecap="round" fill="none"/>
<path d="M150.7 394.4h0M164.1 396.3h0M150.8 388.4h0M146.4 385.4h0M151.9 391.9h0M147.4 397.6h0M153.2 398.7h0M156.1 388.9h0M153.0 400.4h0M150.5 400.4h0M157.0 389.8h0M156.6 388.4h0M150.5 399.8h0M151.1 400.4h0M160.8 399.1h0M164.3 397.0h0M148.1 390.4h0M151.0 400.4h0M149.9 398.3h0M144.7 397.9h0M158.7 400.4h0M139.5 400.4h0M157.8 395.5h0M140.3 396.5h0M154.3 387.9h0M154.3 395.5h0M146.3 397.0h0M141.7 391.2h0M155.3 400.4h0M159.4 400.4h0M158.1 400.4h0M157.7 400.4h0M156.2 400.4h0M141.8 397.7h0M144.7 391.2h0M157.0 400.4h0M155.2 396.0h0M164.5 395.8h0M160.2 400.4h0M162.9 400.4h0M159.7 400.4h0M142.7 398.8h0M154.8 400.4h0M148.4 395.7h0M137.4 400.4h0M149.5 391.0h0M154.0 400.4h0M148.3 396.6h0M164.5 400.4h0M162.8 400.4h0M141.0 388.0h0M160.3 400.4h0M140.8 396.6h0M156.9 400.4h0M139.2 395.7h0M139.1 389.9h0M158.7 388.4h0M153.9 400.4h0M146.6 389.6h0M161.8 400.4h0M149.4 400.4h0M150.8 385.6h0M139.8 396.0h0M141.5 389.9h0M156.9 400.4h0M146.4 397.3h0M154.8 400.4h0M157.6 400.4h0M148.2 393.4h0M142.0 385.2h0M145.2 394.9h0M164.2 400.4h0M163.6 400.4h0M136.8 392.5h0M140.9 396.7h0M141.3 393.1h0M154.3 400.4h0M143.6 395.7h0M137.6 400.4h0M155.1 397.4h0M163.4 390.7h0M160.3 395.7h0M147.7 391.3h0M153.2 400.4h0M152.2 390.7h0M164.5 394.8h0M154.5 400.1h0M150.0 400.4h0M157.0 400.4h0M160.4 400.4h0M153.6 400.4h0M145.7 390.8h0M145.1 398.2h0M150.9 388.5h0M162.1 396.2h0M164.3 400.4h0M145.1 386.7h0M158.1 400.4h0M147.9 389.0h0M145.4 398.9h0M162.4 400.4h0M161.3 391.8h0M155.0 399.5h0M157.5 400.4h0M140.7 397.8h0M136.7 391.4h0M142.7 389.7h0M164.5 398.6h0M152.2 400.4h0M138.3 400.3h0M137.2 390.2h0M151.3 393.4h0M205.1 412.4h0M197.2 412.4h0M206.9 412.4h0M200.8 412.4h0M201.4 412.4h0M202.4 412.4h0M198.1 399.6h0M196.3 406.6h0M198.1 406.6h0M197.0 406.6h0" stroke="#19B23F" stroke-width="2.05" stroke-linecap="round" fill="none"/>
<path d="M148.3 388.0h0M152.3 384.8h0M155.5 388.2h0M151.2 389.0h0" stroke="#5B95F0" stroke-width="2.05" stroke-linecap="round" fill="none"/>
<path d="M135.3 400.5L135.7 400.1L136.4 399.6L137.2 399.0L138.0 398.3L138.9 397.7L139.7 397.2L140.5 396.7L141.4 396.3L142.2 395.8L143.1 395.5L143.9 395.2L144.7 395.2L145.4 395.4L146.0 395.7L146.7 396.1L147.3 396.7L148.0 397.3L148.8 398.0L149.6 398.8L150.5 399.7L151.4 400.7L152.4 401.8L153.4 402.8L154.6 403.8L155.5 404.7L156.3 405.7L157.1 406.7L158.3 407.6L160.1 408.5L162.8 409.2L166.9 409.9L172.1 410.6L177.9 411.1L183.9 411.6L189.5 412.1L194.2 412.4L198.2 412.6L201.9 412.6L205.2 412.6L208.1 412.5L210.5 412.4L212.3 412.4" stroke="#111" stroke-width="1.05" fill="none" stroke-linejoin="round" stroke-linecap="round"/>
<text x="70.2" y="426.8" font-size="6.6" text-anchor="middle">DNAJA1</text>
<line x1="28.5" y1="431.0" x2="28.5" y2="461.9" stroke="#222" stroke-width="0.9"/>
<line x1="26.9" y1="434.7" x2="28.5" y2="434.7" stroke="#222" stroke-width="0.6"/>
<text x="25.9" y="436.9" font-size="6.3" text-anchor="end">30</text>
<line x1="26.9" y1="441.8" x2="28.5" y2="441.8" stroke="#222" stroke-width="0.6"/>
<text x="25.9" y="444.0" font-size="6.3" text-anchor="end">10</text>
<line x1="26.9" y1="449.5" x2="28.5" y2="449.5" stroke="#222" stroke-width="0.6"/>
<text x="25.9" y="451.7" font-size="6.3" text-anchor="end">3</text>
<line x1="26.9" y1="456.1" x2="28.5" y2="456.1" stroke="#222" stroke-width="0.6"/>
<text x="25.9" y="458.3" font-size="6.3" text-anchor="end">1</text>
<path d="M46.0 460.6h0M52.9 460.6h0M51.2 460.6h0M44.2 460.6h0M46.5 460.6h0M35.3 460.6h0M38.5 460.6h0M41.4 460.6h0M41.8 460.6h0M50.4 460.6h0M38.5 460.6h0M38.4 460.6h0M56.6 460.6h0M54.0 460.6h0M58.3 460.6h0M53.9 460.6h0M37.2 460.6h0M45.5 460.6h0M55.4 460.6h0M54.7 460.6h0M38.1 460.6h0M45.4 460.6h0M48.4 460.6h0M31.9 460.6h0M38.6 460.6h0M52.8 460.6h0M50.7 460.6h0M44.4 460.6h0M47.9 460.6h0M46.7 460.6h0M41.5 460.6h0M34.0 460.6h0M52.8 460.6h0M53.7 460.6h0M44.0 460.6h0M53.6 460.6h0M55.3 460.6h0M51.4 460.6h0M54.7 460.6h0M59.2 460.6h0M32.7 460.6h0M58.5 460.6h0M44.5 460.6h0M53.8 460.6h0M52.7 460.6h0M34.4 460.6h0M48.4 460.6h0M34.1 460.6h0M52.5 460.6h0M41.3 460.6h0M42.4 460.6h0M39.4 460.6h0M54.7 460.6h0M49.9 460.6h0M40.1 460.6h0M52.8 460.6h0M36.9 460.6h0M54.5 460.6h0M48.9 460.6h0M53.5 460.6h0M49.2 460.6h0M59.8 460.6h0M51.5 460.6h0M44.9 460.6h0M48.5 460.6h0M47.8 460.6h0M39.8 460.6h0M40.4 460.6h0M54.4 460.6h0M55.0 460.6h0M59.2 460.6h0M51.2 460.6h0M46.0 460.6h0M42.9 460.6h0M51.8 460.6h0M50.2 460.6h0M58.6 460.6h0M53.0 460.6h0M42.6 460.6h0M39.6 460.6h0M32.9 460.6h0M53.9 460.6h0M43.8 460.6h0M42.9 460.6h0M33.1 460.6h0M50.5 456.1h0M48.6 456.1h0M38.7 456.1h0M50.9 456.1h0M48.3 456.1h0M59.2 456.1h0M46.3 456.1h0M41.7 456.1h0M57.5 456.1h0M49.5 456.1h0M41.4 456.1h0M50.2 456.1h0M36.0 456.1h0M37.0 456.1h0M56.9 456.1h0M44.8 456.1h0M54.5 456.1h0M37.7 456.1h0M45.1 456.1h0M38.4 456.1h0M54.5 456.1h0M48.7 456.1h0M42.8 456.1h0M42.6 456.1h0M37.6 456.1h0M37.6 456.1h0M51.3 456.1h0M40.5 456.1h0M34.6 456.1h0M42.6 456.1h0M44.5 456.1h0M59.8 456.1h0M42.6 456.1h0M43.1 456.1h0M59.4 456.1h0M52.2 456.1h0M44.7 456.1h0M43.0 456.1h0M38.0 456.1h0M36.0 456.1h0M45.1 456.1h0M49.9 456.1h0M34.6 456.1h0M45.2 456.1h0M36.6 456.1h0M48.8 456.1h0M41.5 456.1h0M50.6 456.1h0M54.0 456.1h0M43.2 456.1h0M54.7 451.9h0M35.6 451.9h0M59.5 451.9h0M57.7 451.9h0M42.1 451.9h0M47.0 451.9h0M50.8 451.9h0M41.0 451.9h0M42.1 451.9h0M52.2 451.9h0M45.5 451.9h0M44.1 451.9h0M47.7 451.9h0M34.9 451.9h0M45.1 451.9h0M40.0 451.9h0M36.4 451.9h0M46.6 451.9h0M51.7 451.9h0M46.6 451.9h0M45.9 451.9h0M50.7 451.9h0M38.5 449.1h0M52.6 451.1h0M39.1 440.2h0M34.7 435.1h0M33.1 450.5h0M59.4 441.5h0M42.6 435.6h0M38.1 441.1h0M42.4 448.1h0M36.1 450.5h0M42.4 442.6h0M54.2 451.1h0M57.6 451.1h0M34.1 444.5h0M54.1 447.6h0M53.6 450.1h0M39.5 440.9h0M56.9 443.7h0M34.0 450.1h0M48.1 437.3h0M41.1 433.7h0M31.6 438.2h0M37.0 442.0h0M55.7 444.6h0M41.6 445.1h0M59.4 451.1h0M39.2 441.6h0M57.6 445.7h0M58.2 451.1h0M46.1 447.6h0M53.5 449.1h0M39.2 446.0h0M42.4 437.6h0M57.8 444.3h0M52.6 445.2h0M36.2 448.2h0M54.5 441.8h0M43.5 436.3h0M52.1 439.9h0M39.0 443.5h0M34.3 434.2h0M35.5 445.5h0M59.2 451.1h0M57.4 446.7h0M35.4 442.0h0M36.8 443.0h0M46.9 434.2h0M48.7 438.4h0M54.8 442.6h0M55.8 445.1h0M53.4 446.8h0M55.6 451.1h0M36.2 447.3h0M31.6 451.1h0M49.3 444.7h0M43.9 443.1h0M45.9 443.0h0M46.1 432.6h0M39.6 442.2h0M54.6 446.2h0M51.7 442.4h0M44.5 442.8h0M53.5 450.9h0M52.7 434.4h0M51.9 449.1h0M41.1 439.9h0M34.8 444.5h0M49.7 432.7h0M51.7 444.0h0M57.0 447.0h0M32.3 449.3h0M37.6 445.9h0M53.2 447.1h0M43.5 441.7h0M59.9 444.2h0M57.6 448.3h0M46.2 443.8h0M36.8 446.9h0M55.8 450.1h0M48.1 436.5h0M50.4 437.6h0M57.0 447.9h0M49.7 435.4h0M59.5 439.1h0M38.4 435.2h0M37.2 444.3h0M39.5 432.9h0M39.0 438.2h0M32.4 445.6h0M52.9 445.6h0M42.5 443.7h0M33.0 451.1h0" stroke="#19B23F" stroke-width="2.05" stroke-linecap="round" fill="none"/>
<path d="M45.8 460.6h0M57.3 460.6h0M39.5 460.6h0M52.9 460.6h0M53.3 460.6h0M42.5 456.1h0M33.9 456.1h0M37.7 456.1h0M49.4 456.1h0M43.7 451.9h0M59.7 451.9h0M37.7 451.9h0M31.8 451.9h0M47.9 451.9h0M51.5 451.9h0M42.5 451.9h0M43.0 451.9h0M41.4 451.9h0M47.7 436.2h0M41.0 444.6h0M32.4 451.1h0M32.8 437.7h0M44.4 435.8h0M44.0 443.8h0M51.1 440.3h0M48.9 449.3h0M42.9 436.3h0M33.7 449.5h0M31.8 436.9h0M35.3 433.2h0M31.9 451.1h0M41.1 445.5h0M50.3 438.2h0M38.8 439.9h0M32.3 451.1h0M33.7 435.5h0M49.9 449.4h0M37.7 431.8h0M43.0 436.5h0M46.8 440.9h0M48.5 437.4h0M51.6 443.8h0M52.0 432.3h0M44.6 441.2h0M49.6 450.3h0M48.0 443.3h0M47.9 436.1h0M46.3 436.8h0M49.9 444.5h0M35.2 437.1h0M44.1 441.7h0M33.6 451.1h0M32.1 451.1h0M38.7 442.4h0M36.8 450.5h0M38.4 446.1h0M38.0 442.0h0M39.2 446.6h0M33.1 451.1h0M42.1 440.4h0M38.0 449.8h0M31.8 451.1h0M48.5 438.5h0M50.8 450.3h0M33.5 450.1h0M44.2 434.6h0M37.4 451.1h0M50.3 434.9h0M45.9 431.5h0M43.8 438.7h0M35.8 433.9h0M39.2 443.7h0M39.8 443.9h0M44.7 439.5h0M37.9 441.8h0M34.9 444.8h0M48.0 436.9h0M46.6 437.9h0M35.2 439.4h0M41.3 435.7h0M36.5 439.4h0M42.6 440.4h0M49.7 440.6h0M46.6 442.9h0M38.1 441.3h0M51.9 434.6h0M48.8 437.8h0M40.8 444.1h0M51.0 444.8h0M36.2 438.7h0M51.4 444.3h0M41.8 436.5h0M46.7 442.9h0M42.4 433.4h0M47.1 434.0h0M40.0 451.1h0M34.7 449.7h0M48.0 441.5h0M40.5 439.8h0M42.9 433.0h0M49.2 435.4h0" stroke="#F0736B" stroke-width="2.05" stroke-linecap="round" fill="none"/>
<path d="M39.2 437.2h0M55.3 445.6h0M46.6 440.0h0M53.4 448.1h0M33.6 436.9h0M37.1 441.7h0M38.9 437.3h0M37.7 445.3h0M48.8 442.3h0M50.2 445.4h0M42.8 440.8h0M37.9 442.6h0M56.1 449.6h0M45.9 443.2h0M47.9 447.9h0M55.6 445.9h0M34.3 442.8h0M60.1 451.1h0M39.0 438.6h0M53.8 444.0h0M38.8 443.5h0M38.7 440.1h0M35.5 441.5h0M57.7 447.6h0M40.3 437.5h0M42.9 435.9h0M58.9 451.1h0M36.5 442.2h0M33.1 448.0h0M32.2 451.1h0M35.3 443.2h0M40.8 435.7h0M47.1 445.6h0M50.5 446.8h0M43.1 439.3h0M34.5 435.6h0M53.9 447.2h0M55.7 450.4h0M59.0 451.0h0M59.3 444.4h0M45.4 447.9h0M56.5 449.2h0M44.3 445.6h0M42.1 442.8h0M48.3 440.3h0M47.3 437.5h0M57.8 440.5h0M45.9 438.8h0M53.4 440.7h0M36.9 439.1h0M51.2 445.5h0M37.6 437.1h0M53.3 451.1h0M45.5 439.2h0M37.5 443.1h0M54.3 451.1h0M36.5 444.1h0M33.7 437.4h0M55.6 450.3h0M51.6 451.1h0M35.1 439.7h0M52.3 445.5h0M43.2 451.1h0M58.8 450.4h0M41.5 440.7h0M49.8 445.6h0M53.2 447.4h0M36.4 444.3h0M38.7 446.0h0M32.2 451.1h0M50.1 449.5h0M36.1 437.6h0M44.7 441.3h0M40.9 441.1h0M59.4 442.7h0M56.9 443.9h0M54.3 445.1h0M56.0 442.1h0M40.8 444.0h0M34.9 442.2h0M53.2 451.1h0M40.8 445.9h0M39.1 447.2h0M50.7 438.0h0M41.1 439.1h0M50.8 444.3h0M59.9 450.5h0M57.0 445.2h0M50.7 441.9h0M39.7 432.9h0M54.7 444.9h0M49.9 434.1h0M36.9 448.9h0M42.5 436.4h0M41.6 434.8h0M32.4 451.1h0M57.8 451.1h0M47.9 446.3h0M49.2 438.9h0M52.6 443.8h0M50.2 437.7h0M49.6 444.9h0M45.6 440.2h0M38.8 447.4h0M44.1 438.2h0M41.1 446.1h0M31.8 451.1h0M37.4 437.9h0M36.9 451.1h0M38.8 433.4h0M55.7 438.7h0M55.7 448.1h0M35.1 445.5h0M96.8 460.6h0M102.5 460.6h0M101.0 460.6h0M95.3 460.6h0M94.2 460.6h0M101.3 460.6h0M103.3 460.6h0M93.7 452.6h0M94.9 452.6h0M93.9 449.1h0M92.8 449.1h0M91.9 456.1h0" stroke="#19B23F" stroke-width="2.05" stroke-linecap="round" fill="none"/>
<path d="M44.5 437.3h0M48.9 434.0h0M50.4 435.8h0M48.1 437.9h0" stroke="#5B95F0" stroke-width="2.05" stroke-linecap="round" fill="none"/>
<path d="M33.0 448.4L33.5 447.7L34.3 446.7L35.2 445.6L36.1 444.5L37.1 443.4L38.0 442.6L38.8 441.9L39.7 441.3L40.6 440.8L41.5 440.4L42.4 440.2L43.2 440.1L44.0 440.2L44.8 440.4L45.5 440.8L46.2 441.3L47.0 441.9L47.9 442.6L48.9 443.4L50.0 444.3L51.1 445.4L52.3 446.4L53.4 447.5L54.5 448.4L55.2 449.1L55.5 449.7L55.8 450.3L56.5 450.9L57.8 451.6L60.3 452.5L64.2 453.7L69.3 455.1L75.2 456.6L81.2 458.1L86.9 459.4L91.6 460.2L95.6 460.7L99.3 460.8L102.7 460.7L105.6 460.5L107.9 460.3L109.8 460.2" stroke="#111" stroke-width="1.05" fill="none" stroke-linejoin="round" stroke-linecap="round"/>
<text x="173.4" y="426.8" font-size="6.6" text-anchor="middle">G0S2</text>
<line x1="130.5" y1="431.0" x2="130.5" y2="461.9" stroke="#222" stroke-width="0.9"/>
<line x1="128.9" y1="435.7" x2="130.5" y2="435.7" stroke="#222" stroke-width="0.6"/>
<text x="127.9" y="437.9" font-size="6.3" text-anchor="end">100</text>
<line x1="128.9" y1="446.2" x2="130.5" y2="446.2" stroke="#222" stroke-width="0.6"/>
<text x="127.9" y="448.4" font-size="6.3" text-anchor="end">10</text>
<line x1="128.9" y1="456.9" x2="130.5" y2="456.9" stroke="#222" stroke-width="0.6"/>
<text x="127.9" y="459.1" font-size="6.3" text-anchor="end">1</text>
<path d="M140.3 460.6h0M158.0 460.6h0M151.7 460.6h0M145.2 460.6h0M139.6 460.6h0M152.6 460.6h0M160.8 460.6h0M141.0 460.6h0M161.7 460.6h0M164.2 460.6h0M141.5 460.6h0M151.8 460.6h0M149.9 460.6h0M145.6 460.6h0M139.4 460.6h0M143.6 460.6h0M162.9 460.6h0M160.0 460.6h0M163.2 460.6h0M150.3 460.6h0M150.3 460.6h0M137.8 460.6h0M148.2 460.6h0M152.6 460.6h0M164.4 460.6h0M137.8 460.6h0M154.8 460.6h0M137.3 460.6h0M163.8 460.6h0M141.8 460.6h0M155.8 460.6h0M154.1 460.6h0M141.9 460.6h0M149.2 460.6h0M148.1 460.6h0M141.1 460.6h0M147.3 460.6h0M137.8 460.6h0M156.2 460.6h0M163.8 460.6h0M151.5 460.6h0M147.4 460.6h0M150.7 460.6h0M140.1 460.6h0M157.1 460.6h0M155.8 460.6h0M139.0 460.6h0M146.8 460.6h0M139.5 460.6h0M156.0 460.6h0M136.4 460.6h0M160.9 460.6h0M137.9 460.6h0M159.9 460.6h0M141.5 460.6h0M151.1 460.6h0M156.3 460.6h0M162.8 460.6h0M161.0 460.6h0M140.4 460.6h0M156.5 460.6h0M148.3 460.6h0M140.8 460.6h0M149.2 460.6h0M162.8 460.6h0M136.6 460.6h0M156.0 460.6h0M151.5 460.6h0M161.2 460.6h0M149.6 460.6h0M143.1 460.6h0M160.3 460.6h0M139.1 460.6h0M155.7 460.6h0M144.4 460.6h0M137.5 460.6h0M140.8 460.6h0M160.3 460.6h0M140.5 460.6h0M162.3 460.6h0M140.2 460.6h0M162.5 460.6h0M137.5 460.6h0M154.8 460.6h0M151.3 460.6h0M159.1 456.9h0M143.2 456.9h0M164.5 456.9h0M156.6 456.9h0M149.5 456.9h0M142.2 456.9h0M161.1 456.9h0M152.0 456.9h0M164.3 456.9h0M161.3 456.9h0M157.4 456.9h0M156.6 456.9h0M140.8 456.9h0M159.7 456.9h0M156.4 456.9h0M138.8 456.9h0M138.0 456.9h0M138.9 456.9h0M142.3 456.9h0M157.8 456.9h0M157.9 456.9h0M155.9 456.9h0M146.5 456.9h0M162.8 456.9h0M140.3 456.9h0M142.5 456.9h0M148.6 456.9h0M143.5 456.9h0M157.0 456.9h0M159.9 456.9h0M157.3 456.9h0M145.2 456.9h0M152.6 456.9h0M145.0 456.9h0M151.7 456.9h0M151.2 456.9h0M140.4 456.9h0M160.2 456.9h0M159.2 456.9h0M158.2 456.9h0M138.6 456.9h0M142.7 456.9h0M157.4 456.9h0M159.1 456.9h0M153.7 456.9h0M162.7 456.9h0M148.2 456.9h0M142.5 456.9h0M149.6 456.9h0M144.6 456.9h0M153.0 453.7h0M136.6 453.7h0M150.6 453.7h0M160.8 453.7h0M154.5 453.7h0M160.3 453.7h0M154.3 453.7h0M164.4 453.7h0M137.1 453.7h0M148.2 453.7h0M141.6 453.7h0M157.6 453.7h0M144.4 453.7h0M155.0 453.7h0M154.7 453.7h0M136.5 453.7h0M153.6 453.7h0M145.4 453.7h0M143.2 453.7h0M154.5 453.7h0M154.1 453.7h0M142.1 453.7h0M151.1 445.3h0M163.6 452.9h0M159.1 447.9h0M151.3 448.7h0M159.4 445.6h0M162.6 445.9h0M155.3 444.3h0M140.0 443.0h0M157.5 452.5h0M143.7 446.3h0M157.3 450.6h0M139.6 450.3h0M159.3 447.5h0M144.5 437.6h0M140.6 435.2h0M158.0 432.4h0M144.4 437.8h0M150.4 442.7h0M156.6 435.1h0M163.7 441.3h0M155.4 433.0h0M159.3 452.9h0M164.3 452.9h0M151.7 446.0h0M155.5 440.0h0M137.8 435.2h0M142.8 440.5h0M140.4 443.1h0M140.0 452.5h0M142.5 436.5h0M161.4 442.6h0M140.3 448.5h0M152.7 445.2h0M162.1 452.9h0M147.0 445.9h0M138.0 442.4h0M151.6 445.2h0M153.9 441.8h0M148.0 432.4h0M163.8 443.7h0M163.9 452.1h0M142.5 438.1h0M159.0 452.9h0M149.9 434.4h0M137.0 451.6h0M149.3 440.1h0M139.9 449.3h0M156.9 446.3h0M154.5 442.0h0M154.4 447.3h0M140.6 449.2h0M139.8 438.5h0M160.0 452.4h0M153.3 444.8h0M142.8 450.9h0M154.8 437.1h0M159.6 438.5h0M159.3 444.0h0M151.5 450.4h0M161.7 444.6h0M144.6 449.8h0M140.7 434.4h0M140.1 435.0h0M143.8 434.1h0M160.2 452.9h0M155.2 448.7h0M137.3 438.5h0M161.7 452.9h0M161.5 450.4h0M158.3 439.9h0M136.4 443.0h0M158.5 452.9h0M143.4 451.8h0M157.7 434.7h0M152.6 440.8h0M145.6 444.8h0M139.1 431.7h0M155.7 451.5h0M155.1 443.9h0M151.0 441.9h0M137.9 452.9h0" stroke="#19B23F" stroke-width="2.05" stroke-linecap="round" fill="none"/>
<path d="M153.1 460.6h0M162.5 460.6h0M142.5 460.6h0M164.4 460.6h0M152.3 460.6h0M146.9 456.9h0M158.4 456.9h0M145.2 456.9h0M156.4 456.9h0M156.3 453.7h0M138.1 453.7h0M137.6 453.7h0M161.4 453.7h0M162.5 453.7h0M163.1 453.7h0M164.4 453.7h0M157.2 453.7h0M152.3 453.7h0M151.7 438.9h0M141.7 448.9h0M152.8 447.9h0M137.9 444.5h0M143.1 441.8h0M140.1 441.7h0M136.6 451.9h0M140.3 440.4h0M140.1 434.4h0M146.9 447.2h0M152.9 441.7h0M149.3 435.7h0M137.5 442.5h0M148.2 441.5h0M142.4 432.8h0M139.3 442.7h0M137.3 449.8h0M140.9 442.5h0M152.7 431.7h0M145.9 437.9h0M141.6 444.1h0M140.6 438.1h0M154.2 448.8h0M149.5 446.6h0M140.0 445.7h0M151.5 449.6h0M136.9 448.2h0M140.8 450.8h0M141.0 437.5h0M144.8 440.6h0M140.3 445.9h0M137.7 438.2h0M142.1 452.1h0M150.6 451.5h0M151.7 452.5h0M144.2 451.4h0M148.3 437.8h0M155.1 443.8h0M153.3 444.8h0M156.5 444.0h0M151.5 445.7h0M152.7 440.7h0M146.7 441.1h0M145.1 447.5h0M139.2 452.9h0M151.9 432.8h0M151.8 440.1h0M144.6 439.2h0M147.7 447.5h0M136.4 443.9h0M148.4 436.7h0M148.7 442.0h0M137.9 448.0h0M147.8 433.4h0M150.4 444.9h0M140.9 432.4h0M141.4 445.3h0M150.7 446.7h0M153.7 442.9h0M147.5 444.2h0M136.6 452.8h0M136.2 446.3h0M142.5 439.7h0M147.1 438.2h0M143.0 445.1h0M148.0 452.8h0M142.8 450.7h0M145.8 438.2h0M154.6 438.6h0M137.8 444.0h0M148.5 442.5h0M155.7 450.0h0M136.1 445.7h0M149.8 438.6h0M153.4 433.9h0M137.7 450.4h0M139.3 443.6h0M144.5 438.8h0M149.7 440.9h0M138.3 442.2h0M140.0 445.0h0M155.7 445.8h0M143.4 445.3h0M151.1 444.2h0M136.8 435.3h0M144.7 441.0h0M148.2 441.1h0M143.4 450.4h0" stroke="#F0736B" stroke-width="2.05" stroke-linecap="round" fill="none"/>
<path d="M164.2 452.9h0M159.2 439.1h0M163.0 451.4h0M160.3 452.9h0M137.0 440.4h0M156.6 452.7h0M144.6 440.8h0M136.7 446.4h0M141.8 445.0h0M143.8 444.8h0M154.7 439.2h0M141.7 442.0h0M157.6 446.4h0M141.5 437.3h0M141.4 442.2h0M146.8 445.6h0M136.7 444.2h0M144.6 435.8h0M150.0 442.0h0M136.5 452.9h0M146.9 446.7h0M153.1 438.7h0M140.4 442.7h0M138.4 444.6h0M164.6 444.4h0M157.9 452.9h0M149.2 447.9h0M163.7 441.9h0M137.0 434.8h0M140.4 448.5h0M143.2 431.9h0M140.0 440.0h0M140.2 450.9h0M142.3 450.2h0M153.6 444.7h0M148.2 446.1h0M157.7 438.1h0M138.4 443.3h0M163.4 452.9h0M149.4 432.2h0M159.2 444.3h0M153.0 448.3h0M158.1 448.1h0M141.7 445.7h0M153.0 443.2h0M139.4 437.3h0M161.8 452.9h0M147.7 444.7h0M142.2 440.5h0M158.6 452.9h0M149.5 446.4h0M153.0 452.9h0M149.2 442.3h0M156.0 434.6h0M156.0 447.3h0M157.9 452.3h0M151.0 452.6h0M160.6 452.9h0M142.1 447.0h0M142.4 441.4h0M161.2 452.9h0M154.1 447.2h0M159.1 451.6h0M163.9 452.9h0M136.1 452.9h0M158.0 443.6h0M144.1 445.8h0M146.9 441.6h0M164.4 452.9h0M160.5 452.9h0M149.3 443.1h0M163.0 452.7h0M162.4 447.2h0M160.9 450.3h0M156.9 443.5h0M158.7 448.1h0M155.9 447.4h0M138.5 441.5h0M138.5 448.4h0M138.6 443.8h0M151.3 444.0h0M157.4 452.9h0M148.8 441.4h0M141.4 435.7h0M153.1 440.9h0M162.6 445.9h0M138.6 443.8h0M156.3 449.3h0M157.8 444.7h0M143.2 438.2h0M156.6 449.8h0M139.6 448.9h0M150.2 436.0h0M151.4 444.4h0M140.5 438.2h0M162.0 444.7h0M144.0 447.2h0M148.0 451.4h0M157.2 452.9h0M136.4 442.5h0M156.4 449.5h0M139.3 435.1h0M148.5 443.0h0M150.2 441.0h0M161.4 452.9h0M160.4 452.9h0M150.1 433.5h0M159.0 452.9h0M151.1 442.7h0M160.2 438.7h0M149.6 446.8h0M142.8 445.9h0M156.8 448.7h0M159.2 452.9h0M156.3 444.7h0M144.1 446.0h0M204.5 460.6h0M206.8 460.6h0M196.8 460.6h0M196.4 449.9h0" stroke="#19B23F" stroke-width="2.05" stroke-linecap="round" fill="none"/>
<path d="M148.2 436.4h0M150.3 433.4h0M153.3 436.5h0M152.0 437.9h0" stroke="#5B95F0" stroke-width="2.05" stroke-linecap="round" fill="none"/>
<path d="M135.3 445.4L136.1 445.2L137.3 444.9L138.7 444.6L140.2 444.3L141.7 444.1L143.0 443.9L144.2 443.8L145.4 443.8L146.5 443.8L147.6 443.8L148.6 444.0L149.6 444.2L150.5 444.6L151.4 445.0L152.2 445.5L153.0 446.1L153.8 446.8L154.6 447.5L155.4 448.5L156.3 449.5L157.1 450.7L158.0 451.9L158.8 453.1L159.5 454.1L159.9 455.1L159.8 456.2L159.7 457.1L160.0 458.0L161.0 458.8L163.2 459.4L166.9 459.8L171.9 460.1L177.8 460.2L183.8 460.2L189.4 460.2L194.2 460.2L198.2 460.3L201.9 460.3L205.2 460.3L208.1 460.3L210.5 460.3L212.3 460.2" stroke="#111" stroke-width="1.05" fill="none" stroke-linejoin="round" stroke-linecap="round"/>
<text x="70.2" y="475.0" font-size="6.6" text-anchor="middle">HSPD1</text>
<line x1="28.5" y1="479.2" x2="28.5" y2="510.1" stroke="#222" stroke-width="0.9"/>
<line x1="26.9" y1="483.3" x2="28.5" y2="483.3" stroke="#222" stroke-width="0.6"/>
<text x="25.9" y="485.5" font-size="6.3" text-anchor="end">30</text>
<line x1="26.9" y1="490.3" x2="28.5" y2="490.3" stroke="#222" stroke-width="0.6"/>
<text x="25.9" y="492.5" font-size="6.3" text-anchor="end">10</text>
<line x1="26.9" y1="497.6" x2="28.5" y2="497.6" stroke="#222" stroke-width="0.6"/>
<text x="25.9" y="499.8" font-size="6.3" text-anchor="end">3</text>
<line x1="26.9" y1="504.5" x2="28.5" y2="504.5" stroke="#222" stroke-width="0.6"/>
<text x="25.9" y="506.7" font-size="6.3" text-anchor="end">1</text>
<path d="M40.5 508.8h0M54.9 508.8h0M58.3 508.8h0M55.0 508.8h0M33.4 508.8h0M43.6 508.8h0M46.8 508.8h0M42.5 508.8h0M36.9 508.8h0M48.4 508.8h0M35.0 508.8h0M36.4 508.8h0M43.6 508.8h0M60.1 508.8h0M42.6 508.8h0M59.2 508.8h0M50.8 508.8h0M50.1 508.8h0M57.7 508.8h0M48.3 508.8h0M52.7 508.8h0M45.1 508.8h0M54.3 508.8h0M56.6 508.8h0M31.6 508.8h0M58.3 508.8h0M32.5 508.8h0M49.9 508.8h0M33.7 508.8h0M53.2 508.8h0M44.0 508.8h0M35.5 508.8h0M55.7 508.8h0M38.7 508.8h0M57.4 508.8h0M42.6 508.8h0M47.6 508.8h0M44.3 508.8h0M53.4 508.8h0M41.7 508.8h0M46.3 508.8h0M38.2 508.8h0M41.2 508.8h0M34.8 508.8h0M39.1 508.8h0M39.5 508.8h0M51.3 508.8h0M35.8 508.8h0M36.0 508.8h0M59.4 508.8h0M49.9 508.8h0M34.1 508.8h0M56.3 508.8h0M53.3 508.8h0M49.0 508.8h0M59.1 508.8h0M46.9 508.8h0M35.6 508.8h0M31.9 508.8h0M34.2 508.8h0M44.9 508.8h0M47.4 508.8h0M55.4 508.8h0M33.6 508.8h0M33.6 508.8h0M34.3 508.8h0M42.0 508.8h0M58.4 508.8h0M53.9 508.8h0M32.9 508.8h0M48.5 508.8h0M36.8 508.8h0M38.0 508.8h0M40.8 508.8h0M38.7 508.8h0M40.1 508.8h0M38.0 508.8h0M41.4 508.8h0M48.5 508.8h0M47.7 508.8h0M52.4 508.8h0M39.6 508.8h0M32.4 508.8h0M47.9 508.8h0M40.5 508.8h0M32.9 504.5h0M47.1 504.5h0M51.6 504.5h0M56.3 504.5h0M53.3 504.5h0M33.0 504.5h0M59.8 504.5h0M32.1 504.5h0M53.6 504.5h0M45.1 504.5h0M58.1 504.5h0M58.7 504.5h0M53.0 504.5h0M34.0 504.5h0M50.1 504.5h0M35.0 504.5h0M43.7 504.5h0M35.3 504.5h0M40.2 504.5h0M33.1 504.5h0M47.0 504.5h0M34.2 504.5h0M38.6 504.5h0M53.8 504.5h0M40.0 504.5h0M48.2 504.5h0M56.3 504.5h0M49.8 504.5h0M55.0 504.5h0M58.3 504.5h0M38.6 504.5h0M36.9 504.5h0M60.0 504.5h0M57.8 504.5h0M40.8 504.5h0M58.1 504.5h0M34.1 504.5h0M38.1 504.5h0M56.3 504.5h0M34.6 504.5h0M56.2 504.5h0M38.0 504.5h0M53.6 504.5h0M35.2 504.5h0M45.9 504.5h0M48.0 504.5h0M47.6 504.5h0M56.3 504.5h0M32.6 504.5h0M51.9 504.5h0M43.9 500.2h0M39.1 500.2h0M53.7 500.2h0M53.4 500.2h0M55.2 500.2h0M45.7 500.2h0M32.0 500.2h0M32.3 500.2h0M47.4 500.2h0M32.6 500.2h0M49.4 500.2h0M35.4 500.2h0M53.8 500.2h0M32.2 500.2h0M51.3 500.2h0M38.0 500.2h0M60.2 500.2h0M45.2 500.2h0M46.4 500.2h0M55.9 500.2h0M39.7 500.2h0M59.4 500.2h0M59.9 496.8h0M43.4 479.7h0M45.1 484.9h0M52.9 492.8h0M43.3 486.3h0M55.7 491.1h0M49.6 498.2h0M31.8 490.9h0M59.4 498.4h0M48.0 488.5h0M44.2 485.8h0M53.3 490.9h0M54.4 486.2h0M55.2 497.3h0M34.9 486.4h0M52.7 489.6h0M54.8 494.2h0M37.8 498.8h0M36.6 485.7h0M42.2 490.4h0M59.1 499.3h0M53.6 492.5h0M39.4 488.2h0M48.0 487.4h0M55.7 492.8h0M47.2 484.6h0M52.3 487.0h0M50.7 489.9h0M53.0 488.6h0M36.6 485.2h0M55.1 493.5h0M42.8 497.7h0M41.0 489.8h0M49.2 490.6h0M60.2 499.4h0M32.4 487.2h0M54.6 491.4h0M58.3 499.4h0M33.5 496.5h0M43.5 489.9h0M48.3 489.9h0M47.2 483.4h0M43.3 488.3h0M53.3 495.4h0M42.0 492.2h0M49.8 493.5h0M54.7 486.9h0M42.5 484.5h0M44.1 485.3h0M46.7 479.7h0M48.2 497.0h0M42.1 479.7h0M57.1 488.1h0M41.9 489.8h0M42.8 496.2h0M43.1 484.2h0M53.3 489.3h0M38.2 492.4h0M31.7 481.9h0M50.9 492.1h0M42.2 480.8h0M56.1 498.6h0M52.8 496.7h0M59.8 499.4h0M38.2 479.7h0M41.1 497.2h0M52.6 496.5h0M57.9 491.0h0M34.2 491.2h0M56.9 492.5h0M54.3 495.6h0M57.2 496.5h0M51.7 490.3h0M51.9 488.2h0M38.7 484.3h0M47.9 495.1h0M46.7 490.5h0M41.3 487.1h0M46.1 480.2h0M48.3 486.2h0M48.2 485.7h0M38.4 481.2h0M45.3 481.9h0M48.1 496.4h0M47.5 487.6h0M31.7 489.9h0M52.8 495.1h0M50.1 496.7h0M47.5 487.5h0M41.7 483.3h0M38.6 499.1h0M46.0 495.3h0" stroke="#19B23F" stroke-width="2.05" stroke-linecap="round" fill="none"/>
<path d="M37.6 508.8h0M43.3 508.8h0M58.7 508.8h0M48.7 508.8h0M52.1 508.8h0M56.0 504.5h0M46.5 504.5h0M38.3 504.5h0M54.4 504.5h0M40.0 500.2h0M32.7 500.2h0M39.6 500.2h0M42.1 500.2h0M48.7 500.2h0M33.5 500.2h0M57.5 500.2h0M53.8 500.2h0M52.9 500.2h0M40.7 482.7h0M41.9 494.2h0M50.1 489.0h0M34.9 487.9h0M49.5 485.8h0M40.3 492.0h0M33.7 485.4h0M35.0 488.2h0M35.8 486.4h0M33.3 486.7h0M42.7 492.3h0M41.4 484.7h0M44.2 484.3h0M50.2 496.8h0M36.6 486.1h0M32.8 490.7h0M40.8 490.3h0M44.0 489.0h0M37.0 493.4h0M43.0 487.1h0M36.9 486.8h0M41.1 480.8h0M32.6 487.6h0M45.5 479.7h0M43.7 479.7h0M37.7 492.2h0M51.4 486.0h0M38.0 495.2h0M38.2 485.9h0M32.2 493.6h0M44.3 483.8h0M51.0 486.4h0M32.9 490.7h0M35.4 493.0h0M42.3 486.0h0M37.2 491.5h0M32.9 486.8h0M37.2 489.4h0M39.5 489.1h0M44.8 489.5h0M36.5 492.3h0M39.1 482.5h0M48.3 485.9h0M50.6 496.7h0M40.9 482.1h0M47.7 486.0h0M45.5 487.8h0M46.6 485.9h0M45.1 484.9h0M47.6 486.0h0M47.5 489.8h0M42.9 484.0h0M31.9 487.3h0M34.2 482.7h0M45.8 499.4h0M48.6 494.1h0M37.2 491.0h0M36.3 490.7h0M39.9 482.3h0M49.7 493.5h0M39.5 482.4h0M34.6 495.8h0M41.5 487.3h0M50.2 499.4h0M42.9 479.7h0M31.8 495.3h0M41.4 484.8h0M39.0 479.7h0M44.4 483.7h0M41.7 482.7h0M50.6 486.7h0M43.3 486.9h0M47.6 492.6h0M37.0 488.5h0M47.8 486.7h0M46.1 498.0h0M45.8 492.1h0M32.4 492.8h0M38.0 485.7h0M43.7 480.2h0M46.2 491.4h0M40.3 493.6h0M44.8 488.6h0" stroke="#F0736B" stroke-width="2.05" stroke-linecap="round" fill="none"/>
<path d="M39.3 486.0h0M36.6 481.8h0M41.6 485.0h0M55.1 493.9h0M58.9 494.4h0M51.3 491.3h0M53.9 485.0h0M42.5 479.7h0M43.4 484.0h0M57.8 499.4h0M36.0 487.8h0M39.4 488.6h0M33.5 484.8h0M45.9 479.7h0M39.4 482.1h0M44.4 482.4h0M38.5 483.3h0M39.4 486.6h0M44.0 491.8h0M35.8 491.7h0M49.5 484.7h0M34.2 495.9h0M55.7 491.4h0M50.3 480.9h0M47.3 494.2h0M33.9 489.5h0M57.7 493.4h0M43.3 487.3h0M37.8 486.9h0M48.7 487.8h0M57.6 497.3h0M34.6 497.9h0M55.2 489.8h0M47.6 485.3h0M42.8 485.5h0M51.0 499.1h0M40.4 486.5h0M42.8 485.0h0M46.4 495.9h0M42.1 498.7h0M39.5 479.7h0M45.0 481.2h0M59.0 498.6h0M45.1 494.1h0M47.9 488.6h0M40.6 485.4h0M53.7 482.7h0M58.2 488.8h0M53.7 489.4h0M51.0 490.1h0M45.9 486.9h0M50.6 494.3h0M32.3 489.3h0M35.4 479.7h0M55.4 498.2h0M48.5 479.7h0M38.9 492.5h0M54.7 498.1h0M33.1 486.9h0M32.7 499.4h0M39.7 485.9h0M54.9 496.4h0M45.2 497.0h0M52.9 491.6h0M38.6 484.8h0M51.9 484.6h0M43.4 498.7h0M43.3 493.5h0M55.7 495.6h0M53.3 482.9h0M49.6 498.5h0M37.7 490.9h0M37.6 486.4h0M45.0 487.9h0M40.0 482.9h0M36.0 485.9h0M38.2 497.1h0M40.4 480.1h0M37.8 493.3h0M55.8 487.1h0M44.2 491.8h0M58.1 493.6h0M38.8 490.3h0M40.8 489.1h0M44.7 480.5h0M52.6 491.2h0M57.0 495.7h0M37.8 485.4h0M48.9 495.8h0M34.6 484.9h0M37.5 482.0h0M35.9 480.3h0M55.8 495.4h0M50.2 497.5h0M40.9 495.5h0M47.8 485.4h0M38.3 485.8h0M42.1 487.1h0M35.6 495.8h0M53.5 485.0h0M33.8 493.9h0M48.6 495.5h0M36.3 489.2h0M32.7 489.0h0M49.4 491.5h0M31.8 491.0h0M53.4 495.7h0M59.3 496.1h0M48.0 495.7h0M40.3 485.6h0M35.3 479.7h0M35.9 485.3h0M51.3 497.0h0M91.6 508.8h0M103.0 508.8h0M97.3 508.8h0M99.4 508.8h0M104.4 508.8h0M96.2 508.8h0M103.9 508.8h0M92.7 501.0h0M96.0 497.5h0M93.3 504.5h0M92.7 504.5h0M101.3 504.5h0" stroke="#19B23F" stroke-width="2.05" stroke-linecap="round" fill="none"/>
<path d="M47.1 485.5h0M47.9 481.0h0M51.8 483.7h0M49.7 487.1h0" stroke="#5B95F0" stroke-width="2.05" stroke-linecap="round" fill="none"/>
<path d="M31.6 490.3L32.7 489.7L34.2 488.8L36.0 487.8L37.8 486.8L39.6 486.0L41.1 485.6L42.4 485.5L43.5 485.6L44.5 485.9L45.5 486.4L46.4 487.0L47.5 487.8L48.5 488.7L49.6 489.9L50.7 491.2L51.8 492.6L52.8 493.9L53.8 495.1L54.3 496.0L54.4 496.9L54.5 497.7L54.9 498.5L56.1 499.4L58.5 500.4L62.7 501.7L68.4 503.3L74.8 504.9L81.4 506.5L87.3 507.8L91.7 508.7L94.7 509.0L96.7 509.0L98.1 508.7L99.1 508.2L100.0 507.9L101.2 507.7L102.7 507.7L104.3 507.8L105.8 508.0L107.2 508.1L108.3 508.3L109.1 508.3" stroke="#111" stroke-width="1.05" fill="none" stroke-linejoin="round" stroke-linecap="round"/>
<text x="173.4" y="475.0" font-size="6.6" text-anchor="middle">HSPE1</text>
<line x1="130.5" y1="479.2" x2="130.5" y2="510.1" stroke="#222" stroke-width="0.9"/>
<line x1="128.9" y1="483.3" x2="130.5" y2="483.3" stroke="#222" stroke-width="0.6"/>
<text x="127.9" y="485.5" font-size="6.3" text-anchor="end">30</text>
<line x1="128.9" y1="490.3" x2="130.5" y2="490.3" stroke="#222" stroke-width="0.6"/>
<text x="127.9" y="492.5" font-size="6.3" text-anchor="end">10</text>
<line x1="128.9" y1="497.6" x2="130.5" y2="497.6" stroke="#222" stroke-width="0.6"/>
<text x="127.9" y="499.8" font-size="6.3" text-anchor="end">3</text>
<line x1="128.9" y1="504.5" x2="130.5" y2="504.5" stroke="#222" stroke-width="0.6"/>
<text x="127.9" y="506.7" font-size="6.3" text-anchor="end">1</text>
<path d="M151.3 508.8h0M162.4 508.8h0M164.1 508.8h0M163.5 508.8h0M153.6 508.8h0M148.0 508.8h0M137.3 508.8h0M156.9 508.8h0M147.1 508.8h0M147.7 508.8h0M139.0 508.8h0M160.2 508.8h0M151.2 508.8h0M144.2 508.8h0M147.0 508.8h0M160.4 508.8h0M140.0 508.8h0M136.9 508.8h0M137.9 508.8h0M161.4 508.8h0M145.1 508.8h0M145.1 508.8h0M141.2 508.8h0M159.0 508.8h0M151.2 508.8h0M151.2 508.8h0M163.4 508.8h0M162.7 508.8h0M158.7 508.8h0M159.4 508.8h0M161.2 508.8h0M136.8 508.8h0M146.0 508.8h0M147.9 508.8h0M136.4 508.8h0M158.8 508.8h0M155.5 508.8h0M158.9 508.8h0M145.3 508.8h0M136.6 508.8h0M160.8 508.8h0M161.6 508.8h0M156.1 508.8h0M151.9 508.8h0M145.2 508.8h0M164.5 508.8h0M158.4 508.8h0M147.3 508.8h0M147.3 508.8h0M146.5 508.8h0M138.0 508.8h0M157.8 508.8h0M148.6 508.8h0M145.8 508.8h0M143.4 508.8h0M138.2 508.8h0M142.8 508.8h0M143.4 508.8h0M155.4 508.8h0M152.4 508.8h0M154.2 508.8h0M146.5 508.8h0M153.4 508.8h0M159.9 508.8h0M155.7 508.8h0M138.7 508.8h0M141.4 508.8h0M153.7 508.8h0M163.6 508.8h0M159.7 508.8h0M144.6 508.8h0M139.5 508.8h0M162.8 508.8h0M158.1 508.8h0M143.9 508.8h0M149.6 508.8h0M138.5 508.8h0M159.3 508.8h0M145.0 508.8h0M147.0 508.8h0M142.5 508.8h0M138.4 508.8h0M157.1 508.8h0M150.5 508.8h0M146.5 508.8h0M142.5 504.5h0M145.0 504.5h0M148.1 504.5h0M140.1 504.5h0M154.2 504.5h0M161.2 504.5h0M143.6 504.5h0M138.4 504.5h0M151.7 504.5h0M142.6 504.5h0M153.9 504.5h0M137.8 504.5h0M151.3 504.5h0M163.6 504.5h0M162.0 504.5h0M150.7 504.5h0M143.0 504.5h0M154.2 504.5h0M151.1 504.5h0M142.7 504.5h0M138.7 504.5h0M158.1 504.5h0M146.7 504.5h0M143.5 504.5h0M142.0 504.5h0M146.7 504.5h0M138.6 504.5h0M158.5 504.5h0M152.3 504.5h0M155.5 504.5h0M162.1 504.5h0M143.3 504.5h0M159.7 504.5h0M142.0 504.5h0M144.2 504.5h0M144.8 504.5h0M161.0 504.5h0M151.2 504.5h0M151.9 504.5h0M162.1 504.5h0M145.9 504.5h0M152.6 504.5h0M146.3 504.5h0M140.5 504.5h0M162.8 504.5h0M164.1 504.5h0M161.3 504.5h0M159.4 504.5h0M161.1 504.5h0M160.0 504.5h0M144.3 500.2h0M142.1 500.2h0M137.0 500.2h0M157.5 500.2h0M144.8 500.2h0M163.8 500.2h0M140.2 500.2h0M154.9 500.2h0M161.3 500.2h0M162.3 500.2h0M144.5 500.2h0M145.1 500.2h0M161.3 500.2h0M140.7 500.2h0M154.5 500.2h0M156.5 500.2h0M147.4 500.2h0M148.4 500.2h0M157.2 500.2h0M156.0 500.2h0M142.2 500.2h0M149.6 500.2h0M142.2 494.2h0M160.4 499.4h0M163.6 492.9h0M162.5 496.6h0M154.5 485.0h0M160.6 489.9h0M155.3 482.9h0M163.2 496.0h0M156.6 488.2h0M145.6 495.0h0M162.1 495.1h0M156.8 493.5h0M143.2 482.7h0M159.0 487.3h0M145.6 481.8h0M139.9 480.8h0M145.8 484.9h0M144.1 487.4h0M159.6 497.6h0M164.0 499.0h0M161.2 498.9h0M148.7 485.7h0M151.8 483.8h0M162.6 489.6h0M137.7 487.0h0M155.7 499.4h0M146.4 481.5h0M141.0 498.6h0M143.4 497.9h0M159.6 496.5h0M137.4 482.4h0M151.5 479.7h0M159.2 487.3h0M157.2 497.9h0M154.3 493.9h0M146.8 481.9h0M162.6 497.1h0M161.8 488.0h0M163.3 496.7h0M157.6 491.5h0M137.9 485.0h0M162.3 496.3h0M148.0 481.0h0M137.2 497.6h0M161.8 495.8h0M143.5 480.7h0M136.8 488.2h0M136.6 487.7h0M161.6 493.1h0M147.3 479.7h0M163.0 494.3h0M145.2 484.0h0M161.2 497.3h0M149.2 488.2h0M153.8 480.7h0M142.7 483.4h0M140.5 492.8h0M153.7 484.5h0M162.4 499.4h0M155.8 486.9h0M150.6 491.2h0M161.5 499.4h0M147.6 481.5h0M155.0 487.8h0M164.4 495.0h0M160.9 494.5h0M144.5 487.1h0M140.0 486.0h0M159.9 493.4h0M163.9 498.8h0M154.2 496.7h0M137.3 492.2h0M163.7 489.1h0M163.1 495.1h0M157.5 495.9h0M164.2 491.6h0M164.5 497.1h0M149.8 488.1h0M157.6 493.9h0M161.6 496.7h0M142.4 484.2h0M164.1 492.4h0M147.6 479.7h0M150.6 493.2h0M141.4 487.6h0M148.2 488.5h0M159.1 493.7h0M136.9 484.4h0M136.9 482.4h0M143.1 487.5h0M160.5 499.4h0M149.2 483.7h0M140.2 483.7h0M143.6 483.6h0M159.8 499.4h0M163.5 483.3h0M156.7 492.9h0M139.3 483.8h0" stroke="#19B23F" stroke-width="2.05" stroke-linecap="round" fill="none"/>
<path d="M155.3 508.8h0M164.2 508.8h0M153.1 508.8h0M160.5 508.8h0M138.1 508.8h0M149.7 504.5h0M151.2 504.5h0M144.7 504.5h0M160.3 504.5h0M164.5 500.2h0M141.2 500.2h0M138.3 500.2h0M154.5 500.2h0M154.6 500.2h0M149.2 500.2h0M162.3 500.2h0M151.7 500.2h0M140.1 500.2h0M144.5 482.1h0M152.6 494.3h0M148.6 482.4h0M155.6 485.2h0M152.9 499.0h0M145.8 489.1h0M151.7 482.4h0M149.9 480.1h0M141.2 479.7h0M142.8 479.8h0M143.7 493.6h0M141.0 483.7h0M145.5 484.0h0M149.4 486.6h0M139.8 487.0h0M142.9 486.2h0M146.9 493.4h0M140.9 482.9h0M150.4 493.9h0M152.0 482.2h0M153.4 487.1h0M140.1 492.5h0M145.3 499.4h0M149.9 486.4h0M151.4 493.1h0M154.3 486.9h0M151.6 487.5h0M143.6 481.7h0M145.2 495.8h0M152.0 489.0h0M137.4 488.6h0M153.6 494.6h0M147.1 496.2h0M140.8 481.2h0M141.7 483.9h0M154.8 484.0h0M147.8 483.2h0M139.0 483.9h0M155.4 495.8h0M143.2 484.3h0M156.0 493.4h0M148.0 494.7h0M155.6 491.2h0M156.2 485.0h0M156.1 489.4h0M147.0 486.4h0M143.5 486.4h0M156.5 479.9h0M144.0 494.2h0M149.6 485.1h0M155.8 497.6h0M154.4 485.0h0M153.3 485.5h0M145.6 479.7h0M145.8 487.4h0M149.1 499.4h0M145.7 497.4h0M145.0 488.5h0M140.2 491.0h0M156.2 492.7h0M148.5 487.6h0M154.2 488.3h0M148.0 491.7h0M151.8 486.3h0M150.4 491.1h0M145.7 486.9h0M156.1 492.0h0M149.3 490.3h0M138.9 485.9h0M155.4 488.8h0M154.5 497.0h0M156.1 498.9h0M138.1 487.6h0M145.9 479.7h0" stroke="#F0736B" stroke-width="2.05" stroke-linecap="round" fill="none"/>
<path d="M163.8 493.0h0M148.0 481.3h0M137.8 482.1h0M136.3 479.7h0M159.0 490.3h0M145.8 487.9h0M161.5 493.5h0M142.8 493.2h0M148.9 479.7h0M140.3 496.9h0M144.0 481.8h0M150.4 481.8h0M162.3 488.2h0M161.4 488.9h0M151.9 490.0h0M139.7 484.3h0M151.1 492.4h0M162.3 499.4h0M158.4 495.6h0M146.8 486.6h0M140.6 489.8h0M160.2 499.4h0M162.1 493.0h0M140.9 489.1h0M162.3 494.2h0M138.4 497.7h0M144.9 484.9h0M147.4 482.1h0M142.0 483.3h0M151.6 481.0h0M158.8 495.5h0M155.5 485.8h0M145.5 480.4h0M163.0 496.4h0M140.5 486.0h0M138.8 485.1h0M162.7 495.0h0M161.3 491.5h0M137.3 499.4h0M160.1 494.3h0M160.2 498.4h0M155.4 486.6h0M143.9 485.8h0M141.6 488.1h0M150.2 489.9h0M136.6 485.8h0M161.3 490.8h0M151.0 496.5h0M146.1 481.7h0M150.7 482.4h0M145.8 490.9h0M163.9 495.7h0M149.0 489.3h0M144.8 484.6h0M150.7 491.3h0M163.5 499.4h0M151.4 490.1h0M154.6 495.6h0M154.2 483.9h0M156.7 489.8h0M160.5 487.3h0M136.6 487.3h0M137.3 491.7h0M142.4 488.5h0M160.8 491.2h0M142.8 483.3h0M149.5 488.0h0M136.9 492.3h0M151.7 482.9h0M136.9 488.3h0M140.6 484.8h0M161.3 499.4h0M148.2 494.1h0M147.4 491.5h0M154.4 484.9h0M162.8 491.5h0M162.6 492.7h0M156.5 489.7h0M138.1 484.0h0M140.8 499.4h0M149.9 487.1h0M145.9 480.2h0M156.7 493.0h0M159.2 498.4h0M154.3 490.0h0M157.1 495.9h0M159.9 490.0h0M148.0 491.3h0M159.1 488.3h0M151.9 485.5h0M146.2 491.4h0M152.9 481.9h0M158.0 480.3h0M139.7 493.5h0M161.9 499.1h0M160.4 489.6h0M161.3 499.4h0M164.5 492.9h0M164.4 499.4h0M160.4 497.2h0M149.5 486.2h0M142.2 480.7h0M149.1 481.3h0M161.2 496.6h0M157.6 493.6h0M147.7 484.8h0M162.4 492.1h0M162.1 491.6h0M163.6 486.8h0M142.8 485.9h0M141.3 491.2h0M144.7 485.5h0M159.8 490.2h0M144.0 483.6h0M201.0 508.8h0M197.9 508.8h0M208.7 508.8h0M208.1 508.8h0M208.4 508.8h0M195.7 508.8h0M207.7 508.8h0M206.0 508.8h0M200.3 504.5h0M199.7 504.5h0M199.7 504.5h0M196.7 504.5h0M198.4 504.5h0M208.8 501.0h0" stroke="#19B23F" stroke-width="2.05" stroke-linecap="round" fill="none"/>
<path d="M149.3 485.4h0M153.0 481.2h0M154.0 483.7h0M151.9 485.5h0" stroke="#5B95F0" stroke-width="2.05" stroke-linecap="round" fill="none"/>
<path d="M136.0 488.7L136.9 488.3L138.1 487.7L139.5 486.9L141.0 486.3L142.5 485.8L143.9 485.6L145.2 485.7L146.5 486.0L147.8 486.5L149.1 487.1L150.4 487.9L151.9 488.7L153.1 489.8L154.2 491.0L155.3 492.3L156.7 493.8L158.6 495.2L161.3 496.6L165.2 498.2L170.0 499.8L175.4 501.5L180.8 503.1L185.8 504.5L189.8 505.5L192.9 506.1L195.3 506.4L197.3 506.5L199.1 506.4L200.7 506.2L202.5 506.1L204.3 506.0L206.2 505.7L208.0 505.4L209.6 505.0L211.0 504.7L212.0 504.5" stroke="#111" stroke-width="1.05" fill="none" stroke-linejoin="round" stroke-linecap="round"/>
<text x="70.2" y="523.2" font-size="6.6" text-anchor="middle">IL1B</text>
<line x1="28.5" y1="527.4" x2="28.5" y2="558.3" stroke="#222" stroke-width="0.9"/>
<line x1="26.9" y1="529.9" x2="28.5" y2="529.9" stroke="#222" stroke-width="0.6"/>
<text x="25.9" y="532.1" font-size="6.3" text-anchor="end">100</text>
<line x1="26.9" y1="541.6" x2="28.5" y2="541.6" stroke="#222" stroke-width="0.6"/>
<text x="25.9" y="543.8" font-size="6.3" text-anchor="end">10</text>
<line x1="26.9" y1="553.0" x2="28.5" y2="553.0" stroke="#222" stroke-width="0.6"/>
<text x="25.9" y="555.2" font-size="6.3" text-anchor="end">1</text>
<path d="M37.1 557.0h0M33.9 557.0h0M34.2 557.0h0M39.7 557.0h0M47.4 557.0h0M33.6 557.0h0M47.7 557.0h0M45.9 557.0h0M40.3 557.0h0M33.8 557.0h0M43.1 557.0h0M55.9 557.0h0M52.7 557.0h0M51.9 557.0h0M40.2 557.0h0M36.5 557.0h0M53.6 557.0h0M34.0 557.0h0M44.8 557.0h0M41.9 557.0h0M37.1 557.0h0M33.0 557.0h0M40.2 557.0h0M48.0 557.0h0M45.9 557.0h0M54.9 557.0h0M49.9 557.0h0M59.1 557.0h0M38.0 557.0h0M40.3 557.0h0M41.7 557.0h0M35.7 557.0h0M39.6 557.0h0M45.9 557.0h0M42.7 557.0h0M39.9 557.0h0M53.8 557.0h0M52.4 557.0h0M58.0 557.0h0M47.1 557.0h0M48.2 557.0h0M48.7 557.0h0M58.0 557.0h0M41.0 557.0h0M56.0 557.0h0M46.1 557.0h0M53.6 557.0h0M54.0 557.0h0M39.9 557.0h0M48.6 557.0h0M44.5 557.0h0M36.3 557.0h0M42.5 557.0h0M58.9 557.0h0M41.3 557.0h0M35.3 557.0h0M51.2 557.0h0M45.1 557.0h0M49.0 557.0h0M35.2 557.0h0M46.6 557.0h0M44.4 557.0h0M48.0 557.0h0M45.2 557.0h0M47.4 557.0h0M59.9 557.0h0M34.9 557.0h0M33.1 557.0h0M41.6 557.0h0M35.0 557.0h0M32.6 557.0h0M53.0 557.0h0M55.5 557.0h0M31.8 557.0h0M36.9 557.0h0M37.6 557.0h0M42.5 557.0h0M59.9 557.0h0M33.8 557.0h0M42.7 557.0h0M46.7 557.0h0M37.4 557.0h0M41.2 557.0h0M51.7 557.0h0M51.1 557.0h0M50.6 553.0h0M54.4 553.0h0M51.7 553.0h0M48.8 553.0h0M43.3 553.0h0M33.0 553.0h0M44.4 553.0h0M34.8 553.0h0M40.0 553.0h0M53.5 553.0h0M48.4 553.0h0M57.1 553.0h0M56.2 553.0h0M52.2 553.0h0M58.4 553.0h0M36.0 553.0h0M52.8 553.0h0M49.7 553.0h0M47.3 553.0h0M35.1 553.0h0M45.9 553.0h0M57.5 553.0h0M52.0 553.0h0M58.2 553.0h0M53.9 553.0h0M33.5 553.0h0M43.0 553.0h0M55.8 553.0h0M52.2 553.0h0M45.6 553.0h0M44.6 553.0h0M42.8 553.0h0M42.1 553.0h0M41.7 553.0h0M45.1 553.0h0M48.5 553.0h0M36.0 553.0h0M36.4 553.0h0M49.6 553.0h0M48.0 553.0h0M45.6 553.0h0M46.5 553.0h0M41.7 553.0h0M60.1 553.0h0M40.1 553.0h0M46.8 553.0h0M40.1 553.0h0M48.8 553.0h0M40.3 553.0h0M43.7 553.0h0M53.7 549.6h0M33.0 549.6h0M40.8 549.6h0M38.5 549.6h0M44.8 549.6h0M57.5 549.6h0M58.2 549.6h0M52.3 549.6h0M58.3 549.6h0M45.9 549.6h0M49.3 549.6h0M35.5 549.6h0M52.3 549.6h0M39.2 549.6h0M47.4 549.6h0M38.2 549.6h0M46.2 549.6h0M42.9 549.6h0M56.7 549.6h0M46.6 549.6h0M53.5 549.6h0M39.0 549.6h0M58.1 548.8h0M56.6 546.8h0M44.3 530.4h0M53.4 541.0h0M58.1 544.6h0M35.7 548.3h0M32.7 547.6h0M53.4 543.5h0M50.1 544.9h0M53.9 546.3h0M50.4 542.2h0M41.7 537.2h0M37.7 544.2h0M34.7 541.3h0M35.1 541.0h0M42.3 547.3h0M54.7 548.8h0M55.1 547.5h0M56.0 548.8h0M34.0 544.2h0M51.9 548.1h0M51.9 547.2h0M51.9 547.8h0M36.7 545.9h0M35.8 545.4h0M55.4 545.5h0M47.4 531.8h0M55.1 548.8h0M49.1 534.7h0M55.0 544.7h0M57.8 548.8h0M55.1 545.1h0M59.5 546.1h0M56.3 545.2h0M58.2 548.2h0M51.2 545.8h0M31.7 548.8h0M44.3 537.3h0M41.4 529.2h0M48.9 538.4h0M42.7 527.9h0M39.1 537.7h0M39.6 548.3h0M52.4 546.1h0M50.0 542.3h0M39.2 541.2h0M55.0 547.4h0M49.3 548.5h0M54.9 543.0h0M38.3 538.3h0M34.9 542.7h0M45.3 545.5h0M50.6 547.8h0" stroke="#19B23F" stroke-width="2.05" stroke-linecap="round" fill="none"/>
<path d="M54.3 557.0h0M51.6 557.0h0M41.2 557.0h0M35.5 557.0h0M32.1 557.0h0M33.0 553.0h0M41.3 553.0h0M44.6 553.0h0M49.2 553.0h0M46.0 549.6h0M46.7 549.6h0M40.5 549.6h0M43.4 549.6h0M32.2 549.6h0M35.9 549.6h0M41.1 549.6h0M51.0 549.6h0M48.2 549.6h0M52.0 548.8h0M51.4 543.7h0M38.6 548.8h0M50.1 547.1h0M41.0 541.9h0M49.9 548.7h0M49.5 533.6h0M42.0 527.9h0M32.0 548.8h0M49.9 548.2h0M44.5 535.1h0M32.6 548.4h0M42.9 531.1h0M39.0 539.6h0M39.2 540.8h0M46.8 539.3h0M33.4 547.6h0M32.7 541.5h0M44.7 529.6h0M46.8 542.4h0M51.1 537.1h0M32.3 545.5h0M41.9 545.1h0M33.6 543.4h0M51.5 540.5h0M35.8 540.9h0M50.7 541.7h0M34.0 546.8h0M44.2 539.2h0M47.2 539.4h0M34.8 548.8h0M42.3 536.0h0M47.9 532.8h0M38.3 547.3h0M32.1 548.8h0M40.9 537.2h0M37.4 547.2h0M35.8 540.5h0M36.6 543.7h0M35.5 538.6h0M44.5 534.9h0M41.2 542.8h0M35.1 538.7h0M42.4 527.9h0M42.7 539.6h0M49.9 540.2h0M49.6 545.9h0M42.4 533.9h0M32.5 541.5h0M36.4 542.8h0M45.0 542.1h0" stroke="#F0736B" stroke-width="2.05" stroke-linecap="round" fill="none"/>
<path d="M59.3 544.4h0M56.5 548.8h0M49.1 533.5h0M31.8 547.3h0M58.8 548.8h0M46.9 540.7h0M45.6 545.3h0M32.5 543.5h0M53.7 543.9h0M55.6 548.8h0M40.5 535.5h0M58.2 548.8h0M45.6 538.0h0M42.6 537.6h0M57.0 548.8h0M42.4 540.7h0M59.6 548.8h0M32.3 548.8h0M45.0 528.9h0M41.5 545.5h0M55.3 543.9h0M56.0 548.8h0M40.9 541.9h0M45.4 534.6h0M37.2 541.4h0M32.5 547.7h0M52.5 544.9h0M58.9 546.8h0M51.7 548.8h0M37.9 536.5h0M32.8 544.2h0M52.4 539.5h0M48.5 534.2h0M39.0 541.6h0M49.1 537.7h0M39.0 535.1h0M46.3 540.4h0M43.3 536.2h0M36.4 542.7h0M55.3 543.2h0M34.6 547.5h0M59.7 544.8h0M57.7 548.8h0M38.1 547.4h0M35.5 547.1h0M56.2 546.9h0M58.6 546.5h0M39.8 537.1h0M40.0 543.3h0M59.5 548.8h0M54.2 543.1h0M35.1 548.8h0M45.3 534.7h0M31.7 548.8h0M36.8 538.1h0M54.7 546.6h0M35.4 539.1h0M39.6 538.8h0M48.1 545.8h0M37.8 536.6h0M55.1 548.8h0M59.2 546.3h0M42.8 527.9h0M32.3 545.8h0M59.8 544.5h0M58.7 544.4h0M33.6 542.4h0M46.3 545.9h0M53.4 548.8h0M54.1 541.9h0M56.6 548.8h0M38.7 535.9h0M49.5 542.0h0M50.7 545.6h0M33.0 545.7h0M31.8 546.9h0M38.1 535.7h0M47.6 534.7h0M43.6 535.0h0M57.3 546.7h0M40.1 542.8h0M54.9 545.3h0M38.6 542.3h0M35.9 538.0h0M56.7 548.8h0M40.5 531.0h0M56.6 548.8h0M35.5 546.0h0M49.5 534.8h0M51.1 540.6h0M53.8 546.3h0M57.4 548.8h0M47.2 547.7h0M38.2 535.5h0M43.6 538.9h0M58.0 548.8h0M53.8 548.3h0M54.3 541.2h0M93.0 557.0h0M103.2 557.0h0M92.0 557.0h0M97.4 557.0h0M103.3 557.0h0M95.0 546.0h0M106.2 549.5h0" stroke="#19B23F" stroke-width="2.05" stroke-linecap="round" fill="none"/>
<path d="M43.4 532.9h0M45.3 529.1h0M50.4 532.7h0M48.4 534.4h0" stroke="#5B95F0" stroke-width="2.05" stroke-linecap="round" fill="none"/>
<path d="M31.6 552.9L32.3 551.6L33.3 549.6L34.5 547.2L35.7 544.8L36.9 542.6L38.0 540.9L38.9 539.6L39.8 538.4L40.7 537.4L41.6 536.7L42.4 536.2L43.3 536.2L44.3 536.5L45.2 537.3L46.1 538.4L47.1 539.6L48.0 541.0L49.0 542.5L50.1 544.2L51.2 546.1L52.3 548.2L53.4 550.3L54.4 552.1L55.4 553.6L55.8 554.6L55.9 555.3L55.8 555.8L56.1 556.2L57.2 556.5L59.5 556.7L63.4 557.0L68.7 557.2L74.8 557.3L81.0 557.4L86.9 557.4L91.7 557.4L95.7 557.3L99.3 557.2L102.5 557.1L105.2 557.0L107.4 556.8L109.1 556.7" stroke="#111" stroke-width="1.05" fill="none" stroke-linejoin="round" stroke-linecap="round"/>
<text x="173.4" y="523.2" font-size="6.6" text-anchor="middle">KDM6B</text>
<line x1="130.5" y1="527.4" x2="130.5" y2="558.3" stroke="#222" stroke-width="0.9"/>
<line x1="128.9" y1="529.9" x2="130.5" y2="529.9" stroke="#222" stroke-width="0.6"/>
<text x="127.9" y="532.1" font-size="6.3" text-anchor="end">30</text>
<line x1="128.9" y1="536.8" x2="130.5" y2="536.8" stroke="#222" stroke-width="0.6"/>
<text x="127.9" y="539.0" font-size="6.3" text-anchor="end">10</text>
<line x1="128.9" y1="544.7" x2="130.5" y2="544.7" stroke="#222" stroke-width="0.6"/>
<text x="127.9" y="546.9" font-size="6.3" text-anchor="end">3</text>
<line x1="128.9" y1="552.0" x2="130.5" y2="552.0" stroke="#222" stroke-width="0.6"/>
<text x="127.9" y="554.2" font-size="6.3" text-anchor="end">1</text>
<path d="M139.7 557.0h0M160.8 557.0h0M155.3 557.0h0M141.4 557.0h0M138.6 557.0h0M164.4 557.0h0M160.3 557.0h0M154.7 557.0h0M153.9 557.0h0M143.9 557.0h0M139.0 557.0h0M147.9 557.0h0M154.6 557.0h0M151.9 557.0h0M161.9 557.0h0M152.4 557.0h0M136.7 557.0h0M159.9 557.0h0M150.7 557.0h0M156.7 557.0h0M154.9 557.0h0M139.7 557.0h0M155.4 557.0h0M157.4 557.0h0M150.6 557.0h0M148.7 557.0h0M148.1 557.0h0M140.2 557.0h0M141.5 557.0h0M158.2 557.0h0M148.5 557.0h0M141.3 557.0h0M157.0 557.0h0M149.7 557.0h0M157.6 557.0h0M152.1 557.0h0M145.8 557.0h0M137.2 557.0h0M142.1 557.0h0M151.9 557.0h0M147.3 557.0h0M151.8 557.0h0M142.9 557.0h0M150.1 557.0h0M136.1 557.0h0M137.7 557.0h0M145.4 557.0h0M140.3 557.0h0M149.0 557.0h0M149.7 557.0h0M142.8 557.0h0M144.3 557.0h0M136.8 557.0h0M164.2 557.0h0M139.2 557.0h0M138.8 557.0h0M136.8 557.0h0M145.6 557.0h0M149.3 557.0h0M161.8 557.0h0M152.5 557.0h0M158.9 557.0h0M164.0 557.0h0M158.0 557.0h0M145.8 557.0h0M156.7 557.0h0M150.6 557.0h0M162.0 557.0h0M137.7 557.0h0M152.9 557.0h0M149.2 557.0h0M144.7 557.0h0M164.5 557.0h0M161.5 557.0h0M137.1 557.0h0M149.7 557.0h0M140.7 557.0h0M155.6 557.0h0M143.9 557.0h0M138.5 557.0h0M158.2 557.0h0M142.1 557.0h0M161.7 557.0h0M149.8 557.0h0M146.4 557.0h0M149.1 552.0h0M136.8 552.0h0M142.9 552.0h0M138.8 552.0h0M149.2 552.0h0M153.8 552.0h0M146.1 552.0h0M141.0 552.0h0M156.4 552.0h0M161.4 552.0h0M153.3 552.0h0M152.7 552.0h0M140.5 552.0h0M154.7 552.0h0M137.9 552.0h0M147.4 552.0h0M139.9 552.0h0M144.2 552.0h0M161.6 552.0h0M164.6 552.0h0M146.6 552.0h0M157.9 552.0h0M144.7 552.0h0M162.9 552.0h0M159.7 552.0h0M140.5 552.0h0M157.3 552.0h0M137.9 552.0h0M148.7 552.0h0M139.9 552.0h0M152.0 552.0h0M154.4 552.0h0M151.4 552.0h0M149.9 552.0h0M163.2 552.0h0M139.3 552.0h0M159.1 552.0h0M151.3 552.0h0M146.7 552.0h0M139.1 552.0h0M140.6 552.0h0M139.5 552.0h0M151.8 552.0h0M151.3 552.0h0M140.1 552.0h0M155.6 552.0h0M142.1 552.0h0M143.3 552.0h0M164.3 552.0h0M157.8 552.0h0M148.5 547.4h0M164.2 547.4h0M158.8 547.4h0M155.1 547.4h0M140.2 547.4h0M136.4 547.4h0M146.7 547.4h0M156.0 547.4h0M163.8 547.4h0M160.7 547.4h0M163.3 547.4h0M140.3 547.4h0M158.1 547.4h0M156.1 547.4h0M162.8 547.4h0M138.7 547.4h0M141.9 547.4h0M153.9 547.4h0M144.7 547.4h0M158.1 547.4h0M138.0 547.4h0M148.8 547.4h0M152.9 546.6h0M153.5 546.6h0M162.4 542.2h0M136.9 543.3h0M153.3 546.6h0M153.8 545.3h0M146.5 539.7h0M144.6 545.6h0M136.9 546.6h0M150.4 536.4h0M141.4 536.3h0M137.8 543.7h0M163.6 542.5h0M136.1 546.6h0M143.8 538.6h0M139.0 546.6h0M145.9 546.6h0M136.5 544.1h0M148.2 542.8h0M144.3 543.8h0M158.6 546.6h0" stroke="#19B23F" stroke-width="2.05" stroke-linecap="round" fill="none"/>
<path d="M156.9 557.0h0M162.7 557.0h0M151.8 557.0h0M148.3 557.0h0M161.6 557.0h0M150.6 552.0h0M149.1 552.0h0M150.5 552.0h0M148.3 552.0h0M160.8 547.4h0M142.8 547.4h0M160.0 547.4h0M142.2 547.4h0M158.6 547.4h0M156.8 547.4h0M146.6 547.4h0M161.9 547.4h0M159.7 547.4h0M144.8 543.2h0M145.7 540.5h0M147.4 531.6h0M148.8 532.2h0M145.6 530.3h0M149.6 546.6h0M151.8 546.6h0M139.1 546.6h0M142.9 540.8h0M137.6 543.9h0M142.4 544.2h0M152.1 532.6h0M149.9 539.5h0M148.4 539.1h0M153.0 546.2h0M150.6 546.6h0M152.0 535.9h0M153.6 546.6h0M150.8 540.9h0M145.6 530.0h0M151.7 545.8h0M147.0 542.1h0M147.9 546.5h0M152.3 546.6h0M150.6 544.8h0M144.1 543.6h0M153.2 535.3h0M149.1 542.2h0M149.0 529.9h0M137.9 540.8h0M144.7 532.2h0M141.1 537.2h0M155.6 537.9h0M152.6 546.6h0M156.1 542.9h0M136.3 543.6h0M150.6 542.7h0M153.4 545.6h0M149.5 529.9h0M152.3 541.1h0M143.1 544.3h0M150.2 543.0h0M148.7 546.6h0M145.8 536.8h0M156.5 546.6h0M137.2 546.6h0M139.2 546.6h0M143.3 546.6h0M144.6 538.2h0" stroke="#F0736B" stroke-width="2.05" stroke-linecap="round" fill="none"/>
<path d="M155.6 546.6h0M137.9 546.6h0M161.9 546.6h0M159.8 546.5h0M163.1 546.6h0M159.1 546.6h0M158.2 546.6h0M161.1 546.6h0M159.7 546.6h0M155.9 546.6h0M156.9 546.6h0M157.8 546.6h0M148.8 544.0h0M149.7 538.3h0M154.8 546.6h0M162.0 546.6h0M147.1 528.6h0M142.6 546.6h0M144.4 534.8h0M148.8 543.6h0M156.8 538.4h0M156.6 545.0h0M159.7 546.6h0M138.2 546.6h0M136.9 543.8h0M158.6 542.7h0M164.5 544.0h0M140.8 545.0h0M144.8 546.6h0M151.2 533.5h0M164.2 545.2h0M155.2 542.4h0M157.4 546.6h0M137.4 543.5h0M136.9 546.6h0M160.3 546.6h0M148.2 540.0h0M162.9 546.6h0M158.9 544.8h0M144.0 539.3h0M160.8 546.6h0M149.7 542.3h0M144.4 544.4h0M157.7 544.3h0M159.9 541.0h0M147.3 544.0h0M138.1 540.0h0M149.4 546.5h0M147.3 538.0h0M152.3 531.7h0M159.7 546.6h0M141.9 535.1h0M140.0 541.5h0M156.9 540.1h0M148.4 545.3h0M139.5 546.6h0M140.7 544.6h0M163.3 546.6h0M163.2 544.8h0M164.4 546.6h0M154.6 546.6h0M156.6 546.6h0M149.0 543.8h0M156.6 539.1h0M138.6 546.6h0M142.2 546.6h0M146.8 537.8h0M136.7 545.7h0M159.0 546.6h0M140.5 546.6h0M138.8 546.6h0M151.2 546.6h0M160.1 543.7h0M137.6 540.7h0M148.2 537.3h0M150.8 540.8h0M146.9 544.2h0M149.6 536.4h0M145.6 536.6h0M146.4 528.5h0M157.7 545.8h0M159.5 546.6h0M164.1 545.1h0M141.3 546.6h0M141.6 536.6h0M202.2 557.0h0M205.2 557.0h0M207.8 557.0h0M196.9 548.5h0" stroke="#19B23F" stroke-width="2.05" stroke-linecap="round" fill="none"/>
<path d="M151.4 533.9h0M151.4 530.7h0M154.0 532.7h0M154.3 534.6h0" stroke="#5B95F0" stroke-width="2.05" stroke-linecap="round" fill="none"/>
<path d="M136.0 552.0L136.7 551.3L137.7 550.2L138.9 548.9L140.1 547.7L141.3 546.5L142.4 545.7L143.2 545.1L144.1 544.6L144.8 544.3L145.6 544.1L146.3 544.0L147.1 544.1L147.9 544.3L148.6 544.6L149.4 545.0L150.2 545.6L151.0 546.3L151.9 547.3L152.8 548.6L153.9 550.3L155.0 552.2L156.1 554.0L157.2 555.6L158.2 556.7L158.5 557.3L158.2 557.5L157.9 557.5L158.1 557.3L159.6 557.1L162.9 557.1L169.1 557.1L177.8 557.1L187.7 557.1L197.6 557.1L206.1 557.1L212.0 557.1" stroke="#111" stroke-width="1.05" fill="none" stroke-linejoin="round" stroke-linecap="round"/>
<text x="70.2" y="571.4" font-size="6.6" text-anchor="middle">NFKBIA</text>
<line x1="28.5" y1="575.6" x2="28.5" y2="606.5" stroke="#222" stroke-width="0.9"/>
<line x1="26.9" y1="578.3" x2="28.5" y2="578.3" stroke="#222" stroke-width="0.6"/>
<text x="25.9" y="580.5" font-size="6.3" text-anchor="end">100</text>
<line x1="26.9" y1="590.0" x2="28.5" y2="590.0" stroke="#222" stroke-width="0.6"/>
<text x="25.9" y="592.2" font-size="6.3" text-anchor="end">10</text>
<line x1="26.9" y1="601.0" x2="28.5" y2="601.0" stroke="#222" stroke-width="0.6"/>
<text x="25.9" y="603.2" font-size="6.3" text-anchor="end">1</text>
<path d="M47.4 605.2h0M49.8 605.2h0M55.3 605.2h0M47.6 605.2h0M47.4 605.2h0M53.6 605.2h0M38.0 605.2h0M45.0 605.2h0M46.0 605.2h0M54.7 605.2h0M35.4 605.2h0M31.7 605.2h0M38.4 605.2h0M56.2 605.2h0M34.0 605.2h0M59.6 605.2h0M49.8 605.2h0M37.8 605.2h0M46.8 605.2h0M36.8 605.2h0M59.9 605.2h0M41.4 605.2h0M37.8 605.2h0M50.2 605.2h0M34.2 605.2h0M44.5 605.2h0M37.4 605.2h0M50.1 605.2h0M32.5 605.2h0M55.2 605.2h0M47.6 605.2h0M32.4 605.2h0M59.5 605.2h0M58.7 605.2h0M37.8 605.2h0M54.3 605.2h0M53.6 605.2h0M44.7 605.2h0M41.5 605.2h0M45.8 605.2h0M50.1 605.2h0M43.0 605.2h0M32.1 605.2h0M46.6 605.2h0M52.6 605.2h0M46.5 605.2h0M33.2 605.2h0M34.3 605.2h0M59.8 605.2h0M52.0 605.2h0M38.7 605.2h0M45.6 605.2h0M35.2 605.2h0M52.9 605.2h0M35.0 605.2h0M32.1 605.2h0M38.4 605.2h0M38.5 605.2h0M59.4 605.2h0M48.3 605.2h0M47.4 605.2h0M44.9 605.2h0M35.4 605.2h0M54.6 605.2h0M58.6 605.2h0M50.1 605.2h0M44.8 605.2h0M36.0 605.2h0M51.7 605.2h0M57.3 605.2h0M53.6 605.2h0M36.7 605.2h0M33.3 605.2h0M53.7 605.2h0M47.1 605.2h0M56.7 605.2h0M54.6 605.2h0M41.8 605.2h0M49.9 605.2h0M55.1 605.2h0M51.9 605.2h0M59.3 605.2h0M48.3 605.2h0M58.4 605.2h0M47.2 605.2h0M45.4 601.0h0M33.2 601.0h0M58.8 601.0h0M44.2 601.0h0M32.1 601.0h0M38.0 601.0h0M37.2 601.0h0M32.3 601.0h0M34.9 601.0h0M37.1 601.0h0M36.7 601.0h0M44.0 601.0h0M52.0 601.0h0M55.3 601.0h0M45.0 601.0h0M52.2 601.0h0M46.4 601.0h0M44.3 601.0h0M44.6 601.0h0M60.1 601.0h0M33.7 601.0h0M40.6 601.0h0M45.0 601.0h0M35.0 601.0h0M49.2 601.0h0M39.1 601.0h0M50.8 601.0h0M31.8 601.0h0M55.8 601.0h0M54.6 601.0h0M57.1 601.0h0M42.0 601.0h0M52.5 601.0h0M38.7 601.0h0M50.8 601.0h0M57.1 601.0h0M43.8 601.0h0M57.4 601.0h0M37.4 601.0h0M50.6 601.0h0M46.7 601.0h0M45.8 601.0h0M37.0 601.0h0M55.7 601.0h0M47.6 601.0h0M42.1 601.0h0M47.9 601.0h0M59.2 601.0h0M49.4 601.0h0M50.9 601.0h0M36.7 597.7h0M54.7 597.7h0M59.5 597.7h0M32.2 597.7h0M39.8 597.7h0M40.2 597.7h0M34.1 597.7h0M50.3 597.7h0M58.8 597.7h0M48.7 597.7h0M34.7 597.7h0M55.4 597.7h0M46.3 597.7h0M51.0 597.7h0M37.7 597.7h0M46.4 597.7h0M58.2 597.7h0M39.9 597.7h0M32.9 597.7h0M51.9 597.7h0M34.3 597.7h0M51.8 597.7h0M58.5 596.9h0M39.4 592.7h0M57.8 593.9h0M53.7 594.4h0M40.7 589.2h0M58.4 592.2h0M36.6 583.5h0M55.9 594.1h0M59.1 596.1h0M32.6 587.1h0M34.3 593.0h0M55.8 594.5h0M44.1 580.3h0M34.3 588.8h0M59.7 595.5h0M35.3 587.8h0M42.7 581.6h0M58.0 592.1h0M42.4 583.6h0M46.0 586.9h0M33.5 590.0h0M47.9 593.6h0M40.6 586.6h0M57.9 594.9h0M45.1 584.0h0M32.8 594.1h0M52.6 590.6h0M40.4 596.9h0M56.0 590.2h0M44.6 583.9h0M47.6 588.7h0M52.2 588.4h0M58.9 596.9h0M50.4 584.8h0M34.9 589.1h0M34.2 582.5h0M48.7 585.5h0M41.3 595.2h0M55.7 593.6h0M54.2 591.6h0M37.7 589.9h0M43.3 592.1h0M42.1 588.4h0M46.2 587.7h0M40.2 588.7h0M58.1 582.2h0M50.5 584.1h0M41.0 581.7h0M36.2 586.1h0M39.7 584.1h0M42.3 596.9h0M42.0 592.8h0M60.1 592.7h0M57.4 595.5h0M49.8 583.1h0M53.6 591.0h0M37.1 590.3h0M40.4 591.5h0M55.9 596.9h0M53.3 589.7h0M51.4 590.6h0M51.1 589.0h0M52.0 589.1h0M57.7 595.7h0M44.9 591.1h0" stroke="#19B23F" stroke-width="2.05" stroke-linecap="round" fill="none"/>
<path d="M34.8 605.2h0M39.8 605.2h0M32.5 605.2h0M59.8 605.2h0M51.1 605.2h0M50.9 601.0h0M53.5 601.0h0M49.9 601.0h0M36.1 601.0h0M38.6 597.7h0M57.7 597.7h0M38.2 597.7h0M42.6 597.7h0M31.7 597.7h0M53.0 597.7h0M49.8 597.7h0M46.3 597.7h0M59.1 597.7h0M48.5 585.8h0M48.6 589.1h0M32.0 596.9h0M39.9 588.5h0M37.5 595.3h0M41.7 591.3h0M51.6 596.9h0M44.5 594.9h0M50.1 587.6h0M48.5 592.1h0M39.0 595.1h0M46.4 591.4h0M43.0 588.0h0M47.6 588.9h0M52.1 590.4h0M45.2 589.3h0M47.3 583.8h0M40.4 580.6h0M36.0 592.5h0M46.3 589.6h0M40.2 580.5h0M41.6 589.4h0M32.9 591.0h0M33.3 589.2h0M37.8 586.0h0M38.6 580.2h0M34.3 587.3h0M42.0 587.3h0M40.4 584.0h0M35.9 595.1h0M41.2 591.8h0M48.4 593.5h0M39.6 592.5h0M42.6 590.6h0M43.6 596.9h0M40.1 583.2h0M44.7 596.8h0M49.3 588.1h0M38.5 594.0h0M52.1 592.7h0M40.3 593.2h0M49.2 588.2h0M32.4 589.8h0M40.0 589.9h0M33.2 593.9h0M33.9 594.4h0M41.4 583.7h0M46.3 592.0h0M48.1 585.1h0M35.3 587.0h0M42.7 590.6h0M49.7 592.0h0M37.9 586.3h0M34.1 588.0h0M35.6 594.7h0M36.5 584.9h0M38.9 583.8h0M44.6 590.6h0M43.6 593.6h0M43.6 583.8h0M38.4 587.4h0M33.6 595.4h0M35.9 590.4h0M44.0 585.7h0M43.9 581.8h0M51.9 591.9h0M43.4 586.8h0M41.3 588.3h0M40.6 583.2h0M32.7 594.6h0" stroke="#F0736B" stroke-width="2.05" stroke-linecap="round" fill="none"/>
<path d="M59.6 591.7h0M58.8 593.9h0M40.2 588.7h0M52.6 588.0h0M42.5 591.6h0M51.0 591.4h0M37.5 589.8h0M52.4 590.6h0M33.6 587.2h0M38.0 594.8h0M34.4 590.2h0M44.3 584.5h0M50.2 590.4h0M56.1 591.3h0M51.5 586.8h0M59.3 596.9h0M45.0 583.4h0M38.8 594.3h0M42.0 589.1h0M35.2 591.9h0M38.5 586.6h0M35.1 593.7h0M44.0 585.8h0M44.4 591.9h0M38.8 585.5h0M44.9 585.1h0M36.6 593.3h0M45.0 577.9h0M47.5 588.4h0M34.0 590.6h0M32.8 596.2h0M39.7 584.3h0M57.5 594.4h0M55.9 596.9h0M34.9 589.4h0M47.8 585.1h0M33.0 591.3h0M40.4 593.4h0M59.5 588.0h0M52.5 590.9h0M54.4 596.9h0M42.5 583.0h0M48.0 584.0h0M59.8 591.3h0M57.8 595.5h0M46.0 584.1h0M56.1 596.9h0M53.9 596.9h0M59.3 589.8h0M57.9 596.9h0M36.2 596.5h0M51.2 596.9h0M53.7 588.3h0M57.2 596.6h0M36.2 591.9h0M45.5 583.0h0M34.0 589.6h0M44.0 587.5h0M43.2 583.2h0M33.5 590.7h0M37.7 596.6h0M33.1 593.2h0M51.6 582.0h0M56.8 590.4h0M59.7 589.8h0M45.1 591.7h0M39.1 593.9h0M53.6 592.2h0M34.1 596.9h0M35.6 593.6h0M56.4 596.9h0M31.6 592.0h0M39.7 587.5h0M37.8 590.2h0M36.9 587.1h0M55.4 593.7h0M46.8 588.2h0M43.2 584.9h0M39.6 588.2h0M52.7 589.7h0M37.0 590.7h0M52.2 595.3h0M38.3 594.0h0M58.8 596.9h0M50.0 596.9h0M36.4 591.4h0M34.4 587.1h0M50.2 590.3h0M49.7 585.8h0M59.4 593.4h0M39.0 591.1h0M41.7 585.9h0M44.5 595.7h0M47.8 588.0h0M51.1 591.0h0M44.5 586.5h0M60.2 596.0h0M42.4 589.1h0M48.3 585.2h0M36.7 584.2h0M60.0 595.8h0M43.7 588.4h0M35.0 582.5h0M103.1 605.2h0M101.2 605.2h0M104.3 605.2h0M104.4 605.2h0M95.9 605.2h0M91.5 594.0h0M92.5 601.0h0M92.4 601.0h0M104.5 601.0h0" stroke="#19B23F" stroke-width="2.05" stroke-linecap="round" fill="none"/>
<path d="M46.0 580.9h0M45.9 577.9h0M51.6 579.4h0M49.5 582.9h0" stroke="#5B95F0" stroke-width="2.05" stroke-linecap="round" fill="none"/>
<path d="M31.6 593.1L32.5 592.5L33.7 591.5L35.2 590.5L36.7 589.4L38.2 588.4L39.5 587.7L40.7 587.4L41.8 587.1L42.8 587.0L43.8 587.1L44.8 587.2L45.9 587.4L46.9 587.8L47.9 588.2L48.9 588.8L50.0 589.5L51.1 590.2L52.2 590.9L53.2 591.7L53.8 592.4L54.6 593.3L55.7 594.2L57.4 595.2L60.1 596.3L64.2 597.7L69.4 599.3L75.3 601.0L81.4 602.7L87.0 604.1L91.7 605.1L95.7 605.7L99.2 606.0L102.4 606.0L105.2 605.9L107.4 605.8L109.1 605.8" stroke="#111" stroke-width="1.05" fill="none" stroke-linejoin="round" stroke-linecap="round"/>
<text x="173.4" y="571.4" font-size="6.6" text-anchor="middle">SOD2</text>
<line x1="130.5" y1="575.6" x2="130.5" y2="606.5" stroke="#222" stroke-width="0.9"/>
<line x1="128.9" y1="580.5" x2="130.5" y2="580.5" stroke="#222" stroke-width="0.6"/>
<text x="127.9" y="582.7" font-size="6.3" text-anchor="end">30</text>
<line x1="128.9" y1="587.7" x2="130.5" y2="587.7" stroke="#222" stroke-width="0.6"/>
<text x="127.9" y="589.9" font-size="6.3" text-anchor="end">10</text>
<line x1="128.9" y1="594.7" x2="130.5" y2="594.7" stroke="#222" stroke-width="0.6"/>
<text x="127.9" y="596.9" font-size="6.3" text-anchor="end">3</text>
<line x1="128.9" y1="601.0" x2="130.5" y2="601.0" stroke="#222" stroke-width="0.6"/>
<text x="127.9" y="603.2" font-size="6.3" text-anchor="end">1</text>
<path d="M143.3 605.2h0M158.1 605.2h0M149.8 605.2h0M163.7 605.2h0M145.3 605.2h0M156.8 605.2h0M155.3 605.2h0M145.1 605.2h0M158.7 605.2h0M148.1 605.2h0M140.4 605.2h0M146.8 605.2h0M143.1 605.2h0M153.4 605.2h0M139.7 605.2h0M138.6 605.2h0M140.7 605.2h0M141.1 605.2h0M138.6 605.2h0M162.1 605.2h0M145.6 605.2h0M152.6 605.2h0M153.3 605.2h0M155.3 605.2h0M158.4 605.2h0M144.8 605.2h0M149.2 605.2h0M159.7 605.2h0M146.4 605.2h0M161.4 605.2h0M143.9 605.2h0M142.2 605.2h0M149.9 605.2h0M138.7 605.2h0M142.5 605.2h0M136.8 605.2h0M138.7 605.2h0M141.4 605.2h0M163.4 605.2h0M160.3 605.2h0M152.4 605.2h0M137.4 605.2h0M162.1 605.2h0M146.3 605.2h0M158.9 605.2h0M155.6 605.2h0M163.4 605.2h0M159.5 605.2h0M145.4 605.2h0M147.4 605.2h0M145.9 605.2h0M162.6 605.2h0M145.4 605.2h0M157.9 605.2h0M138.4 605.2h0M155.8 605.2h0M146.1 605.2h0M138.3 605.2h0M163.9 605.2h0M163.6 605.2h0M160.5 605.2h0M156.1 605.2h0M142.6 605.2h0M151.1 605.2h0M136.8 605.2h0M137.6 605.2h0M142.3 605.2h0M162.2 605.2h0M149.7 605.2h0M152.5 605.2h0M156.7 605.2h0M138.1 605.2h0M154.9 605.2h0M163.4 605.2h0M152.1 605.2h0M151.6 605.2h0M156.6 605.2h0M154.1 605.2h0M143.8 605.2h0M156.2 605.2h0M143.3 605.2h0M143.8 605.2h0M140.7 605.2h0M164.0 605.2h0M163.9 605.2h0M142.1 601.0h0M158.7 601.0h0M154.9 601.0h0M155.4 601.0h0M145.5 601.0h0M149.3 601.0h0M137.2 601.0h0M136.5 601.0h0M140.7 601.0h0M161.7 601.0h0M155.2 601.0h0M162.1 601.0h0M161.6 601.0h0M151.4 601.0h0M152.1 601.0h0M156.1 601.0h0M144.1 601.0h0M151.7 601.0h0M155.9 601.0h0M145.0 601.0h0M142.3 601.0h0M141.2 601.0h0M156.1 601.0h0M139.8 601.0h0M162.4 601.0h0M152.1 601.0h0M150.4 601.0h0M153.0 601.0h0M143.2 601.0h0M164.6 601.0h0M152.9 601.0h0M159.4 601.0h0M140.1 601.0h0M157.1 601.0h0M160.3 601.0h0M145.5 601.0h0M140.5 601.0h0M154.3 601.0h0M147.7 601.0h0M161.5 601.0h0M160.0 601.0h0M152.8 601.0h0M159.4 601.0h0M158.5 601.0h0M161.1 601.0h0M159.7 601.0h0M148.3 601.0h0M150.2 601.0h0M142.7 601.0h0M142.1 601.0h0M163.6 597.0h0M156.3 597.0h0M161.1 597.0h0M147.1 597.0h0M162.0 597.0h0M162.0 597.0h0M159.9 597.0h0M152.8 597.0h0M150.1 597.0h0M163.9 597.0h0M140.8 597.0h0M155.6 597.0h0M148.5 597.0h0M156.7 597.0h0M156.5 597.0h0M160.0 597.0h0M144.3 597.0h0M138.9 597.0h0M163.9 597.0h0M163.2 597.0h0M156.9 597.0h0M136.3 597.0h0M143.9 586.1h0M149.3 579.9h0M136.7 586.7h0M148.5 577.4h0M161.1 591.7h0M160.3 590.5h0M152.7 585.5h0M164.3 587.4h0M154.9 582.8h0M153.0 593.5h0M155.9 586.1h0M143.0 576.4h0M158.7 587.6h0M139.1 586.3h0M142.7 593.7h0M160.8 594.0h0M142.9 588.6h0M155.2 592.0h0M140.7 586.6h0M160.3 595.5h0M160.0 588.2h0M153.1 576.7h0M151.8 582.2h0M142.5 596.2h0M155.0 585.0h0M161.8 595.4h0M163.7 596.2h0M137.3 586.3h0M154.9 587.9h0M158.3 580.1h0M150.8 586.0h0M141.3 581.9h0M137.3 585.2h0M162.3 592.1h0M147.0 593.1h0M149.9 588.9h0M148.1 591.2h0M146.8 582.9h0M164.2 583.1h0M152.5 581.3h0M163.8 596.2h0M148.3 579.3h0M157.7 589.6h0M156.0 585.0h0M153.9 585.5h0M137.7 587.9h0M152.9 588.0h0M147.1 587.7h0M157.6 591.4h0M145.4 578.4h0M157.7 588.9h0M162.1 596.2h0M164.1 585.4h0M157.5 583.8h0M136.5 582.6h0M150.1 588.0h0M156.5 583.9h0M156.8 587.7h0M140.5 585.4h0M140.6 585.5h0M141.2 583.7h0M141.3 596.2h0M138.4 583.2h0M136.6 585.4h0M151.1 586.1h0M139.9 576.7h0M153.1 591.8h0M143.3 584.0h0M157.8 593.1h0M136.8 592.9h0M160.3 583.8h0M149.6 583.8h0M146.4 579.6h0M161.4 587.8h0M142.9 587.4h0M148.5 578.5h0M163.3 591.4h0M158.2 596.2h0M147.1 577.2h0M154.6 594.5h0M154.6 594.0h0M147.2 579.4h0M149.7 578.0h0M158.5 587.7h0M163.0 592.5h0M144.8 596.2h0M162.8 591.8h0M160.0 593.4h0M143.8 582.4h0M158.3 584.9h0M148.2 584.6h0M162.6 595.7h0M157.5 593.4h0M149.6 588.4h0M145.0 594.8h0M157.9 594.3h0M145.4 596.2h0M147.4 594.0h0M148.7 586.6h0M156.4 586.0h0" stroke="#19B23F" stroke-width="2.05" stroke-linecap="round" fill="none"/>
<path d="M138.9 605.2h0M156.4 605.2h0M161.0 605.2h0M162.0 605.2h0M163.7 605.2h0M154.9 601.0h0M159.1 601.0h0M149.0 601.0h0M164.6 601.0h0M147.3 597.0h0M144.7 597.0h0M154.0 597.0h0M163.2 597.0h0M138.4 597.0h0M136.5 597.0h0M140.6 597.0h0M151.6 597.0h0M155.1 597.0h0M136.7 582.7h0M155.9 588.1h0M144.8 584.2h0M141.3 576.9h0M150.0 578.0h0M143.0 588.4h0M145.3 585.9h0M150.2 578.1h0M150.2 584.3h0M137.3 583.6h0M146.0 590.9h0M154.5 584.5h0M145.4 582.9h0M147.3 586.2h0M153.7 576.8h0M139.8 582.3h0M155.0 591.8h0M141.3 588.2h0M156.0 588.5h0M137.7 585.9h0M146.0 596.0h0M138.6 578.5h0M142.8 594.3h0M136.1 592.8h0M141.8 584.6h0M150.5 580.3h0M150.5 590.5h0M151.9 595.0h0M144.8 581.6h0M152.3 577.1h0M149.7 582.7h0M147.9 586.7h0M152.7 593.0h0M137.4 593.6h0M150.0 576.9h0M150.8 582.5h0M148.9 595.8h0M140.5 583.1h0M156.2 595.4h0M146.8 578.5h0M141.6 584.0h0M151.2 580.7h0M154.8 593.4h0M136.4 583.9h0M136.4 591.4h0M154.8 585.4h0M155.5 586.2h0M153.0 583.1h0M137.9 595.2h0M140.5 585.1h0M147.9 585.4h0M151.1 582.3h0M154.3 589.6h0M136.6 583.8h0M149.3 587.1h0M138.9 587.5h0M146.7 581.0h0M148.4 593.5h0M142.4 577.9h0M152.0 591.2h0M142.2 594.9h0M146.6 590.9h0M147.7 583.9h0M142.2 588.3h0M156.6 589.5h0M153.6 584.2h0M146.1 578.5h0M149.4 581.2h0M156.4 596.2h0M136.6 590.2h0" stroke="#F0736B" stroke-width="2.05" stroke-linecap="round" fill="none"/>
<path d="M158.9 592.6h0M141.4 582.5h0M145.8 593.9h0M137.3 581.5h0M148.8 578.0h0M164.4 587.6h0M139.0 580.8h0M149.6 582.2h0M141.2 590.3h0M152.3 596.2h0M152.1 580.7h0M155.8 590.4h0M143.0 582.5h0M144.2 581.3h0M152.1 583.5h0M151.9 586.6h0M158.1 587.6h0M161.6 595.9h0M140.5 583.4h0M138.1 595.0h0M147.5 584.2h0M151.8 584.8h0M147.6 580.7h0M148.1 581.8h0M152.9 594.4h0M164.0 593.2h0M159.2 594.3h0M158.8 595.1h0M159.3 592.0h0M154.7 585.9h0M156.7 593.4h0M157.6 584.1h0M147.2 581.6h0M147.9 585.6h0M145.5 577.8h0M152.2 596.2h0M144.3 592.0h0M161.0 588.2h0M146.9 580.8h0M164.3 594.3h0M160.2 592.1h0M161.2 585.8h0M163.4 590.2h0M158.6 587.7h0M153.7 588.4h0M138.0 589.6h0M149.0 577.4h0M148.3 577.2h0M145.4 580.3h0M142.4 581.6h0M141.0 579.8h0M149.8 582.0h0M141.0 593.6h0M145.3 581.2h0M150.1 585.7h0M155.0 587.4h0M149.2 581.1h0M138.9 594.9h0M162.8 590.6h0M136.4 586.1h0M136.2 586.7h0M136.5 589.9h0M147.5 581.2h0M147.0 581.9h0M138.5 582.9h0M159.1 586.8h0M159.8 590.9h0M142.6 582.2h0M161.1 596.2h0M150.4 587.6h0M158.7 592.5h0M161.2 594.6h0M162.2 594.9h0M164.2 593.4h0M145.2 582.0h0M157.3 594.6h0M150.6 579.5h0M162.0 591.3h0M140.7 587.9h0M157.3 589.3h0M147.1 589.3h0M152.2 589.4h0M142.0 580.4h0M153.5 585.9h0M145.9 589.1h0M144.0 576.1h0M161.7 593.8h0M137.1 594.5h0M139.6 589.6h0M139.1 577.5h0M136.4 590.1h0M144.4 586.4h0M154.7 594.0h0M163.8 591.2h0M146.4 576.1h0M153.5 595.1h0M158.9 587.4h0M156.4 588.1h0M164.2 588.3h0M161.1 592.9h0M145.3 581.8h0M139.6 591.0h0M143.9 581.8h0M139.0 581.6h0M143.6 578.7h0M139.0 584.9h0M137.9 594.9h0M144.5 580.2h0M141.6 582.3h0M162.4 596.2h0M159.6 593.1h0M145.4 586.4h0M147.9 588.3h0M156.7 595.2h0M159.5 594.1h0M195.7 605.2h0M202.0 605.2h0M203.3 605.2h0M200.9 605.2h0M206.3 605.2h0M202.8 605.2h0M195.9 605.2h0M205.0 605.2h0M195.7 594.0h0M196.6 594.0h0M197.6 594.0h0M200.0 601.0h0M198.2 601.0h0M198.7 594.0h0" stroke="#19B23F" stroke-width="2.05" stroke-linecap="round" fill="none"/>
<path d="M150.0 582.0h0M149.9 577.5h0M153.7 579.5h0M153.8 582.4h0" stroke="#5B95F0" stroke-width="2.05" stroke-linecap="round" fill="none"/>
<path d="M136.0 588.4L136.9 587.8L138.2 587.0L139.7 586.0L141.2 585.0L142.7 584.2L143.9 583.6L144.9 583.3L145.7 583.1L146.4 583.0L147.1 583.1L147.8 583.3L148.7 583.6L149.6 584.2L150.6 585.0L151.7 585.9L152.7 586.9L153.8 588.0L155.0 589.0L156.0 590.0L156.8 591.1L157.7 592.2L158.8 593.3L160.5 594.3L162.9 595.3L166.5 596.3L171.2 597.3L176.5 598.2L181.7 599.1L186.3 599.8L189.8 600.4L191.9 600.8L193.1 601.1L193.7 601.3L194.1 601.3L194.8 601.2L196.1 601.0L198.4 600.6L201.3 600.0L204.4 599.2L207.5 598.4L210.1 597.7L212.0 597.2" stroke="#111" stroke-width="1.05" fill="none" stroke-linejoin="round" stroke-linecap="round"/>
<line x1="28.1" y1="606.9" x2="111.0" y2="606.9" stroke="#222" stroke-width="0.8"/>
<line x1="31.6" y1="606.9" x2="31.6" y2="608.6" stroke="#222" stroke-width="0.6"/>
<text x="31.6" y="615.2" font-size="6.3" text-anchor="middle">0.0</text>
<line x1="56.9" y1="606.9" x2="56.9" y2="608.6" stroke="#222" stroke-width="0.6"/>
<text x="56.9" y="615.2" font-size="6.3" text-anchor="middle">0.5</text>
<line x1="82.2" y1="606.9" x2="82.2" y2="608.6" stroke="#222" stroke-width="0.6"/>
<text x="82.2" y="615.2" font-size="6.3" text-anchor="middle">1.0</text>
<line x1="107.5" y1="606.9" x2="107.5" y2="608.6" stroke="#222" stroke-width="0.6"/>
<text x="107.5" y="615.2" font-size="6.3" text-anchor="middle">1.5</text>
<line x1="130.1" y1="606.9" x2="215.5" y2="606.9" stroke="#222" stroke-width="0.8"/>
<line x1="136.0" y1="606.9" x2="136.0" y2="608.6" stroke="#222" stroke-width="0.6"/>
<text x="136.0" y="615.2" font-size="6.3" text-anchor="middle">0.0</text>
<line x1="161.3" y1="606.9" x2="161.3" y2="608.6" stroke="#222" stroke-width="0.6"/>
<text x="161.3" y="615.2" font-size="6.3" text-anchor="middle">0.5</text>
<line x1="186.6" y1="606.9" x2="186.6" y2="608.6" stroke="#222" stroke-width="0.6"/>
<text x="186.6" y="615.2" font-size="6.3" text-anchor="middle">1.0</text>
<line x1="211.9" y1="606.9" x2="211.9" y2="608.6" stroke="#222" stroke-width="0.6"/>
<text x="211.9" y="615.2" font-size="6.3" text-anchor="middle">1.5</text>
<text x="122.2" y="623.4" font-size="7.5" text-anchor="middle">pseudotime</text>
<text transform="translate(10.0 494.3) rotate(-90)" font-size="7.85" text-anchor="middle">Expression</text>
<text x="223.9" y="398.2" font-size="9.3">Mono_celltype</text>
<circle cx="231.1" cy="412.0" r="1.15" fill="#F0736B"/>
<text x="243.1" y="414.7" font-size="7.5">Classical Monocytes</text>
<circle cx="231.1" cy="426.8" r="1.15" fill="#19B23F"/>
<text x="243.1" y="429.4" font-size="7.5">Non-Classical Monocytes</text>
<circle cx="231.1" cy="441.5" r="1.15" fill="#5B95F0"/>
<text x="243.1" y="444.2" font-size="7.5">Intermediate Monocytes</text>
<text x="338.7" y="527.8" font-size="5.3" text-anchor="middle">ITGB2 signaling network</text>
<rect x="305.1" y="548.0" width="22.7" height="24.3" fill="#8C1418"/>
<rect x="305.1" y="572.0" width="22.7" height="24.3" fill="#6A0A10"/>
<rect x="327.8" y="548.0" width="23.6" height="24.3" fill="#FEF1EC"/>
<rect x="327.8" y="572.0" width="23.6" height="24.3" fill="#FDE8E0"/>
<rect x="300.6" y="548.0" width="2.5" height="24.0" fill="#E41A1C"/>
<rect x="305.1" y="622.3" width="22.7" height="3.0" fill="#E41A1C"/>
<rect x="300.6" y="572.0" width="2.5" height="24.3" fill="#377EB8"/>
<rect x="327.8" y="622.3" width="23.6" height="3.0" fill="#377EB8"/>
<rect x="300.6" y="596.3" width="2.5" height="24.0" fill="#4DAF4A"/>
<rect x="351.4" y="622.3" width="22.7" height="3.0" fill="#4DAF4A"/>
<rect x="309.3" y="531.9" width="13.6" height="14.1" fill="#E41A1C"/>
<rect x="332.3" y="540.6" width="14.1" height="5.4" fill="#377EB8"/>
<line x1="355.5" y1="546.0" x2="368.8" y2="546.0" stroke="#4DAF4A" stroke-width="0.6"/>
<line x1="302.8" y1="531.5" x2="302.8" y2="546.3" stroke="#222" stroke-width="0.5"/>
<line x1="301.6" y1="532.5" x2="302.8" y2="532.5" stroke="#222" stroke-width="0.4"/>
<text x="300.9" y="534.0" font-size="4.3" text-anchor="end">0.2</text>
<line x1="301.6" y1="539.4" x2="302.8" y2="539.4" stroke="#222" stroke-width="0.4"/>
<text x="300.9" y="540.9" font-size="4.3" text-anchor="end">0.1</text>
<line x1="301.6" y1="546.0" x2="302.8" y2="546.0" stroke="#222" stroke-width="0.4"/>
<text x="300.9" y="547.5" font-size="4.3" text-anchor="end">0</text>
<rect x="376.1" y="552.7" width="13.6" height="14.4" fill="#E41A1C"/>
<rect x="376.1" y="577.0" width="13.6" height="14.8" fill="#377EB8"/>
<line x1="376.4" y1="601.0" x2="376.4" y2="615.5" stroke="#4DAF4A" stroke-width="0.6"/>
<line x1="376.0" y1="621.3" x2="391.5" y2="621.3" stroke="#222" stroke-width="0.5"/>
<line x1="376.4" y1="621.3" x2="376.4" y2="622.5" stroke="#222" stroke-width="0.4"/>
<text transform="translate(377.8 623.5) rotate(-90)" font-size="4.2" text-anchor="end">0</text>
<line x1="381.3" y1="621.3" x2="381.3" y2="622.5" stroke="#222" stroke-width="0.4"/>
<text transform="translate(382.7 623.5) rotate(-90)" font-size="4.2" text-anchor="end">0.05</text>
<line x1="386.2" y1="621.3" x2="386.2" y2="622.5" stroke="#222" stroke-width="0.4"/>
<text transform="translate(387.6 623.5) rotate(-90)" font-size="4.2" text-anchor="end">0.1</text>
<line x1="391.1" y1="621.3" x2="391.1" y2="622.5" stroke="#222" stroke-width="0.4"/>
<text transform="translate(392.5 623.5) rotate(-90)" font-size="4.2" text-anchor="end">0.15</text>
<text x="298.9" y="561.2" font-size="4.3" text-anchor="end">Classical Monocytes</text>
<text x="298.9" y="585.9" font-size="4.3" text-anchor="end">Non-Classical Monocytes</text>
<text x="298.9" y="610.2" font-size="4.3" text-anchor="end">Intermediate Monocytes</text>
<text transform="translate(244.4 584.4) rotate(-90)" font-size="5.1" text-anchor="middle" fill="#222">Sources (Sender)</text>
<text transform="translate(316.7 629.3) rotate(-90)" font-size="4.1" text-anchor="end">Classical Monocytes</text>
<text transform="translate(340.8 629.3) rotate(-90)" font-size="4.1" text-anchor="end">Non-Classical Monocytes</text>
<text transform="translate(365.2 629.3) rotate(-90)" font-size="4.1" text-anchor="end">Intermediate Monocytes</text>
<defs><linearGradient id="rd" x1="0" y1="0" x2="0" y2="1"><stop offset="0" stop-color="#67000D"/><stop offset="0.35" stop-color="#CB181D"/><stop offset="0.7" stop-color="#FC9272"/><stop offset="1" stop-color="#FFF5F0"/></linearGradient></defs>
<rect x="399.6" y="548.0" width="4.5" height="30.2" fill="url(#rd)"/>
<text x="405.6" y="551.9" font-size="4.3">0.12</text>
<text x="405.6" y="558.3" font-size="4.3">0.1</text>
<text x="405.6" y="564.7" font-size="4.3">0.08</text>
<text x="405.6" y="571.1" font-size="4.3">0.06</text>
<text x="405.6" y="577.5" font-size="4.3">0.04</text>
<text transform="translate(397.6 564.6) rotate(-90)" font-size="3.8" text-anchor="middle">Communication Prob.</text>
<path d="M338.3 723.2L338.9 723.4L339.8 723.7L340.8 724.0L341.9 724.5L343.0 725.0L344.3 725.7L345.9 726.5L347.4 727.4L348.6 728.3L349.2 729.1L348.9 729.8L348.0 730.5L346.8 731.2L345.5 731.9L344.4 732.6L343.5 733.4L342.7 734.1L341.9 734.9L341.2 735.7L340.6 736.4L340.1 737.1L339.6 737.7L339.2 738.3L338.9 739.0L338.7 739.6L338.5 740.3L338.5 741.1L338.5 741.8L338.5 742.5L338.7 743.0L339.0 743.4L339.5 743.6L340.0 743.8L340.5 744.0L340.8 744.2L341.0 744.5L341.0 744.8L341.0 745.1L341.0 745.4L341.0 745.6L334.6 745.6L334.6 745.4L334.6 745.1L334.6 744.8L334.6 744.5L334.8 744.2L335.1 744.0L335.6 743.8L336.1 743.6L336.6 743.4L336.9 743.0L337.1 742.5L337.1 741.8L337.1 741.1L337.1 740.3L336.9 739.6L336.7 739.0L336.4 738.3L336.0 737.7L335.5 737.1L335.0 736.4L334.4 735.7L333.7 734.9L332.9 734.1L332.1 733.4L331.2 732.6L330.1 731.9L328.8 731.2L327.6 730.5L326.7 729.8L326.4 729.1L327.0 728.3L328.2 727.4L329.7 726.5L331.3 725.7L332.6 725.0L333.7 724.5L334.8 724.0L335.8 723.7L336.7 723.4L337.3 723.2L338.3 723.2" stroke="#222" stroke-width="0.5" fill="#E41A1C" stroke-linejoin="round" stroke-linecap="round"/>
<path d="M363.3 722.2L364.0 722.5L365.0 722.8L366.2 723.2L367.4 723.8L368.6 724.4L369.9 725.2L371.4 726.1L372.9 727.2L374.0 728.2L374.5 729.1L374.2 729.9L373.3 730.6L372.1 731.3L370.9 732.0L369.8 732.8L368.9 733.6L368.1 734.5L367.2 735.4L366.5 736.2L365.8 737.0L365.2 737.7L364.8 738.4L364.4 739.0L364.0 739.6L363.8 740.2L363.6 740.8L363.6 741.4L363.6 742.0L363.7 742.5L363.8 743.0L364.0 743.3L364.4 743.6L364.8 743.8L365.1 744.0L365.4 744.2L365.5 744.5L365.6 744.8L365.6 745.1L365.6 745.4L365.6 745.6L360.0 745.6L360.0 745.4L360.0 745.1L360.0 744.8L360.1 744.5L360.2 744.2L360.5 744.0L360.8 743.8L361.2 743.6L361.6 743.3L361.8 743.0L361.9 742.5L362.0 742.0L362.0 741.4L362.0 740.8L361.8 740.2L361.6 739.6L361.2 739.0L360.8 738.4L360.4 737.7L359.8 737.0L359.1 736.2L358.4 735.4L357.5 734.5L356.7 733.6L355.8 732.8L354.7 732.0L353.5 731.3L352.3 730.6L351.4 729.9L351.1 729.1L351.6 728.2L352.7 727.2L354.2 726.1L355.7 725.2L357.0 724.4L358.2 723.8L359.4 723.2L360.6 722.8L361.6 722.5L362.3 722.2L363.3 722.2" stroke="#222" stroke-width="0.5" fill="#377EB8" stroke-linejoin="round" stroke-linecap="round"/>
<line x1="388.4" y1="723.0" x2="388.4" y2="746.0" stroke="#444" stroke-width="0.6"/>
<rect x="376.5" y="744.6" width="24.0" height="1.2" fill="#999"/>
<circle cx="388.4" cy="723.6" r="0.6" fill="#444"/><circle cx="388.4" cy="726" r="0.6" fill="#444"/>
<path d="M338.6 755.5L338.8 755.9L339.2 756.5L339.6 757.1L340.0 757.8L340.4 758.5L340.8 759.2L341.1 759.8L341.5 760.5L342.0 761.2L342.8 762.0L344.0 762.9L345.5 763.8L347.2 764.7L348.5 765.6L349.3 766.5L349.4 767.3L348.9 768.0L348.2 768.7L347.4 769.4L346.8 770.0L346.4 770.6L346.0 771.1L345.6 771.5L345.3 772.0L345.2 772.5L345.3 773.0L345.6 773.5L346.0 774.0L346.3 774.5L346.6 775.0L346.8 775.5L346.9 776.0L347.0 776.6L347.1 777.0L347.2 777.3L328.4 777.3L328.5 777.0L328.6 776.6L328.7 776.0L328.8 775.5L329.0 775.0L329.3 774.5L329.6 774.0L330.0 773.5L330.3 773.0L330.4 772.5L330.3 772.0L330.0 771.5L329.6 771.1L329.2 770.6L328.8 770.0L328.2 769.4L327.4 768.7L326.7 768.0L326.2 767.3L326.3 766.5L327.1 765.6L328.4 764.7L330.1 763.8L331.6 762.9L332.8 762.0L333.6 761.2L334.1 760.5L334.5 759.8L334.8 759.2L335.2 758.5L335.6 757.8L336.0 757.1L336.4 756.5L336.8 755.9L337.0 755.5L338.6 755.5" stroke="#222" stroke-width="0.5" fill="#E41A1C" stroke-linejoin="round" stroke-linecap="round"/>
<path d="M363.3 753.8L363.5 754.4L363.7 755.1L364.0 756.1L364.3 757.0L364.6 758.0L364.8 758.9L365.1 759.9L365.3 760.9L365.5 761.9L365.6 763.0L365.7 764.2L365.7 765.5L365.7 766.8L365.7 768.0L365.8 769.0L365.9 769.8L366.0 770.4L366.1 771.0L366.3 771.5L366.6 772.0L367.1 772.5L367.7 773.1L368.4 773.6L369.1 774.0L369.8 774.5L370.5 774.9L371.3 775.4L372.1 775.8L372.8 776.2L373.3 776.5L373.7 776.8L373.9 777.1L374.0 777.3L374.1 777.5L374.2 777.6L351.4 777.6L351.5 777.5L351.6 777.3L351.7 777.1L351.9 776.8L352.3 776.5L352.8 776.2L353.5 775.8L354.3 775.4L355.1 774.9L355.8 774.5L356.5 774.0L357.2 773.6L357.9 773.1L358.5 772.5L359.0 772.0L359.3 771.5L359.5 771.0L359.6 770.4L359.7 769.8L359.8 769.0L359.9 768.0L359.9 766.8L359.9 765.5L359.9 764.2L360.0 763.0L360.1 761.9L360.3 760.9L360.5 759.9L360.8 758.9L361.0 758.0L361.3 757.0L361.6 756.1L361.9 755.1L362.1 754.4L362.3 753.8L363.3 753.8" stroke="#222" stroke-width="0.5" fill="#377EB8" stroke-linejoin="round" stroke-linecap="round"/>
<path d="M396.4 756.3L396.7 756.4L397.1 756.6L397.6 756.9L398.1 757.2L398.4 757.5L398.7 757.9L398.9 758.3L399.1 758.8L399.2 759.4L399.1 760.0L398.9 760.7L398.5 761.5L398.1 762.3L397.5 763.1L397.0 764.0L396.3 764.9L395.6 765.9L394.7 766.8L394.1 767.7L393.6 768.5L393.4 769.1L393.3 769.6L393.4 770.1L393.7 770.5L394.0 771.0L394.5 771.6L395.2 772.2L396.0 772.8L396.8 773.4L397.4 774.0L397.9 774.6L398.4 775.1L398.8 775.6L399.1 776.1L399.4 776.5L399.6 776.8L399.6 777.1L399.6 777.3L399.6 777.5L399.6 777.6L377.2 777.6L377.2 777.5L377.2 777.3L377.2 777.1L377.2 776.8L377.4 776.5L377.7 776.1L378.0 775.6L378.4 775.1L378.9 774.6L379.4 774.0L380.0 773.4L380.8 772.8L381.6 772.2L382.3 771.6L382.8 771.0L383.1 770.5L383.4 770.1L383.5 769.6L383.4 769.1L383.2 768.5L382.7 767.7L382.1 766.8L381.2 765.9L380.5 764.9L379.8 764.0L379.3 763.1L378.7 762.3L378.3 761.5L377.9 760.7L377.7 760.0L377.6 759.4L377.7 758.8L377.9 758.3L378.1 757.9L378.4 757.5L378.7 757.2L379.2 756.9L379.7 756.6L380.1 756.4L380.4 756.3L396.4 756.3" stroke="#222" stroke-width="0.5" fill="#4DAF4A" stroke-linejoin="round" stroke-linecap="round"/>
<rect x="322.8" y="777.2" width="81.0" height="1.6" fill="#8c8c8c"/>
<path d="M339.0 790.5L339.2 790.6L339.6 790.7L340.0 790.9L340.3 791.1L340.6 791.5L340.8 792.0L340.9 792.7L341.0 793.4L341.0 794.2L341.0 795.0L341.0 795.8L340.9 796.6L340.8 797.4L340.7 798.3L340.6 799.0L340.5 799.7L340.5 800.3L340.4 800.9L340.5 801.4L340.7 802.0L341.1 802.5L341.7 803.1L342.4 803.6L343.1 804.0L343.8 804.5L344.6 804.9L345.5 805.4L346.4 805.8L347.2 806.1L347.8 806.5L348.3 806.9L348.6 807.2L348.8 807.5L349.0 807.8L349.1 808.0L326.5 808.0L326.6 807.8L326.8 807.5L327.0 807.2L327.3 806.9L327.8 806.5L328.4 806.1L329.2 805.8L330.1 805.4L331.0 804.9L331.8 804.5L332.5 804.0L333.2 803.6L333.9 803.1L334.5 802.5L334.9 802.0L335.1 801.4L335.2 800.9L335.1 800.3L335.1 799.7L335.0 799.0L334.9 798.3L334.8 797.4L334.7 796.6L334.6 795.8L334.6 795.0L334.6 794.2L334.6 793.4L334.7 792.7L334.8 792.0L335.0 791.5L335.3 791.1L335.6 790.9L336.0 790.7L336.4 790.6L336.6 790.5L339.0 790.5" stroke="#222" stroke-width="0.5" fill="#E41A1C" stroke-linejoin="round" stroke-linecap="round"/>
<path d="M363.2 787.0L363.4 787.4L363.7 787.9L364.0 788.6L364.4 789.3L364.8 790.0L365.3 790.8L365.8 791.6L366.4 792.4L367.0 793.2L367.4 794.0L367.7 794.7L368.0 795.3L368.2 795.8L368.4 796.4L368.4 797.0L368.3 797.6L368.0 798.2L367.7 798.8L367.4 799.4L367.0 800.0L366.6 800.6L366.1 801.1L365.6 801.6L365.2 802.1L365.0 802.6L365.1 803.0L365.3 803.4L365.6 803.8L366.1 804.1L366.8 804.5L367.7 804.9L368.9 805.3L370.2 805.7L371.4 806.1L372.3 806.5L372.9 806.9L373.4 807.2L373.7 807.5L374.0 807.8L374.2 808.0L351.4 808.0L351.6 807.8L351.9 807.5L352.2 807.2L352.7 806.9L353.3 806.5L354.2 806.1L355.4 805.7L356.7 805.3L357.9 804.9L358.8 804.5L359.5 804.1L360.0 803.8L360.3 803.4L360.5 803.0L360.6 802.6L360.4 802.1L360.0 801.6L359.5 801.1L359.0 800.6L358.6 800.0L358.2 799.4L357.9 798.8L357.6 798.2L357.3 797.6L357.2 797.0L357.2 796.4L357.4 795.8L357.6 795.3L357.9 794.7L358.2 794.0L358.6 793.2L359.2 792.4L359.8 791.6L360.3 790.8L360.8 790.0L361.2 789.3L361.6 788.6L361.9 787.9L362.2 787.4L362.4 787.0L363.2 787.0" stroke="#222" stroke-width="0.5" fill="#377EB8" stroke-linejoin="round" stroke-linecap="round"/>
<line x1="388.4" y1="782.0" x2="388.4" y2="809.0" stroke="#444" stroke-width="0.6"/>
<rect x="376.5" y="807.6" width="24.0" height="1.2" fill="#999"/>
<line x1="322.8" y1="717.5" x2="322.8" y2="746.0" stroke="#222" stroke-width="0.8"/>
<line x1="322.4" y1="746.0" x2="403.8" y2="746.0" stroke="#222" stroke-width="0.8"/>
<line x1="321.4" y1="718.1" x2="322.8" y2="718.1" stroke="#222" stroke-width="0.5"/>
<text x="315.4" y="720.7" font-size="5.4" text-anchor="end" font-weight="bold">ITGB2</text>
<text x="320.6" y="719.5" font-size="3.6" text-anchor="end" font-weight="bold">4</text>
<line x1="322.8" y1="749.3" x2="322.8" y2="778.0" stroke="#222" stroke-width="0.8"/>
<line x1="322.4" y1="778.0" x2="403.8" y2="778.0" stroke="#222" stroke-width="0.8"/>
<line x1="321.4" y1="749.9" x2="322.8" y2="749.9" stroke="#222" stroke-width="0.5"/>
<text x="315.4" y="752.5" font-size="5.4" text-anchor="end" font-weight="bold">ICAM1</text>
<text x="320.6" y="751.3" font-size="3.6" text-anchor="end" font-weight="bold">5</text>
<line x1="322.8" y1="781.0" x2="322.8" y2="809.2" stroke="#222" stroke-width="0.8"/>
<line x1="322.4" y1="809.2" x2="403.8" y2="809.2" stroke="#222" stroke-width="0.8"/>
<line x1="321.4" y1="781.6" x2="322.8" y2="781.6" stroke="#222" stroke-width="0.5"/>
<text x="315.4" y="784.2" font-size="5.4" text-anchor="end" font-weight="bold">ICAM2</text>
<text x="320.6" y="783.0" font-size="3.6" text-anchor="end" font-weight="bold">3</text>
<line x1="337.8" y1="809.2" x2="337.8" y2="810.8" stroke="#222" stroke-width="0.5"/>
<text transform="translate(339.5 812.6) rotate(-90)" font-size="4.75" text-anchor="end" font-weight="bold" fill="#222">Classical Monocytes</text>
<line x1="362.8" y1="809.2" x2="362.8" y2="810.8" stroke="#222" stroke-width="0.5"/>
<text transform="translate(364.5 812.6) rotate(-90)" font-size="4.75" text-anchor="end" font-weight="bold" fill="#222">Non-Classical Monocytes</text>
<line x1="388.4" y1="809.2" x2="388.4" y2="810.8" stroke="#222" stroke-width="0.5"/>
<text transform="translate(390.1 812.6) rotate(-90)" font-size="4.75" text-anchor="end" font-weight="bold" fill="#222">Intermediate Monocytes</text>
<rect x="314.6" y="885.0" width="12.0" height="12.9" fill="#E41A1C" stroke="#333" stroke-width="0.8"/>
<text x="331.3" y="893.6" font-size="7.35">Classical Monocytes</text>
<rect x="314.6" y="897.9" width="12.0" height="12.9" fill="#377EB8" stroke="#333" stroke-width="0.8"/>
<text x="331.3" y="906.8" font-size="7.35">Non-Classical Monocytes</text>
<rect x="314.6" y="910.8" width="12.0" height="12.9" fill="#4DAF4A" stroke="#333" stroke-width="0.8"/>
<text x="331.3" y="919.9" font-size="7.35">Intermediate Monocytes</text>
<rect x="481.6" y="528.1" width="78.3" height="8.4" fill="#B5B5B5" stroke="#333" stroke-width="0.6"/>
<text x="520.8" y="533.8" font-size="4.2" text-anchor="middle">Classical Monocytes</text>
<rect x="562.7" y="528.1" width="78.2" height="8.4" fill="#B5B5B5" stroke="#333" stroke-width="0.6"/>
<text x="601.8" y="533.8" font-size="4.2" text-anchor="middle">Non-Classical Monocytes</text>
<rect x="641.7" y="536.5" width="38.9" height="209.7" fill="#B5B5B5" stroke="#707070" stroke-width="0.5"/>
<text x="661.2" y="642.9" font-size="4.3" text-anchor="middle">Cell-Cell Contact</text>
<rect x="641.7" y="751.7" width="38.9" height="114.8" fill="#B5B5B5" stroke="#707070" stroke-width="0.5"/>
<text x="661.2" y="810.6" font-size="4.3" text-anchor="middle">Secreted Signaling</text>
<rect x="481.6" y="536.5" width="78.3" height="209.7" fill="#fff" stroke="#333" stroke-width="0.6"/>
<line x1="482.0" y1="544.6" x2="559.5" y2="544.6" stroke="#f3f3f3" stroke-width="0.5"/>
<line x1="482.0" y1="558.6" x2="559.5" y2="558.6" stroke="#f3f3f3" stroke-width="0.5"/>
<line x1="482.0" y1="572.5" x2="559.5" y2="572.5" stroke="#f3f3f3" stroke-width="0.5"/>
<line x1="482.0" y1="586.5" x2="559.5" y2="586.5" stroke="#f3f3f3" stroke-width="0.5"/>
<line x1="482.0" y1="600.4" x2="559.5" y2="600.4" stroke="#f3f3f3" stroke-width="0.5"/>
<line x1="482.0" y1="614.4" x2="559.5" y2="614.4" stroke="#f3f3f3" stroke-width="0.5"/>
<line x1="482.0" y1="628.3" x2="559.5" y2="628.3" stroke="#f3f3f3" stroke-width="0.5"/>
<line x1="482.0" y1="642.2" x2="559.5" y2="642.2" stroke="#f3f3f3" stroke-width="0.5"/>
<line x1="482.0" y1="656.2" x2="559.5" y2="656.2" stroke="#f3f3f3" stroke-width="0.5"/>
<line x1="482.0" y1="670.1" x2="559.5" y2="670.1" stroke="#f3f3f3" stroke-width="0.5"/>
<line x1="482.0" y1="684.1" x2="559.5" y2="684.1" stroke="#f3f3f3" stroke-width="0.5"/>
<line x1="482.0" y1="698.0" x2="559.5" y2="698.0" stroke="#f3f3f3" stroke-width="0.5"/>
<line x1="482.0" y1="712.0" x2="559.5" y2="712.0" stroke="#f3f3f3" stroke-width="0.5"/>
<line x1="482.0" y1="726.0" x2="559.5" y2="726.0" stroke="#f3f3f3" stroke-width="0.5"/>
<line x1="482.0" y1="739.9" x2="559.5" y2="739.9" stroke="#f3f3f3" stroke-width="0.5"/>
<rect x="562.7" y="536.5" width="78.2" height="209.7" fill="#fff" stroke="#333" stroke-width="0.6"/>
<line x1="563.1" y1="544.6" x2="640.5" y2="544.6" stroke="#f3f3f3" stroke-width="0.5"/>
<line x1="563.1" y1="558.6" x2="640.5" y2="558.6" stroke="#f3f3f3" stroke-width="0.5"/>
<line x1="563.1" y1="572.5" x2="640.5" y2="572.5" stroke="#f3f3f3" stroke-width="0.5"/>
<line x1="563.1" y1="586.5" x2="640.5" y2="586.5" stroke="#f3f3f3" stroke-width="0.5"/>
<line x1="563.1" y1="600.4" x2="640.5" y2="600.4" stroke="#f3f3f3" stroke-width="0.5"/>
<line x1="563.1" y1="614.4" x2="640.5" y2="614.4" stroke="#f3f3f3" stroke-width="0.5"/>
<line x1="563.1" y1="628.3" x2="640.5" y2="628.3" stroke="#f3f3f3" stroke-width="0.5"/>
<line x1="563.1" y1="642.2" x2="640.5" y2="642.2" stroke="#f3f3f3" stroke-width="0.5"/>
<line x1="563.1" y1="656.2" x2="640.5" y2="656.2" stroke="#f3f3f3" stroke-width="0.5"/>
<line x1="563.1" y1="670.1" x2="640.5" y2="670.1" stroke="#f3f3f3" stroke-width="0.5"/>
<line x1="563.1" y1="684.1" x2="640.5" y2="684.1" stroke="#f3f3f3" stroke-width="0.5"/>
<line x1="563.1" y1="698.0" x2="640.5" y2="698.0" stroke="#f3f3f3" stroke-width="0.5"/>
<line x1="563.1" y1="712.0" x2="640.5" y2="712.0" stroke="#f3f3f3" stroke-width="0.5"/>
<line x1="563.1" y1="726.0" x2="640.5" y2="726.0" stroke="#f3f3f3" stroke-width="0.5"/>
<line x1="563.1" y1="739.9" x2="640.5" y2="739.9" stroke="#f3f3f3" stroke-width="0.5"/>
<line x1="502.5" y1="536.9" x2="502.5" y2="745.8" stroke="#f3f3f3" stroke-width="0.5"/>
<line x1="538.3" y1="536.9" x2="538.3" y2="745.8" stroke="#f3f3f3" stroke-width="0.5"/>
<line x1="583.9" y1="536.9" x2="583.9" y2="745.8" stroke="#f3f3f3" stroke-width="0.5"/>
<line x1="619.7" y1="536.9" x2="619.7" y2="745.8" stroke="#f3f3f3" stroke-width="0.5"/>
<rect x="481.6" y="751.7" width="78.3" height="114.8" fill="#fff" stroke="#333" stroke-width="0.6"/>
<line x1="482.0" y1="760.1" x2="559.5" y2="760.1" stroke="#f3f3f3" stroke-width="0.5"/>
<line x1="482.0" y1="774.1" x2="559.5" y2="774.1" stroke="#f3f3f3" stroke-width="0.5"/>
<line x1="482.0" y1="788.1" x2="559.5" y2="788.1" stroke="#f3f3f3" stroke-width="0.5"/>
<line x1="482.0" y1="802.1" x2="559.5" y2="802.1" stroke="#f3f3f3" stroke-width="0.5"/>
<line x1="482.0" y1="816.1" x2="559.5" y2="816.1" stroke="#f3f3f3" stroke-width="0.5"/>
<line x1="482.0" y1="830.1" x2="559.5" y2="830.1" stroke="#f3f3f3" stroke-width="0.5"/>
<line x1="482.0" y1="844.1" x2="559.5" y2="844.1" stroke="#f3f3f3" stroke-width="0.5"/>
<line x1="482.0" y1="858.1" x2="559.5" y2="858.1" stroke="#f3f3f3" stroke-width="0.5"/>
<rect x="562.7" y="751.7" width="78.2" height="114.8" fill="#fff" stroke="#333" stroke-width="0.6"/>
<line x1="563.1" y1="760.1" x2="640.5" y2="760.1" stroke="#f3f3f3" stroke-width="0.5"/>
<line x1="563.1" y1="774.1" x2="640.5" y2="774.1" stroke="#f3f3f3" stroke-width="0.5"/>
<line x1="563.1" y1="788.1" x2="640.5" y2="788.1" stroke="#f3f3f3" stroke-width="0.5"/>
<line x1="563.1" y1="802.1" x2="640.5" y2="802.1" stroke="#f3f3f3" stroke-width="0.5"/>
<line x1="563.1" y1="816.1" x2="640.5" y2="816.1" stroke="#f3f3f3" stroke-width="0.5"/>
<line x1="563.1" y1="830.1" x2="640.5" y2="830.1" stroke="#f3f3f3" stroke-width="0.5"/>
<line x1="563.1" y1="844.1" x2="640.5" y2="844.1" stroke="#f3f3f3" stroke-width="0.5"/>
<line x1="563.1" y1="858.1" x2="640.5" y2="858.1" stroke="#f3f3f3" stroke-width="0.5"/>
<line x1="502.5" y1="752.1" x2="502.5" y2="866.1" stroke="#f3f3f3" stroke-width="0.5"/>
<line x1="538.3" y1="752.1" x2="538.3" y2="866.1" stroke="#f3f3f3" stroke-width="0.5"/>
<line x1="583.9" y1="752.1" x2="583.9" y2="866.1" stroke="#f3f3f3" stroke-width="0.5"/>
<line x1="619.7" y1="752.1" x2="619.7" y2="866.1" stroke="#f3f3f3" stroke-width="0.5"/>
<line x1="480.2" y1="544.6" x2="481.6" y2="544.6" stroke="#333" stroke-width="0.4"/>
<text x="478.7" y="546.1" font-size="4.25" text-anchor="end" fill="#222">SELPLG - SELL</text>
<line x1="480.2" y1="558.6" x2="481.6" y2="558.6" stroke="#333" stroke-width="0.4"/>
<text x="478.7" y="560.1" font-size="4.25" text-anchor="end" fill="#222">PECAM1 - PECAM1</text>
<line x1="480.2" y1="572.5" x2="481.6" y2="572.5" stroke="#333" stroke-width="0.4"/>
<text x="478.7" y="574.0" font-size="4.25" text-anchor="end" fill="#222">ITGB2 - ICAM2</text>
<line x1="480.2" y1="586.5" x2="481.6" y2="586.5" stroke="#333" stroke-width="0.4"/>
<text x="478.7" y="588.0" font-size="4.25" text-anchor="end" fill="#222">ITGB2 - ICAM1</text>
<line x1="480.2" y1="600.4" x2="481.6" y2="600.4" stroke="#333" stroke-width="0.4"/>
<text x="478.7" y="601.9" font-size="4.25" text-anchor="end" fill="#222">ICAM2 - (ITGAM+ITGB2)</text>
<line x1="480.2" y1="614.4" x2="481.6" y2="614.4" stroke="#333" stroke-width="0.4"/>
<text x="478.7" y="615.9" font-size="4.25" text-anchor="end" fill="#222">ICAM2 - (ITGAL+ITGB2)</text>
<line x1="480.2" y1="628.3" x2="481.6" y2="628.3" stroke="#333" stroke-width="0.4"/>
<text x="478.7" y="629.8" font-size="4.25" text-anchor="end" fill="#222">ICAM1 - SPN</text>
<line x1="480.2" y1="642.2" x2="481.6" y2="642.2" stroke="#333" stroke-width="0.4"/>
<text x="478.7" y="643.8" font-size="4.25" text-anchor="end" fill="#222">ICAM1 - ITGAL</text>
<line x1="480.2" y1="656.2" x2="481.6" y2="656.2" stroke="#333" stroke-width="0.4"/>
<text x="478.7" y="657.7" font-size="4.25" text-anchor="end" fill="#222">ICAM1 - (ITGAX+ITGB2)</text>
<line x1="480.2" y1="670.1" x2="481.6" y2="670.1" stroke="#333" stroke-width="0.4"/>
<text x="478.7" y="671.6" font-size="4.25" text-anchor="end" fill="#222">ICAM1 - (ITGAM+ITGB2)</text>
<line x1="480.2" y1="684.1" x2="481.6" y2="684.1" stroke="#333" stroke-width="0.4"/>
<text x="478.7" y="685.6" font-size="4.25" text-anchor="end" fill="#222">ICAM1 - (ITGAL+ITGB2)</text>
<line x1="480.2" y1="698.0" x2="481.6" y2="698.0" stroke="#333" stroke-width="0.4"/>
<text x="478.7" y="699.5" font-size="4.25" text-anchor="end" fill="#222">HLA-F - LILRB1</text>
<line x1="480.2" y1="712.0" x2="481.6" y2="712.0" stroke="#333" stroke-width="0.4"/>
<text x="478.7" y="713.5" font-size="4.25" text-anchor="end" fill="#222">CD99 - PILRA</text>
<line x1="480.2" y1="726.0" x2="481.6" y2="726.0" stroke="#333" stroke-width="0.4"/>
<text x="478.7" y="727.5" font-size="4.25" text-anchor="end" fill="#222">CD99 - CD99</text>
<line x1="480.2" y1="739.9" x2="481.6" y2="739.9" stroke="#333" stroke-width="0.4"/>
<text x="478.7" y="741.4" font-size="4.25" text-anchor="end" fill="#222">ADGRE5 - CD55</text>
<line x1="480.2" y1="760.1" x2="481.6" y2="760.1" stroke="#333" stroke-width="0.4"/>
<text x="478.7" y="761.6" font-size="4.25" text-anchor="end" fill="#222">TNFSF14 - LTBR</text>
<line x1="480.2" y1="774.1" x2="481.6" y2="774.1" stroke="#333" stroke-width="0.4"/>
<text x="478.7" y="775.6" font-size="4.25" text-anchor="end" fill="#222">TNF - TNFRSF1B</text>
<line x1="480.2" y1="788.1" x2="481.6" y2="788.1" stroke="#333" stroke-width="0.4"/>
<text x="478.7" y="789.6" font-size="4.25" text-anchor="end" fill="#222">NAMPT - (ITGA5+ITGB1)</text>
<line x1="480.2" y1="802.1" x2="481.6" y2="802.1" stroke="#333" stroke-width="0.4"/>
<text x="478.7" y="803.6" font-size="4.25" text-anchor="end" fill="#222">MIF - (CD74+CXCR4)</text>
<line x1="480.2" y1="816.1" x2="481.6" y2="816.1" stroke="#333" stroke-width="0.4"/>
<text x="478.7" y="817.6" font-size="4.25" text-anchor="end" fill="#222">MIF - (CD74+CD44)</text>
<line x1="480.2" y1="830.1" x2="481.6" y2="830.1" stroke="#333" stroke-width="0.4"/>
<text x="478.7" y="831.6" font-size="4.25" text-anchor="end" fill="#222">LGALS9 - CD45</text>
<line x1="480.2" y1="844.1" x2="481.6" y2="844.1" stroke="#333" stroke-width="0.4"/>
<text x="478.7" y="845.6" font-size="4.25" text-anchor="end" fill="#222">LGALS9 - CD44</text>
<line x1="480.2" y1="858.1" x2="481.6" y2="858.1" stroke="#333" stroke-width="0.4"/>
<text x="478.7" y="859.6" font-size="4.25" text-anchor="end" fill="#222">ANXA1 - FPR1</text>
<line x1="502.5" y1="866.5" x2="502.5" y2="868.0" stroke="#333" stroke-width="0.4"/>
<line x1="538.3" y1="866.5" x2="538.3" y2="868.0" stroke="#333" stroke-width="0.4"/>
<line x1="583.9" y1="866.5" x2="583.9" y2="868.0" stroke="#333" stroke-width="0.4"/>
<line x1="619.7" y1="866.5" x2="619.7" y2="868.0" stroke="#333" stroke-width="0.4"/>
<circle cx="583.9" cy="544.6" r="1.80" fill="#2B5C8A"/>
<circle cx="619.7" cy="558.6" r="1.62" fill="#9DD4A8"/>
<circle cx="538.3" cy="572.5" r="1.62" fill="#D8E0A0"/>
<circle cx="619.7" cy="572.5" r="1.62" fill="#E8DC9C"/>
<circle cx="502.5" cy="586.5" r="1.08" fill="#C89858"/>
<circle cx="583.9" cy="586.5" r="1.98" fill="#E08040"/>
<circle cx="583.9" cy="600.4" r="1.71" fill="#3C8CA8"/>
<circle cx="619.7" cy="614.4" r="1.62" fill="#50A090"/>
<circle cx="538.3" cy="628.3" r="1.71" fill="#2E9080"/>
<circle cx="538.3" cy="642.2" r="1.71" fill="#2E9888"/>
<circle cx="502.5" cy="656.2" r="1.71" fill="#F0E088"/>
<circle cx="502.5" cy="670.1" r="1.71" fill="#A0D080"/>
<circle cx="538.3" cy="684.1" r="1.62" fill="#D8DC98"/>
<circle cx="619.7" cy="698.0" r="1.62" fill="#90CCA0"/>
<circle cx="502.5" cy="712.0" r="1.08" fill="#E8DC90"/>
<circle cx="538.3" cy="712.0" r="1.62" fill="#F0E890"/>
<circle cx="502.5" cy="726.0" r="1.62" fill="#D8E0A0"/>
<circle cx="538.3" cy="726.0" r="1.71" fill="#3890A0"/>
<circle cx="583.9" cy="726.0" r="1.71" fill="#40A0A0"/>
<circle cx="502.5" cy="739.9" r="1.62" fill="#F0E890"/>
<circle cx="583.9" cy="739.9" r="1.62" fill="#F0E890"/>
<circle cx="502.5" cy="760.1" r="1.80" fill="#3C3C90"/>
<circle cx="538.3" cy="760.1" r="1.80" fill="#3C3C90"/>
<circle cx="583.9" cy="774.1" r="1.71" fill="#50B0A8"/>
<circle cx="619.7" cy="774.1" r="1.08" fill="#3090A0"/>
<circle cx="502.5" cy="788.1" r="1.62" fill="#70C0B0"/>
<circle cx="583.9" cy="802.1" r="1.71" fill="#F8B850"/>
<circle cx="583.9" cy="816.1" r="2.16" fill="#7C0020"/>
<circle cx="619.7" cy="816.1" r="1.17" fill="#A01030"/>
<circle cx="619.7" cy="830.1" r="1.62" fill="#F8D060"/>
<circle cx="583.9" cy="844.1" r="1.71" fill="#F0A850"/>
<circle cx="502.5" cy="858.1" r="1.89" fill="#E07030"/>
<circle cx="538.3" cy="858.1" r="1.62" fill="#F0B050"/>
<text transform="translate(503.9 869.0) rotate(-90)" font-size="4.15" text-anchor="end" fill="#222">Classical Monocytes -&gt; Classical Monocytes</text>
<text transform="translate(539.7 869.0) rotate(-90)" font-size="4.15" text-anchor="end" fill="#222">Classical Monocytes -&gt; Non-Classical Monocytes</text>
<text transform="translate(585.3 869.0) rotate(-90)" font-size="4.15" text-anchor="end" fill="#222">Non-Classical Monocytes -&gt; Classical Monocytes</text>
<text transform="translate(621.1 869.0) rotate(-90)" font-size="4.15" text-anchor="end" fill="#222">Non-Classical Monocytes -&gt; Non-Classical Monocytes</text>
<text x="689.2" y="660.6" font-size="4.1">Commun. Prob.</text>
<defs><linearGradient id="sp" x1="0" y1="0" x2="0" y2="1"><stop offset="0" stop-color="#9E0142"/><stop offset="0.15" stop-color="#D53E4F"/><stop offset="0.3" stop-color="#F46D43"/><stop offset="0.45" stop-color="#FDAE61"/><stop offset="0.55" stop-color="#FEE08B"/><stop offset="0.65" stop-color="#E6F598"/><stop offset="0.75" stop-color="#ABDDA4"/><stop offset="0.85" stop-color="#66C2A5"/><stop offset="0.93" stop-color="#3288BD"/><stop offset="1" stop-color="#5E4FA2"/></linearGradient></defs>
<rect x="689.2" y="663.9" width="3.9" height="45.6" fill="url(#sp)"/>
<text x="695.0" y="666.2" font-size="2.9">max</text>
<text x="695.0" y="710.4" font-size="2.9">min</text>
<text x="689.2" y="724.0" font-size="4.4">p-value</text>
<circle cx="693.6" cy="731.2" r="1.5" fill="#000"/><circle cx="693.6" cy="740" r="2.0" fill="#000"/>
<text x="700.0" y="732.3" font-size="3.1">0.01 &lt; p &lt; 0.05</text>
<text x="700.0" y="741.1" font-size="3.1">p &lt; 0.01</text>
<text x="82.5" y="677.7" font-size="4.0" text-anchor="middle" font-weight="bold">KEGG:Oxidative phosphorylation</text>
<line x1="19.4" y1="681.4" x2="19.4" y2="806.7" stroke="#333" stroke-width="0.9"/>
<line x1="18.9" y1="806.2" x2="146.3" y2="806.2" stroke="#222" stroke-width="1.0"/>
<line x1="18.2" y1="713.0" x2="19.4" y2="713.0" stroke="#222" stroke-width="0.4"/>
<text x="17.4" y="713.9" font-size="2.6" text-anchor="end">0.6</text>
<line x1="18.2" y1="746.0" x2="19.4" y2="746.0" stroke="#222" stroke-width="0.4"/>
<text x="17.4" y="746.9" font-size="2.6" text-anchor="end">0.3</text>
<line x1="18.2" y1="779.0" x2="19.4" y2="779.0" stroke="#222" stroke-width="0.4"/>
<text x="17.4" y="779.9" font-size="2.6" text-anchor="end">0.0</text>
<text transform="translate(7.4 743.8) rotate(-90)" font-size="2.5" text-anchor="middle">Enrichment Score</text>
<defs><linearGradient id="b1" x1="0" y1="0" x2="1" y2="0"><stop offset="0" stop-color="#1a0505"/><stop offset="0.06" stop-color="#5a1015"/><stop offset="0.2" stop-color="#B24A4F"/><stop offset="0.38" stop-color="#E8B8B8"/><stop offset="0.5" stop-color="#F7EEEE"/><stop offset="0.62" stop-color="#E4EEF6"/><stop offset="0.75" stop-color="#9CC4E0"/><stop offset="0.9" stop-color="#5C9CCB"/><stop offset="1" stop-color="#3D7DB0"/></linearGradient></defs>
<rect x="20.9" y="775.3" width="123.2" height="8.8" fill="url(#b1)"/>
<path d="M27.7 775.3V784.1M30.8 775.3V784.1M32.9 775.3V784.1M34.4 775.3V784.1M36.9 775.3V784.1M39.0 775.3V784.1M41.5 775.3V784.1M43.8 775.3V784.1M45.1 775.3V784.1M47.2 775.3V784.1M50.4 775.3V784.1M52.1 775.3V784.1M54.7 775.3V784.1M55.9 775.3V784.1M58.7 775.3V784.1M61.2 775.3V784.1M62.7 775.3V784.1M65.9 775.3V784.1M68.0 775.3V784.1M69.0 775.3V784.1M71.2 775.3V784.1M74.1 775.3V784.1M78.8 775.3V784.1M82.5 775.3V784.1M83.1 775.3V784.1M88.7 775.3V784.1M104.1 775.3V784.1M106.6 775.3V784.1M107.7 775.3V784.1M110.2 775.3V784.1M113.8 775.3V784.1M116.1 775.3V784.1M118.5 775.3V784.1M120.4 775.3V784.1M123.3 775.3V784.1M125.8 775.3V784.1M128.2 775.3V784.1M130.0 775.3V784.1M132.9 775.3V784.1M135.3 775.3V784.1M138.3 775.3V784.1M141.1 775.3V784.1M143.5 775.3V784.1" stroke="#111" stroke-width="0.6" opacity="0.8" fill="none"/>
<path d="M20.9 779.6H144.1" stroke="#222" stroke-width="0.6" stroke-dasharray="0.6 1.6" fill="none"/>
<g fill="#6E1A1F" stroke="#3A0A0D" stroke-width="0.7"><circle cx="20.9" cy="779.1" r="1.8"/><circle cx="20.9" cy="777.7" r="1.8"/><circle cx="21.0" cy="776.3" r="1.8"/><circle cx="21.0" cy="774.9" r="1.8"/><circle cx="21.0" cy="773.5" r="1.8"/><circle cx="21.0" cy="772.1" r="1.8"/><circle cx="21.1" cy="770.7" r="1.8"/><circle cx="21.1" cy="769.3" r="1.8"/><circle cx="21.1" cy="767.9" r="1.8"/><circle cx="21.1" cy="766.4" r="1.8"/><circle cx="21.2" cy="765.0" r="1.8"/><circle cx="21.2" cy="763.6" r="1.8"/><circle cx="21.2" cy="762.2" r="1.8"/><circle cx="21.2" cy="760.8" r="1.8"/><circle cx="21.3" cy="759.4" r="1.8"/><circle cx="21.3" cy="758.0" r="1.8"/><circle cx="21.3" cy="756.6" r="1.8"/><circle cx="21.3" cy="755.2" r="1.8"/><circle cx="21.4" cy="753.8" r="1.8"/><circle cx="21.4" cy="752.4" r="1.8"/><circle cx="21.4" cy="751.0" r="1.8"/><circle cx="21.5" cy="749.6" r="1.8"/><circle cx="21.5" cy="748.2" r="1.8"/><circle cx="21.5" cy="746.8" r="1.8"/><circle cx="21.6" cy="745.4" r="1.8"/><circle cx="21.6" cy="744.0" r="1.8"/><circle cx="21.6" cy="742.6" r="1.8"/><circle cx="21.7" cy="741.2" r="1.8"/><circle cx="21.7" cy="739.8" r="1.8"/><circle cx="21.7" cy="738.4" r="1.8"/><circle cx="21.8" cy="737.0" r="1.8"/><circle cx="21.8" cy="735.6" r="1.8"/><circle cx="21.9" cy="734.2" r="1.8"/><circle cx="21.9" cy="732.8" r="1.8"/><circle cx="21.9" cy="731.3" r="1.8"/><circle cx="22.0" cy="729.9" r="1.8"/><circle cx="22.0" cy="728.5" r="1.8"/><circle cx="22.1" cy="727.1" r="1.8"/><circle cx="22.1" cy="725.7" r="1.8"/><circle cx="22.2" cy="724.3" r="1.8"/><circle cx="22.3" cy="722.9" r="1.8"/><circle cx="22.3" cy="721.5" r="1.8"/><circle cx="22.4" cy="720.1" r="1.8"/><circle cx="22.5" cy="718.7" r="1.8"/><circle cx="22.5" cy="717.3" r="1.8"/><circle cx="22.6" cy="715.9" r="1.8"/><circle cx="22.7" cy="714.5" r="1.8"/><circle cx="22.8" cy="713.1" r="1.8"/><circle cx="22.8" cy="711.7" r="1.8"/><circle cx="22.9" cy="710.3" r="1.8"/><circle cx="23.0" cy="708.9" r="1.8"/><circle cx="23.0" cy="707.5" r="1.8"/><circle cx="23.1" cy="706.1" r="1.8"/><circle cx="23.3" cy="704.7" r="1.8"/><circle cx="23.5" cy="703.3" r="1.8"/><circle cx="23.7" cy="701.9" r="1.8"/><circle cx="23.9" cy="700.5" r="1.8"/><circle cx="24.1" cy="699.1" r="1.8"/><circle cx="24.3" cy="697.8" r="1.8"/><circle cx="24.5" cy="696.4" r="1.8"/><circle cx="24.7" cy="695.0" r="1.8"/><circle cx="25.0" cy="693.6" r="1.8"/><circle cx="25.4" cy="692.3" r="1.8"/><circle cx="25.8" cy="690.9" r="1.8"/><circle cx="26.2" cy="689.6" r="1.8"/><circle cx="26.8" cy="688.3" r="1.8"/><circle cx="27.7" cy="687.2" r="1.8"/><circle cx="28.8" cy="686.7" r="1.8"/><circle cx="30.2" cy="686.8" r="1.8"/><circle cx="31.6" cy="687.0" r="1.8"/><circle cx="33.0" cy="687.1" r="1.8"/><circle cx="37.4" cy="690.2" r="1.8"/><circle cx="41.8" cy="693.3" r="1.8"/><circle cx="46.2" cy="696.1" r="1.8"/><circle cx="51.1" cy="699.4" r="1.8"/><circle cx="53.9" cy="701.6" r="1.8"/><circle cx="56.8" cy="703.8" r="1.8"/><circle cx="60.5" cy="706.0" r="1.8"/><circle cx="63.8" cy="710.0" r="1.8"/><circle cx="66.0" cy="711.5" r="1.8"/><circle cx="70.4" cy="717.0" r="1.8"/><circle cx="74.8" cy="720.3" r="1.8"/><circle cx="77.5" cy="722.5" r="1.8"/><circle cx="82.5" cy="726.9" r="1.8"/><circle cx="84.7" cy="729.1" r="1.8"/><circle cx="88.5" cy="732.4" r="1.8"/><circle cx="103.0" cy="746.1" r="1.8"/><circle cx="105.2" cy="747.8" r="1.8"/><circle cx="107.8" cy="750.0" r="1.8"/><circle cx="111.8" cy="753.3" r="1.8"/><circle cx="114.4" cy="754.9" r="1.8"/><circle cx="118.8" cy="758.8" r="1.8"/><circle cx="121.5" cy="761.0" r="1.8"/><circle cx="123.7" cy="763.2" r="1.8"/><circle cx="126.5" cy="765.9" r="1.8"/><circle cx="132.0" cy="770.9" r="1.8"/><circle cx="134.2" cy="772.3" r="1.8"/><circle cx="136.4" cy="773.6" r="1.8"/><circle cx="138.2" cy="774.5" r="1.8"/><circle cx="140.0" cy="775.3" r="1.8"/><circle cx="141.9" cy="776.0" r="1.8"/><circle cx="144.1" cy="776.9" r="1.8"/></g>
<text x="60.5" y="707.4" font-size="4.55" fill="#222">NES = 2.0256</text>
<text x="60.5" y="714.0" font-size="4.55" fill="#222">FDR = 3.3e-12</text>
<text x="225.3" y="677.7" font-size="4.0" text-anchor="middle" font-weight="bold">KEGG:Ribosome</text>
<line x1="162.6" y1="681.4" x2="162.6" y2="807.3" stroke="#333" stroke-width="0.9"/>
<line x1="162.1" y1="806.8" x2="289.1" y2="806.8" stroke="#222" stroke-width="1.0"/>
<line x1="161.4" y1="710.9" x2="162.6" y2="710.9" stroke="#222" stroke-width="0.4"/>
<text x="160.6" y="711.8" font-size="2.6" text-anchor="end">0.6</text>
<line x1="161.4" y1="745.2" x2="162.6" y2="745.2" stroke="#222" stroke-width="0.4"/>
<text x="160.6" y="746.1" font-size="2.6" text-anchor="end">0.3</text>
<line x1="161.4" y1="779.0" x2="162.6" y2="779.0" stroke="#222" stroke-width="0.4"/>
<text x="160.6" y="779.9" font-size="2.6" text-anchor="end">0.0</text>
<text transform="translate(150.6 744.1) rotate(-90)" font-size="2.5" text-anchor="middle">Enrichment Score</text>
<defs><linearGradient id="b2" x1="0" y1="0" x2="1" y2="0"><stop offset="0" stop-color="#000"/><stop offset="0.08" stop-color="#160303"/><stop offset="0.1" stop-color="#5a1015"/><stop offset="0.22" stop-color="#8E2A2F"/><stop offset="0.36" stop-color="#C87478"/><stop offset="0.37" stop-color="#E9C4C6"/><stop offset="0.68" stop-color="#F0D4D5"/><stop offset="0.69" stop-color="#fff"/><stop offset="0.7" stop-color="#CFE4F5"/><stop offset="0.83" stop-color="#A8D0EE"/><stop offset="0.84" stop-color="#6AA5D2"/><stop offset="1" stop-color="#4C8EC3"/></linearGradient></defs>
<rect x="163.7" y="774.7" width="124.3" height="8.8" fill="url(#b2)"/>
<path d="M164.4 774.7V783.5M166.6 774.7V783.5M168.3 774.7V783.5M170.5 774.7V783.5M172.5 774.7V783.5M173.7 774.7V783.5M175.6 774.7V783.5M178.5 774.7V783.5M179.7 774.7V783.5M181.6 774.7V783.5M184.4 774.7V783.5M185.7 774.7V783.5M188.0 774.7V783.5M189.5 774.7V783.5M191.6 774.7V783.5M193.0 774.7V783.5M195.5 774.7V783.5M197.7 774.7V783.5M199.2 774.7V783.5M201.3 774.7V783.5M203.2 774.7V783.5M204.4 774.7V783.5M207.1 774.7V783.5M208.8 774.7V783.5M249.5 774.7V783.5M251.3 774.7V783.5M268.1 774.7V783.5M271.8 774.7V783.5M282.4 774.7V783.5M286.8 774.7V783.5M204.7 774.7V783.5M208.4 774.7V783.5" stroke="#111" stroke-width="0.6" opacity="0.8" fill="none"/>
<path d="M163.7 779.4H288.0" stroke="#222" stroke-width="0.6" stroke-dasharray="0.6 1.6" fill="none"/>
<g fill="#6E1A1F" stroke="#3A0A0D" stroke-width="0.7"><circle cx="163.7" cy="779.1" r="1.8"/><circle cx="163.7" cy="777.7" r="1.8"/><circle cx="163.8" cy="776.3" r="1.8"/><circle cx="163.8" cy="774.9" r="1.8"/><circle cx="163.9" cy="773.4" r="1.8"/><circle cx="163.9" cy="772.0" r="1.8"/><circle cx="163.9" cy="770.6" r="1.8"/><circle cx="164.0" cy="769.2" r="1.8"/><circle cx="164.0" cy="767.8" r="1.8"/><circle cx="164.0" cy="766.4" r="1.8"/><circle cx="164.1" cy="765.0" r="1.8"/><circle cx="164.1" cy="763.6" r="1.8"/><circle cx="164.2" cy="762.2" r="1.8"/><circle cx="164.2" cy="760.8" r="1.8"/><circle cx="164.2" cy="759.3" r="1.8"/><circle cx="164.3" cy="757.9" r="1.8"/><circle cx="164.3" cy="756.5" r="1.8"/><circle cx="164.3" cy="755.1" r="1.8"/><circle cx="164.4" cy="753.7" r="1.8"/><circle cx="164.4" cy="752.3" r="1.8"/><circle cx="164.5" cy="750.9" r="1.8"/><circle cx="164.5" cy="749.5" r="1.8"/><circle cx="164.6" cy="748.1" r="1.8"/><circle cx="164.6" cy="746.7" r="1.8"/><circle cx="164.7" cy="745.2" r="1.8"/><circle cx="164.7" cy="743.8" r="1.8"/><circle cx="164.8" cy="742.4" r="1.8"/><circle cx="164.8" cy="741.0" r="1.8"/><circle cx="164.9" cy="739.6" r="1.8"/><circle cx="164.9" cy="738.2" r="1.8"/><circle cx="165.0" cy="736.8" r="1.8"/><circle cx="165.0" cy="735.4" r="1.8"/><circle cx="165.0" cy="734.0" r="1.8"/><circle cx="165.1" cy="732.6" r="1.8"/><circle cx="165.1" cy="731.1" r="1.8"/><circle cx="165.2" cy="729.7" r="1.8"/><circle cx="165.2" cy="728.3" r="1.8"/><circle cx="165.3" cy="726.9" r="1.8"/><circle cx="165.4" cy="725.5" r="1.8"/><circle cx="165.5" cy="724.1" r="1.8"/><circle cx="165.6" cy="722.7" r="1.8"/><circle cx="165.7" cy="721.3" r="1.8"/><circle cx="165.8" cy="719.9" r="1.8"/><circle cx="165.9" cy="718.5" r="1.8"/><circle cx="166.0" cy="717.1" r="1.8"/><circle cx="166.1" cy="715.7" r="1.8"/><circle cx="166.2" cy="714.3" r="1.8"/><circle cx="166.3" cy="712.8" r="1.8"/><circle cx="166.4" cy="711.4" r="1.8"/><circle cx="166.4" cy="710.0" r="1.8"/><circle cx="166.5" cy="708.6" r="1.8"/><circle cx="166.7" cy="707.2" r="1.8"/><circle cx="166.9" cy="705.8" r="1.8"/><circle cx="167.2" cy="704.4" r="1.8"/><circle cx="167.4" cy="703.0" r="1.8"/><circle cx="167.6" cy="701.7" r="1.8"/><circle cx="167.8" cy="700.3" r="1.8"/><circle cx="168.1" cy="698.9" r="1.8"/><circle cx="168.3" cy="697.5" r="1.8"/><circle cx="168.7" cy="696.1" r="1.8"/><circle cx="169.1" cy="694.8" r="1.8"/><circle cx="169.5" cy="693.4" r="1.8"/><circle cx="169.9" cy="692.1" r="1.8"/><circle cx="170.4" cy="690.7" r="1.8"/><circle cx="171.0" cy="689.5" r="1.8"/><circle cx="171.9" cy="688.4" r="1.8"/><circle cx="172.7" cy="687.3" r="1.8"/><circle cx="173.8" cy="686.7" r="1.8"/><circle cx="175.2" cy="686.9" r="1.8"/><circle cx="176.6" cy="687.1" r="1.8"/><circle cx="178.0" cy="687.3" r="1.8"/><circle cx="179.8" cy="687.1" r="1.8"/><circle cx="181.3" cy="686.9" r="1.8"/><circle cx="182.9" cy="687.3" r="1.8"/><circle cx="184.6" cy="688.0" r="1.8"/><circle cx="186.4" cy="688.6" r="1.8"/><circle cx="187.9" cy="689.5" r="1.8"/><circle cx="189.7" cy="690.8" r="1.8"/><circle cx="191.2" cy="692.2" r="1.8"/><circle cx="195.2" cy="695.0" r="1.8"/><circle cx="201.8" cy="701.2" r="1.8"/><circle cx="204.9" cy="703.8" r="1.8"/><circle cx="208.8" cy="707.1" r="1.8"/><circle cx="248.9" cy="743.0" r="1.8"/><circle cx="251.7" cy="745.0" r="1.8"/><circle cx="267.6" cy="759.3" r="1.8"/><circle cx="271.1" cy="762.6" r="1.8"/><circle cx="282.5" cy="772.0" r="1.8"/><circle cx="286.9" cy="775.8" r="1.8"/></g>
<text x="253.9" y="707.4" font-size="4.55" fill="#222">NES = 2.0037</text>
<text x="253.9" y="714.0" font-size="4.55" fill="#222">FDR = 2.9e-12</text>
<text x="82.5" y="821.4" font-size="4.0" text-anchor="middle" font-weight="bold">KEGG:Bile secretion</text>
<line x1="19.4" y1="824.4" x2="19.4" y2="950.7" stroke="#333" stroke-width="0.9"/>
<line x1="18.9" y1="950.2" x2="145.2" y2="950.2" stroke="#222" stroke-width="1.0"/>
<line x1="18.2" y1="856.7" x2="19.4" y2="856.7" stroke="#222" stroke-width="0.4"/>
<text x="17.4" y="857.6" font-size="2.6" text-anchor="end">0.00</text>
<line x1="18.2" y1="890.4" x2="19.4" y2="890.4" stroke="#222" stroke-width="0.4"/>
<text x="17.4" y="891.3" font-size="2.6" text-anchor="end">-0.25</text>
<line x1="18.2" y1="923.8" x2="19.4" y2="923.8" stroke="#222" stroke-width="0.4"/>
<text x="17.4" y="924.7" font-size="2.6" text-anchor="end">-0.50</text>
<text transform="translate(7.4 887.3) rotate(-90)" font-size="2.5" text-anchor="middle">Enrichment Score</text>
<defs><linearGradient id="b3" x1="0" y1="0" x2="1" y2="0"><stop offset="0" stop-color="#A3181C"/><stop offset="0.1" stop-color="#B83A3E"/><stop offset="0.25" stop-color="#D98C8E"/><stop offset="0.4" stop-color="#F0D0D0"/><stop offset="0.5" stop-color="#FAF4F4"/><stop offset="0.6" stop-color="#E0ECF6"/><stop offset="0.75" stop-color="#A9CDE8"/><stop offset="0.88" stop-color="#7FB5DF"/><stop offset="1" stop-color="#2D6AA0"/></linearGradient></defs>
<rect x="20.2" y="851.7" width="124.6" height="10.1" fill="url(#b3)"/>
<path d="M34.3 851.7V861.8M37.4 851.7V861.8M40.4 851.7V861.8M43.6 851.7V861.8M46.2 851.7V861.8M49.4 851.7V861.8M50.7 851.7V861.8M54.4 851.7V861.8M58.1 851.7V861.8M60.5 851.7V861.8M63.9 851.7V861.8M65.4 851.7V861.8M68.2 851.7V861.8M69.8 851.7V861.8M72.0 851.7V861.8M73.1 851.7V861.8M75.3 851.7V861.8M76.8 851.7V861.8M78.2 851.7V861.8M80.4 851.7V861.8M81.6 851.7V861.8M83.8 851.7V861.8M85.1 851.7V861.8M86.8 851.7V861.8M88.9 851.7V861.8M91.0 851.7V861.8M92.0 851.7V861.8M93.8 851.7V861.8M99.7 851.7V861.8M103.2 851.7V861.8M105.9 851.7V861.8M108.8 851.7V861.8M111.7 851.7V861.8M116.4 851.7V861.8M119.4 851.7V861.8M123.3 851.7V861.8M125.9 851.7V861.8M130.1 851.7V861.8M132.5 851.7V861.8M137.0 851.7V861.8M140.2 851.7V861.8M142.9 851.7V861.8M70.0 851.7V861.8M70.7 851.7V861.8M71.3 851.7V861.8M80.0 851.7V861.8M81.3 851.7V861.8M82.5 851.7V861.8M137.3 851.7V861.8M138.6 851.7V861.8M139.8 851.7V861.8" stroke="#111" stroke-width="0.6" opacity="0.8" fill="none"/>
<path d="M20.2 856.9H144.8" stroke="#222" stroke-width="0.6" stroke-dasharray="0.6 1.6" fill="none"/>
<g fill="#4682B4" stroke="#0d2a40" stroke-width="0.7"><circle cx="21.3" cy="856.1" r="1.8"/><circle cx="34.1" cy="864.0" r="1.8"/><circle cx="35.7" cy="864.0" r="1.8"/><circle cx="42.9" cy="867.7" r="1.8"/><circle cx="47.3" cy="870.6" r="1.8"/><circle cx="49.5" cy="870.6" r="1.8"/><circle cx="51.7" cy="869.9" r="1.8"/><circle cx="56.1" cy="873.2" r="1.8"/><circle cx="60.5" cy="876.5" r="1.8"/><circle cx="63.4" cy="878.7" r="1.8"/><circle cx="67.8" cy="883.1" r="1.8"/><circle cx="70.0" cy="885.3" r="1.8"/><circle cx="72.2" cy="887.5" r="1.8"/><circle cx="74.8" cy="890.2" r="1.8"/><circle cx="78.8" cy="894.1" r="1.8"/><circle cx="81.0" cy="895.7" r="1.8"/><circle cx="83.2" cy="897.4" r="1.8"/><circle cx="85.4" cy="899.6" r="1.8"/><circle cx="87.6" cy="901.8" r="1.8"/><circle cx="89.8" cy="904.0" r="1.8"/><circle cx="91.3" cy="906.2" r="1.8"/><circle cx="95.7" cy="910.6" r="1.8"/><circle cx="97.9" cy="912.8" r="1.8"/><circle cx="100.1" cy="915.0" r="1.8"/><circle cx="103.0" cy="918.3" r="1.8"/><circle cx="106.7" cy="921.6" r="1.8"/><circle cx="108.9" cy="923.8" r="1.8"/><circle cx="111.1" cy="926.0" r="1.8"/><circle cx="113.3" cy="928.2" r="1.8"/><circle cx="115.5" cy="930.4" r="1.8"/><circle cx="117.7" cy="932.6" r="1.8"/><circle cx="119.9" cy="934.8" r="1.8"/><circle cx="122.8" cy="937.5" r="1.8"/><circle cx="127.6" cy="941.9" r="1.8"/><circle cx="133.8" cy="944.7" r="1.8"/><circle cx="136.4" cy="944.1" r="1.8"/><circle cx="137.1" cy="941.4" r="1.8"/><circle cx="137.5" cy="938.1" r="1.8"/><circle cx="138.6" cy="935.3" r="1.8"/><circle cx="139.3" cy="930.0" r="1.8"/><circle cx="140.4" cy="923.8" r="1.8"/><circle cx="141.3" cy="915.7" r="1.8"/><circle cx="143.0" cy="898.5" r="1.8"/></g>
<text x="57.2" y="916.8" font-size="4.55" fill="#222">NES = -1.6444</text>
<text x="57.2" y="923.4" font-size="4.55" fill="#222">FDR = 1.3e-02</text>
<text x="225.3" y="821.4" font-size="4.0" text-anchor="middle" font-weight="bold">KEGG:Autoimmune thyroid disease</text>
<line x1="162.6" y1="824.4" x2="162.6" y2="951.2" stroke="#333" stroke-width="0.9"/>
<line x1="162.1" y1="950.7" x2="288.5" y2="950.7" stroke="#222" stroke-width="1.0"/>
<line x1="161.4" y1="855.0" x2="162.6" y2="855.0" stroke="#222" stroke-width="0.4"/>
<text x="160.6" y="855.9" font-size="2.6" text-anchor="end">0.00</text>
<line x1="161.4" y1="886.0" x2="162.6" y2="886.0" stroke="#222" stroke-width="0.4"/>
<text x="160.6" y="886.9" font-size="2.6" text-anchor="end">-0.25</text>
<line x1="161.4" y1="916.8" x2="162.6" y2="916.8" stroke="#222" stroke-width="0.4"/>
<text x="160.6" y="917.7" font-size="2.6" text-anchor="end">-0.50</text>
<line x1="161.4" y1="948.0" x2="162.6" y2="948.0" stroke="#222" stroke-width="0.4"/>
<text x="160.6" y="948.9" font-size="2.6" text-anchor="end">-0.75</text>
<text transform="translate(150.6 887.5) rotate(-90)" font-size="2.5" text-anchor="middle">Enrichment Score</text>
<defs><linearGradient id="b4" x1="0" y1="0" x2="1" y2="0"><stop offset="0" stop-color="#3A7FB5"/><stop offset="0.015" stop-color="#3A7FB5"/><stop offset="0.02" stop-color="#9E1C20"/><stop offset="0.2" stop-color="#B23438"/><stop offset="0.21" stop-color="#C96A6D"/><stop offset="0.34" stop-color="#D78C8E"/><stop offset="0.35" stop-color="#EBC8C9"/><stop offset="0.47" stop-color="#EFD3D4"/><stop offset="0.48" stop-color="#F8F1F1"/><stop offset="0.6" stop-color="#F8F8FA"/><stop offset="0.61" stop-color="#DCEAF6"/><stop offset="0.76" stop-color="#D5E6F4"/><stop offset="0.77" stop-color="#8DBCE0"/><stop offset="0.92" stop-color="#6FAAD8"/><stop offset="0.93" stop-color="#2A5E8E"/><stop offset="0.97" stop-color="#0f2f50"/><stop offset="1" stop-color="#08203a"/></linearGradient></defs>
<rect x="163.7" y="850.1" width="124.3" height="9.9" fill="url(#b4)"/>
<path d="M171.2 850.1V860.0M176.1 850.1V860.0M188.6 850.1V860.0M190.4 850.1V860.0M194.8 850.1V860.0M196.0 850.1V860.0M201.0 850.1V860.0M206.0 850.1V860.0M207.2 850.1V860.0M222.1 850.1V860.0M222.7 850.1V860.0M232.1 850.1V860.0M235.2 850.1V860.0M235.8 850.1V860.0M238.3 850.1V860.0M258.2 850.1V860.0M259.4 850.1V860.0M270.6 850.1V860.0M278.1 850.1V860.0M279.3 850.1V860.0M281.8 850.1V860.0M283.0 850.1V860.0M284.3 850.1V860.0M285.5 850.1V860.0M286.8 850.1V860.0" stroke="#111" stroke-width="0.6" opacity="0.8" fill="none"/>
<path d="M163.7 855.2H288.0" stroke="#222" stroke-width="0.6" stroke-dasharray="0.6 1.6" fill="none"/>
<g fill="#4682B4" stroke="#0d2a40" stroke-width="0.7"><circle cx="164.8" cy="851.7" r="1.8"/><circle cx="165.9" cy="849.9" r="1.8"/><circle cx="167.0" cy="848.6" r="1.8"/><circle cx="168.8" cy="847.5" r="1.8"/><circle cx="171.0" cy="848.4" r="1.8"/><circle cx="173.6" cy="849.0" r="1.8"/><circle cx="189.0" cy="862.2" r="1.8"/><circle cx="191.2" cy="863.8" r="1.8"/><circle cx="195.6" cy="867.3" r="1.8"/><circle cx="198.5" cy="869.5" r="1.8"/><circle cx="203.3" cy="873.9" r="1.8"/><circle cx="207.3" cy="877.2" r="1.8"/><circle cx="221.4" cy="891.5" r="1.8"/><circle cx="222.7" cy="893.0" r="1.8"/><circle cx="232.6" cy="901.8" r="1.8"/><circle cx="235.9" cy="905.6" r="1.8"/><circle cx="259.0" cy="927.6" r="1.8"/><circle cx="260.1" cy="928.9" r="1.8"/><circle cx="271.1" cy="938.6" r="1.8"/><circle cx="278.8" cy="944.7" r="1.8"/><circle cx="280.3" cy="944.7" r="1.8"/><circle cx="281.9" cy="943.6" r="1.8"/><circle cx="283.2" cy="941.9" r="1.8"/><circle cx="284.1" cy="939.2" r="1.8"/><circle cx="284.5" cy="936.4" r="1.8"/><circle cx="285.0" cy="932.6" r="1.8"/><circle cx="285.2" cy="929.3" r="1.8"/><circle cx="285.2" cy="924.9" r="1.8"/><circle cx="285.4" cy="920.1" r="1.8"/><circle cx="285.8" cy="913.9" r="1.8"/><circle cx="286.3" cy="906.2" r="1.8"/><circle cx="286.9" cy="895.2" r="1.8"/><circle cx="286.9" cy="883.1" r="1.8"/><circle cx="286.9" cy="869.3" r="1.8"/></g>
<text x="193.9" y="919.0" font-size="4.55" fill="#222">NES = -1.6437</text>
<text x="193.9" y="925.6" font-size="4.55" fill="#222">FDR = 3.5e-02</text>
</svg>
</body></html>
